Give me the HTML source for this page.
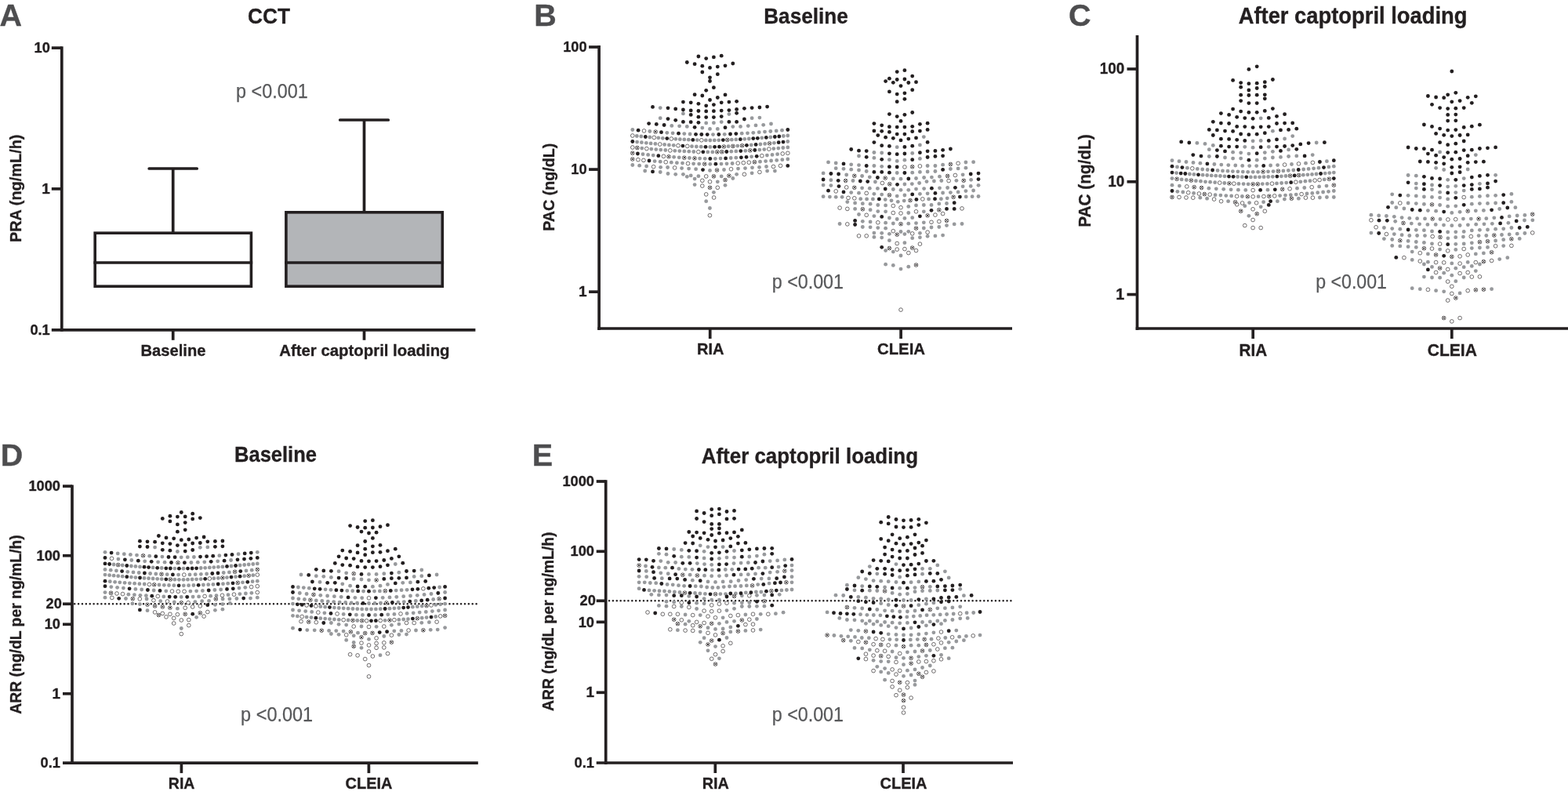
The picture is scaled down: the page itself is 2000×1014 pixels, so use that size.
<!DOCTYPE html>
<html lang="en"><head><meta charset="utf-8"><title>Figure</title>
<style>
html,body{margin:0;padding:0;background:#fff;}
body{width:2000px;height:1014px;overflow:hidden;}
svg{display:block;font-family:"Liberation Sans",sans-serif;}
.b{fill:#231f20} .g{fill:#97999c} .o{fill:#fff;stroke:#231f20;stroke-width:.65} .x{fill:#fff;stroke:#231f20;stroke-width:.65}
</style></head>
<body>
<svg width="2000" height="1014" viewBox="0 0 2000 1014">
<rect width="2000" height="1014" fill="#fff"/>
<text x="-0.5" y="32.8" font-size="39.5" font-weight="bold" text-anchor="start" fill="#4d4d4f" stroke="#4d4d4f" stroke-width="0.35">A</text>
<text x="343.0" y="29.7" font-size="28.3" font-weight="bold" text-anchor="middle" fill="#231f20" stroke="#231f20" stroke-width="0.35" textLength="54.0" lengthAdjust="spacingAndGlyphs">CCT</text>
<line x1="78.8" y1="59.2" x2="78.8" y2="422.7" stroke="#231f20" stroke-width="3.7" stroke-linecap="butt" />
<line x1="65.8" y1="420.8" x2="606.4" y2="420.8" stroke="#231f20" stroke-width="3.7" stroke-linecap="butt" />
<line x1="65.8" y1="61.1" x2="78.8" y2="61.1" stroke="#231f20" stroke-width="3.7" stroke-linecap="butt" />
<text x="63.8" y="67.2" font-size="19" font-weight="bold" text-anchor="end" fill="#231f20" stroke="#231f20" stroke-width="0.35" textLength="20.3" lengthAdjust="spacingAndGlyphs">10</text>
<line x1="65.8" y1="240.9" x2="78.8" y2="240.9" stroke="#231f20" stroke-width="3.7" stroke-linecap="butt" />
<text x="63.8" y="247.0" font-size="19" font-weight="bold" text-anchor="end" fill="#231f20" stroke="#231f20" stroke-width="0.35">1</text>
<text x="63.8" y="426.9" font-size="19" font-weight="bold" text-anchor="end" fill="#231f20" stroke="#231f20" stroke-width="0.35" textLength="25.4" lengthAdjust="spacingAndGlyphs">0.1</text>
<text x="26.8" y="240.3" font-size="21" font-weight="bold" text-anchor="middle" fill="#231f20" stroke="#231f20" stroke-width="0.35" textLength="137.5" lengthAdjust="spacingAndGlyphs" transform="rotate(-90 26.8 240.3)">PRA (ng/mL/h)</text>
<line x1="220.7" y1="420.8" x2="220.7" y2="433.8" stroke="#231f20" stroke-width="3.7" stroke-linecap="butt" />
<text x="221.0" y="454.3" font-size="20.5" font-weight="bold" text-anchor="middle" fill="#231f20" stroke="#231f20" stroke-width="0.35" textLength="83.0" lengthAdjust="spacingAndGlyphs">Baseline</text>
<line x1="464.5" y1="420.8" x2="464.5" y2="433.8" stroke="#231f20" stroke-width="3.7" stroke-linecap="butt" />
<text x="464.9" y="454.3" font-size="20.5" font-weight="bold" text-anchor="middle" fill="#231f20" stroke="#231f20" stroke-width="0.35" textLength="217.3" lengthAdjust="spacingAndGlyphs">After captopril loading</text>
<text x="301.0" y="125.0" font-size="26.3" font-weight="normal" text-anchor="start" fill="#58595b" stroke="#58595b" stroke-width="0.25" textLength="91.7" lengthAdjust="spacingAndGlyphs">p &lt;0.001</text>
<rect x="121.2" y="297.2" width="199.2" height="68.0" fill="#fff" stroke="#231f20" stroke-width="3.6"/>
<line x1="119.4" y1="335.0" x2="322.2" y2="335.0" stroke="#231f20" stroke-width="3.7" stroke-linecap="butt" />
<line x1="220.7" y1="215.0" x2="220.7" y2="296.4" stroke="#231f20" stroke-width="3.7" stroke-linecap="butt" />
<line x1="190.2" y1="215.0" x2="251.2" y2="215.0" stroke="#231f20" stroke-width="3.7" stroke-linecap="round" />
<rect x="364.9" y="270.8" width="199.4" height="94.4" fill="#b3b5b8" stroke="#231f20" stroke-width="3.6"/>
<line x1="363.1" y1="335.0" x2="566.1" y2="335.0" stroke="#231f20" stroke-width="3.7" stroke-linecap="butt" />
<line x1="464.5" y1="153.0" x2="464.5" y2="270.0" stroke="#231f20" stroke-width="3.7" stroke-linecap="butt" />
<line x1="433.7" y1="153.0" x2="495.3" y2="153.0" stroke="#231f20" stroke-width="3.7" stroke-linecap="round" />
<text x="681.3" y="32.6" font-size="39.5" font-weight="bold" text-anchor="start" fill="#4d4d4f" stroke="#4d4d4f" stroke-width="0.35">B</text>
<text x="1028.0" y="29.6" font-size="28.3" font-weight="bold" text-anchor="middle" fill="#231f20" stroke="#231f20" stroke-width="0.35" textLength="107.5" lengthAdjust="spacingAndGlyphs">Baseline</text>
<line x1="764.1" y1="58.0" x2="764.1" y2="420.9" stroke="#231f20" stroke-width="3.7" stroke-linecap="butt" />
<line x1="762.2" y1="419.0" x2="1291.0" y2="419.0" stroke="#231f20" stroke-width="3.7" stroke-linecap="butt" />
<line x1="751.1" y1="60.0" x2="764.1" y2="60.0" stroke="#231f20" stroke-width="3.7" stroke-linecap="butt" />
<text x="748.6" y="66.1" font-size="19" font-weight="bold" text-anchor="end" fill="#231f20" stroke="#231f20" stroke-width="0.35" textLength="30.4" lengthAdjust="spacingAndGlyphs">100</text>
<line x1="751.1" y1="216.1" x2="764.1" y2="216.1" stroke="#231f20" stroke-width="3.7" stroke-linecap="butt" />
<text x="748.6" y="222.2" font-size="19" font-weight="bold" text-anchor="end" fill="#231f20" stroke="#231f20" stroke-width="0.35" textLength="20.3" lengthAdjust="spacingAndGlyphs">10</text>
<line x1="751.1" y1="372.2" x2="764.1" y2="372.2" stroke="#231f20" stroke-width="3.7" stroke-linecap="butt" />
<text x="748.6" y="378.3" font-size="19" font-weight="bold" text-anchor="end" fill="#231f20" stroke="#231f20" stroke-width="0.35">1</text>
<text x="706.9" y="238.8" font-size="20.6" font-weight="bold" text-anchor="middle" fill="#231f20" stroke="#231f20" stroke-width="0.35" textLength="112.0" lengthAdjust="spacingAndGlyphs" transform="rotate(-90 706.9 238.8)">PAC (ng/dL)</text>
<line x1="905.7" y1="419.0" x2="905.7" y2="432.0" stroke="#231f20" stroke-width="3.7" stroke-linecap="butt" />
<text x="906.2" y="452.4" font-size="20.5" font-weight="bold" text-anchor="middle" fill="#231f20" stroke="#231f20" stroke-width="0.35" textLength="34.5" lengthAdjust="spacingAndGlyphs">RIA</text>
<line x1="1149.1" y1="419.0" x2="1149.1" y2="432.0" stroke="#231f20" stroke-width="3.7" stroke-linecap="butt" />
<text x="1149.5" y="452.4" font-size="20.5" font-weight="bold" text-anchor="middle" fill="#231f20" stroke="#231f20" stroke-width="0.35" textLength="61.0" lengthAdjust="spacingAndGlyphs">CLEIA</text>
<text x="984.8" y="367.8" font-size="26.3" font-weight="normal" text-anchor="start" fill="#58595b" stroke="#58595b" stroke-width="0.25" textLength="91.2" lengthAdjust="spacingAndGlyphs">p &lt;0.001</text>
<text x="1363.0" y="33.0" font-size="39.5" font-weight="bold" text-anchor="start" fill="#4d4d4f" stroke="#4d4d4f" stroke-width="0.35">C</text>
<text x="1725.6" y="30.0" font-size="29.5" font-weight="bold" text-anchor="middle" fill="#231f20" stroke="#231f20" stroke-width="0.35" textLength="291.8" lengthAdjust="spacingAndGlyphs">After captopril loading</text>
<line x1="1450.5" y1="44.9" x2="1450.5" y2="420.9" stroke="#231f20" stroke-width="3.7" stroke-linecap="butt" />
<line x1="1448.7" y1="419.0" x2="2000.0" y2="419.0" stroke="#231f20" stroke-width="3.7" stroke-linecap="butt" />
<line x1="1437.5" y1="88.0" x2="1450.5" y2="88.0" stroke="#231f20" stroke-width="3.7" stroke-linecap="butt" />
<text x="1434.3" y="94.1" font-size="19.7" font-weight="bold" text-anchor="end" fill="#231f20" stroke="#231f20" stroke-width="0.35" textLength="31.5" lengthAdjust="spacingAndGlyphs">100</text>
<line x1="1437.5" y1="231.8" x2="1450.5" y2="231.8" stroke="#231f20" stroke-width="3.7" stroke-linecap="butt" />
<text x="1434.3" y="237.9" font-size="19.7" font-weight="bold" text-anchor="end" fill="#231f20" stroke="#231f20" stroke-width="0.35" textLength="21.0" lengthAdjust="spacingAndGlyphs">10</text>
<line x1="1437.5" y1="375.6" x2="1450.5" y2="375.6" stroke="#231f20" stroke-width="3.7" stroke-linecap="butt" />
<text x="1434.3" y="381.7" font-size="19.7" font-weight="bold" text-anchor="end" fill="#231f20" stroke="#231f20" stroke-width="0.35">1</text>
<text x="1391.5" y="230.6" font-size="21.8" font-weight="bold" text-anchor="middle" fill="#231f20" stroke="#231f20" stroke-width="0.35" textLength="118.3" lengthAdjust="spacingAndGlyphs" transform="rotate(-90 1391.5 230.6)">PAC (ng/dL)</text>
<line x1="1598.2" y1="419.0" x2="1598.2" y2="432.0" stroke="#231f20" stroke-width="3.7" stroke-linecap="butt" />
<text x="1598.3" y="453.8" font-size="21.3" font-weight="bold" text-anchor="middle" fill="#231f20" stroke="#231f20" stroke-width="0.35" textLength="35.7" lengthAdjust="spacingAndGlyphs">RIA</text>
<line x1="1851.8" y1="419.0" x2="1851.8" y2="432.0" stroke="#231f20" stroke-width="3.7" stroke-linecap="butt" />
<text x="1852.3" y="453.8" font-size="21.3" font-weight="bold" text-anchor="middle" fill="#231f20" stroke="#231f20" stroke-width="0.35" textLength="63.2" lengthAdjust="spacingAndGlyphs">CLEIA</text>
<text x="1678.2" y="367.6" font-size="26.3" font-weight="normal" text-anchor="start" fill="#58595b" stroke="#58595b" stroke-width="0.25" textLength="90.8" lengthAdjust="spacingAndGlyphs">p &lt;0.001</text>
<text x="0.8" y="594.2" font-size="39.5" font-weight="bold" text-anchor="start" fill="#4d4d4f" stroke="#4d4d4f" stroke-width="0.35">D</text>
<text x="351.5" y="588.6" font-size="28.3" font-weight="bold" text-anchor="middle" fill="#231f20" stroke="#231f20" stroke-width="0.35" textLength="105.0" lengthAdjust="spacingAndGlyphs">Baseline</text>
<line x1="92.0" y1="618.4" x2="92.0" y2="975.0" stroke="#231f20" stroke-width="3.7" stroke-linecap="butt" />
<line x1="80.0" y1="973.1" x2="609.8" y2="973.1" stroke="#231f20" stroke-width="3.7" stroke-linecap="butt" />
<line x1="80.0" y1="620.1" x2="92.0" y2="620.1" stroke="#231f20" stroke-width="3.7" stroke-linecap="butt" />
<text x="77.0" y="626.2" font-size="19" font-weight="bold" text-anchor="end" fill="#231f20" stroke="#231f20" stroke-width="0.35" textLength="40.6" lengthAdjust="spacingAndGlyphs">1000</text>
<line x1="80.0" y1="708.7" x2="92.0" y2="708.7" stroke="#231f20" stroke-width="3.7" stroke-linecap="butt" />
<text x="77.0" y="714.8" font-size="19" font-weight="bold" text-anchor="end" fill="#231f20" stroke="#231f20" stroke-width="0.35" textLength="30.4" lengthAdjust="spacingAndGlyphs">100</text>
<line x1="80.0" y1="770.3" x2="92.0" y2="770.3" stroke="#231f20" stroke-width="3.7" stroke-linecap="butt" />
<text x="78.8" y="776.4" font-size="19" font-weight="bold" text-anchor="end" fill="#231f20" stroke="#231f20" stroke-width="0.35" textLength="20.3" lengthAdjust="spacingAndGlyphs">20</text>
<line x1="80.0" y1="796.3" x2="92.0" y2="796.3" stroke="#231f20" stroke-width="3.7" stroke-linecap="butt" />
<text x="77.0" y="802.4" font-size="19" font-weight="bold" text-anchor="end" fill="#231f20" stroke="#231f20" stroke-width="0.35" textLength="20.3" lengthAdjust="spacingAndGlyphs">10</text>
<line x1="80.0" y1="884.8" x2="92.0" y2="884.8" stroke="#231f20" stroke-width="3.7" stroke-linecap="butt" />
<text x="77.0" y="890.9" font-size="19" font-weight="bold" text-anchor="end" fill="#231f20" stroke="#231f20" stroke-width="0.35">1</text>
<text x="77.0" y="979.2" font-size="19" font-weight="bold" text-anchor="end" fill="#231f20" stroke="#231f20" stroke-width="0.35" textLength="25.4" lengthAdjust="spacingAndGlyphs">0.1</text>
<text x="26.5" y="796.5" font-size="20.6" font-weight="bold" text-anchor="middle" fill="#231f20" stroke="#231f20" stroke-width="0.35" textLength="228.5" lengthAdjust="spacingAndGlyphs" transform="rotate(-90 26.5 796.5)">ARR (ng/dL per ng/mL/h)</text>
<line x1="231.4" y1="973.1" x2="231.4" y2="986.1" stroke="#231f20" stroke-width="3.7" stroke-linecap="butt" />
<text x="231.6" y="1006.0" font-size="20.5" font-weight="bold" text-anchor="middle" fill="#231f20" stroke="#231f20" stroke-width="0.35" textLength="33.6" lengthAdjust="spacingAndGlyphs">RIA</text>
<line x1="470.4" y1="973.1" x2="470.4" y2="986.1" stroke="#231f20" stroke-width="3.7" stroke-linecap="butt" />
<text x="470.5" y="1006.0" font-size="20.5" font-weight="bold" text-anchor="middle" fill="#231f20" stroke="#231f20" stroke-width="0.35" textLength="60.0" lengthAdjust="spacingAndGlyphs">CLEIA</text>
<text x="307.1" y="919.7" font-size="26.3" font-weight="normal" text-anchor="start" fill="#58595b" stroke="#58595b" stroke-width="0.25" textLength="92.1" lengthAdjust="spacingAndGlyphs">p &lt;0.001</text>
<text x="678.8" y="593.8" font-size="39.5" font-weight="bold" text-anchor="start" fill="#4d4d4f" stroke="#4d4d4f" stroke-width="0.35">E</text>
<text x="1032.9" y="591.3" font-size="28.3" font-weight="bold" text-anchor="middle" fill="#231f20" stroke="#231f20" stroke-width="0.35" textLength="276.2" lengthAdjust="spacingAndGlyphs">After captopril loading</text>
<line x1="772.7" y1="612.2" x2="772.7" y2="974.9" stroke="#231f20" stroke-width="3.7" stroke-linecap="butt" />
<line x1="760.7" y1="973.0" x2="1292.0" y2="973.0" stroke="#231f20" stroke-width="3.7" stroke-linecap="butt" />
<line x1="760.7" y1="614.0" x2="772.7" y2="614.0" stroke="#231f20" stroke-width="3.7" stroke-linecap="butt" />
<text x="758.0" y="620.1" font-size="19" font-weight="bold" text-anchor="end" fill="#231f20" stroke="#231f20" stroke-width="0.35" textLength="40.6" lengthAdjust="spacingAndGlyphs">1000</text>
<line x1="760.7" y1="703.3" x2="772.7" y2="703.3" stroke="#231f20" stroke-width="3.7" stroke-linecap="butt" />
<text x="758.0" y="709.4" font-size="19" font-weight="bold" text-anchor="end" fill="#231f20" stroke="#231f20" stroke-width="0.35" textLength="30.4" lengthAdjust="spacingAndGlyphs">100</text>
<line x1="760.7" y1="766.3" x2="772.7" y2="766.3" stroke="#231f20" stroke-width="3.7" stroke-linecap="butt" />
<text x="759.8" y="772.4" font-size="19" font-weight="bold" text-anchor="end" fill="#231f20" stroke="#231f20" stroke-width="0.35" textLength="20.3" lengthAdjust="spacingAndGlyphs">20</text>
<line x1="760.7" y1="793.4" x2="772.7" y2="793.4" stroke="#231f20" stroke-width="3.7" stroke-linecap="butt" />
<text x="758.0" y="799.5" font-size="19" font-weight="bold" text-anchor="end" fill="#231f20" stroke="#231f20" stroke-width="0.35" textLength="20.3" lengthAdjust="spacingAndGlyphs">10</text>
<line x1="760.7" y1="883.3" x2="772.7" y2="883.3" stroke="#231f20" stroke-width="3.7" stroke-linecap="butt" />
<text x="758.0" y="889.4" font-size="19" font-weight="bold" text-anchor="end" fill="#231f20" stroke="#231f20" stroke-width="0.35">1</text>
<text x="758.0" y="979.1" font-size="19" font-weight="bold" text-anchor="end" fill="#231f20" stroke="#231f20" stroke-width="0.35" textLength="25.4" lengthAdjust="spacingAndGlyphs">0.1</text>
<text x="706.5" y="792.8" font-size="20.6" font-weight="bold" text-anchor="middle" fill="#231f20" stroke="#231f20" stroke-width="0.35" textLength="228.5" lengthAdjust="spacingAndGlyphs" transform="rotate(-90 706.5 792.8)">ARR (ng/dL per ng/mL/h)</text>
<line x1="912.3" y1="973.0" x2="912.3" y2="986.0" stroke="#231f20" stroke-width="3.7" stroke-linecap="butt" />
<text x="912.8" y="1006.0" font-size="20.5" font-weight="bold" text-anchor="middle" fill="#231f20" stroke="#231f20" stroke-width="0.35" textLength="34.1" lengthAdjust="spacingAndGlyphs">RIA</text>
<line x1="1152.0" y1="973.0" x2="1152.0" y2="986.0" stroke="#231f20" stroke-width="3.7" stroke-linecap="butt" />
<text x="1152.5" y="1006.0" font-size="20.5" font-weight="bold" text-anchor="middle" fill="#231f20" stroke="#231f20" stroke-width="0.35" textLength="60.0" lengthAdjust="spacingAndGlyphs">CLEIA</text>
<text x="984.8" y="919.6" font-size="26.3" font-weight="normal" text-anchor="start" fill="#58595b" stroke="#58595b" stroke-width="0.25" textLength="91.2" lengthAdjust="spacingAndGlyphs">p &lt;0.001</text>
<line x1="95.2" y1="770.3" x2="608" y2="770.3" stroke="#231f20" stroke-width="2.5" stroke-linecap="round" stroke-dasharray="0.01 4.87"/>
<line x1="777" y1="766.3" x2="1292" y2="766.3" stroke="#231f20" stroke-width="2.5" stroke-linecap="round" stroke-dasharray="0.01 4.87"/>
<g class="g">
<circle cx="842.2" cy="137.6" r="2.42"/>
<circle cx="871.4" cy="144.9" r="2.42"/>
<circle cx="929.9" cy="145.6" r="2.42"/>
<circle cx="842.2" cy="150.7" r="2.42"/>
<circle cx="900.7" cy="156.9" r="2.42"/>
<circle cx="910.4" cy="156.7" r="2.42"/>
<circle cx="920.2" cy="155.6" r="2.42"/>
<circle cx="959.1" cy="150.7" r="2.42"/>
<circle cx="968.9" cy="150.1" r="2.42"/>
<circle cx="856.8" cy="160.4" r="2.42"/>
<circle cx="866.6" cy="160.8" r="2.42"/>
<circle cx="876.3" cy="161.4" r="2.42"/>
<circle cx="895.8" cy="163.1" r="2.42"/>
<circle cx="905.5" cy="164.4" r="2.42"/>
<circle cx="915.3" cy="164.4" r="2.42"/>
<circle cx="934.8" cy="161.6" r="2.42"/>
<circle cx="944.5" cy="161.4" r="2.42"/>
<circle cx="954.3" cy="160.6" r="2.42"/>
<circle cx="964.0" cy="159.9" r="2.42"/>
<circle cx="973.7" cy="159.3" r="2.42"/>
<circle cx="983.5" cy="158.0" r="2.42"/>
<circle cx="806.8" cy="165.5" r="2.42"/>
<circle cx="828.8" cy="167.5" r="2.42"/>
<circle cx="850.8" cy="169.3" r="2.42"/>
<circle cx="858.1" cy="169.8" r="2.42"/>
<circle cx="872.8" cy="170.6" r="2.42"/>
<circle cx="880.1" cy="171.0" r="2.42"/>
<circle cx="909.5" cy="171.6" r="2.42"/>
<circle cx="924.2" cy="171.3" r="2.42"/>
<circle cx="946.2" cy="170.2" r="2.42"/>
<circle cx="953.5" cy="169.8" r="2.42"/>
<circle cx="960.8" cy="169.3" r="2.42"/>
<circle cx="968.2" cy="168.7" r="2.42"/>
<circle cx="975.5" cy="168.1" r="2.42"/>
<circle cx="982.8" cy="167.5" r="2.42"/>
<circle cx="990.2" cy="166.9" r="2.42"/>
<circle cx="997.5" cy="166.2" r="2.42"/>
<circle cx="812.3" cy="173.5" r="2.42"/>
<circle cx="817.8" cy="174.0" r="2.42"/>
<circle cx="828.8" cy="175.0" r="2.42"/>
<circle cx="839.8" cy="175.8" r="2.42"/>
<circle cx="845.3" cy="176.3" r="2.42"/>
<circle cx="861.8" cy="177.3" r="2.42"/>
<circle cx="867.3" cy="177.7" r="2.42"/>
<circle cx="872.8" cy="177.9" r="2.42"/>
<circle cx="878.3" cy="178.2" r="2.42"/>
<circle cx="889.3" cy="178.6" r="2.42"/>
<circle cx="900.3" cy="178.9" r="2.42"/>
<circle cx="905.8" cy="179.0" r="2.42"/>
<circle cx="911.3" cy="178.9" r="2.42"/>
<circle cx="916.8" cy="178.8" r="2.42"/>
<circle cx="933.3" cy="178.2" r="2.42"/>
<circle cx="938.8" cy="177.9" r="2.42"/>
<circle cx="949.8" cy="177.3" r="2.42"/>
<circle cx="955.3" cy="177.0" r="2.42"/>
<circle cx="971.8" cy="175.8" r="2.42"/>
<circle cx="982.8" cy="175.0" r="2.42"/>
<circle cx="999.3" cy="173.5" r="2.42"/>
<circle cx="1004.8" cy="173.0" r="2.42"/>
<circle cx="812.6" cy="181.1" r="2.42"/>
<circle cx="818.4" cy="181.7" r="2.42"/>
<circle cx="824.3" cy="182.3" r="2.42"/>
<circle cx="830.1" cy="182.9" r="2.42"/>
<circle cx="835.9" cy="183.4" r="2.42"/>
<circle cx="847.6" cy="184.4" r="2.42"/>
<circle cx="853.4" cy="184.9" r="2.42"/>
<circle cx="859.2" cy="185.3" r="2.42"/>
<circle cx="882.5" cy="186.7" r="2.42"/>
<circle cx="888.3" cy="187.0" r="2.42"/>
<circle cx="894.2" cy="187.2" r="2.42"/>
<circle cx="905.8" cy="187.4" r="2.42"/>
<circle cx="929.1" cy="186.7" r="2.42"/>
<circle cx="940.8" cy="186.1" r="2.42"/>
<circle cx="958.2" cy="184.9" r="2.42"/>
<circle cx="969.9" cy="184.0" r="2.42"/>
<circle cx="975.7" cy="183.4" r="2.42"/>
<circle cx="987.4" cy="182.3" r="2.42"/>
<circle cx="1004.8" cy="180.5" r="2.42"/>
<circle cx="818.8" cy="189.1" r="2.42"/>
<circle cx="830.8" cy="190.1" r="2.42"/>
<circle cx="836.8" cy="190.6" r="2.42"/>
<circle cx="842.8" cy="191.1" r="2.42"/>
<circle cx="848.8" cy="191.5" r="2.42"/>
<circle cx="860.8" cy="192.3" r="2.42"/>
<circle cx="866.8" cy="192.6" r="2.42"/>
<circle cx="872.8" cy="192.9" r="2.42"/>
<circle cx="878.8" cy="193.2" r="2.42"/>
<circle cx="884.8" cy="193.5" r="2.42"/>
<circle cx="902.8" cy="193.9" r="2.42"/>
<circle cx="908.8" cy="193.9" r="2.42"/>
<circle cx="932.8" cy="193.2" r="2.42"/>
<circle cx="938.8" cy="192.9" r="2.42"/>
<circle cx="950.8" cy="192.3" r="2.42"/>
<circle cx="968.8" cy="191.1" r="2.42"/>
<circle cx="974.8" cy="190.6" r="2.42"/>
<circle cx="986.8" cy="189.6" r="2.42"/>
<circle cx="992.8" cy="189.1" r="2.42"/>
<circle cx="998.8" cy="188.5" r="2.42"/>
<circle cx="1004.8" cy="188.0" r="2.42"/>
<circle cx="820.0" cy="196.7" r="2.42"/>
<circle cx="826.6" cy="197.4" r="2.42"/>
<circle cx="833.2" cy="198.1" r="2.42"/>
<circle cx="859.6" cy="200.3" r="2.42"/>
<circle cx="866.2" cy="200.8" r="2.42"/>
<circle cx="879.4" cy="201.5" r="2.42"/>
<circle cx="892.6" cy="202.1" r="2.42"/>
<circle cx="899.2" cy="202.3" r="2.42"/>
<circle cx="912.4" cy="202.3" r="2.42"/>
<circle cx="919.0" cy="202.1" r="2.42"/>
<circle cx="932.2" cy="201.5" r="2.42"/>
<circle cx="938.8" cy="201.2" r="2.42"/>
<circle cx="958.6" cy="199.8" r="2.42"/>
<circle cx="978.4" cy="198.1" r="2.42"/>
<circle cx="985.0" cy="197.4" r="2.42"/>
<circle cx="991.6" cy="196.7" r="2.42"/>
<circle cx="835.1" cy="205.6" r="2.42"/>
<circle cx="842.2" cy="206.2" r="2.42"/>
<circle cx="856.3" cy="207.2" r="2.42"/>
<circle cx="863.4" cy="207.7" r="2.42"/>
<circle cx="870.5" cy="208.1" r="2.42"/>
<circle cx="884.6" cy="208.8" r="2.42"/>
<circle cx="891.7" cy="209.1" r="2.42"/>
<circle cx="905.8" cy="209.3" r="2.42"/>
<circle cx="920.0" cy="209.1" r="2.42"/>
<circle cx="927.0" cy="208.8" r="2.42"/>
<circle cx="934.1" cy="208.5" r="2.42"/>
<circle cx="969.5" cy="206.2" r="2.42"/>
<circle cx="976.6" cy="205.6" r="2.42"/>
<circle cx="983.6" cy="205.0" r="2.42"/>
<circle cx="990.7" cy="204.4" r="2.42"/>
<circle cx="997.8" cy="203.7" r="2.42"/>
<circle cx="1004.8" cy="203.0" r="2.42"/>
<circle cx="806.8" cy="210.5" r="2.42"/>
<circle cx="815.6" cy="211.2" r="2.42"/>
<circle cx="824.6" cy="212.0" r="2.42"/>
<circle cx="842.6" cy="213.3" r="2.42"/>
<circle cx="851.6" cy="213.5" r="2.42"/>
<circle cx="869.6" cy="214.6" r="2.42"/>
<circle cx="878.6" cy="215.1" r="2.42"/>
<circle cx="887.6" cy="215.7" r="2.42"/>
<circle cx="905.5" cy="217.4" r="2.42"/>
<circle cx="923.5" cy="216.5" r="2.42"/>
<circle cx="941.5" cy="215.1" r="2.42"/>
<circle cx="950.5" cy="214.6" r="2.42"/>
<circle cx="959.5" cy="213.8" r="2.42"/>
<circle cx="968.5" cy="213.3" r="2.42"/>
<circle cx="977.5" cy="212.5" r="2.42"/>
<circle cx="822.7" cy="218.0" r="2.42"/>
<circle cx="842.2" cy="219.5" r="2.42"/>
<circle cx="852.0" cy="221.5" r="2.42"/>
<circle cx="861.7" cy="222.3" r="2.42"/>
<circle cx="871.4" cy="222.3" r="2.42"/>
<circle cx="876.3" cy="225.3" r="2.42"/>
<circle cx="881.2" cy="223.9" r="2.42"/>
<circle cx="886.1" cy="228.1" r="2.42"/>
<circle cx="890.9" cy="224.7" r="2.42"/>
<circle cx="920.2" cy="224.9" r="2.42"/>
<circle cx="934.8" cy="227.5" r="2.42"/>
<circle cx="939.6" cy="222.3" r="2.42"/>
<circle cx="959.1" cy="220.8" r="2.42"/>
<circle cx="978.6" cy="218.1" r="2.42"/>
<circle cx="988.4" cy="218.1" r="2.42"/>
<circle cx="915.3" cy="231.8" r="2.42"/>
<circle cx="886.1" cy="235.6" r="2.42"/>
<circle cx="925.0" cy="236.3" r="2.42"/>
<circle cx="910.4" cy="245.3" r="2.42"/>
<circle cx="900.7" cy="256.7" r="2.42"/>
<circle cx="905.4" cy="265.5" r="2.42"/>
<circle cx="1178.3" cy="174.6" r="2.42"/>
<circle cx="1144.2" cy="187.7" r="2.42"/>
<circle cx="1173.4" cy="184.9" r="2.42"/>
<circle cx="1114.9" cy="194.5" r="2.42"/>
<circle cx="1124.7" cy="195.0" r="2.42"/>
<circle cx="1163.7" cy="195.4" r="2.42"/>
<circle cx="1095.5" cy="199.0" r="2.42"/>
<circle cx="1114.9" cy="201.4" r="2.42"/>
<circle cx="1134.4" cy="203.7" r="2.42"/>
<circle cx="1144.2" cy="205.4" r="2.42"/>
<circle cx="1153.9" cy="204.2" r="2.42"/>
<circle cx="1173.4" cy="202.4" r="2.42"/>
<circle cx="1056.5" cy="206.9" r="2.42"/>
<circle cx="1066.2" cy="208.0" r="2.42"/>
<circle cx="1085.7" cy="209.8" r="2.42"/>
<circle cx="1095.5" cy="210.6" r="2.42"/>
<circle cx="1114.9" cy="211.5" r="2.42"/>
<circle cx="1124.7" cy="212.3" r="2.42"/>
<circle cx="1183.1" cy="211.5" r="2.42"/>
<circle cx="1192.9" cy="211.5" r="2.42"/>
<circle cx="1202.6" cy="210.2" r="2.42"/>
<circle cx="1231.9" cy="207.0" r="2.42"/>
<circle cx="1241.6" cy="206.7" r="2.42"/>
<circle cx="1066.2" cy="214.7" r="2.42"/>
<circle cx="1076.0" cy="215.3" r="2.42"/>
<circle cx="1085.7" cy="216.2" r="2.42"/>
<circle cx="1095.5" cy="217.0" r="2.42"/>
<circle cx="1105.2" cy="218.5" r="2.42"/>
<circle cx="1144.2" cy="220.5" r="2.42"/>
<circle cx="1163.7" cy="220.2" r="2.42"/>
<circle cx="1173.4" cy="219.4" r="2.42"/>
<circle cx="1183.1" cy="219.0" r="2.42"/>
<circle cx="1192.9" cy="218.5" r="2.42"/>
<circle cx="1212.4" cy="215.5" r="2.42"/>
<circle cx="1222.1" cy="214.9" r="2.42"/>
<circle cx="1231.9" cy="214.2" r="2.42"/>
<circle cx="1050.1" cy="220.9" r="2.42"/>
<circle cx="1079.7" cy="223.0" r="2.42"/>
<circle cx="1099.6" cy="224.5" r="2.42"/>
<circle cx="1109.3" cy="225.8" r="2.42"/>
<circle cx="1139.3" cy="228.0" r="2.42"/>
<circle cx="1149.0" cy="228.2" r="2.42"/>
<circle cx="1168.5" cy="227.5" r="2.42"/>
<circle cx="1178.6" cy="226.5" r="2.42"/>
<circle cx="1188.4" cy="226.1" r="2.42"/>
<circle cx="1198.5" cy="225.2" r="2.42"/>
<circle cx="1228.1" cy="222.8" r="2.42"/>
<circle cx="1059.9" cy="229.7" r="2.42"/>
<circle cx="1088.0" cy="230.5" r="2.42"/>
<circle cx="1116.4" cy="232.0" r="2.42"/>
<circle cx="1153.9" cy="235.0" r="2.42"/>
<circle cx="1163.3" cy="234.6" r="2.42"/>
<circle cx="1172.6" cy="233.5" r="2.42"/>
<circle cx="1182.0" cy="231.6" r="2.42"/>
<circle cx="1191.4" cy="231.0" r="2.42"/>
<circle cx="1200.8" cy="230.5" r="2.42"/>
<circle cx="1219.9" cy="230.3" r="2.42"/>
<circle cx="1238.6" cy="229.3" r="2.42"/>
<circle cx="1050.1" cy="236.1" r="2.42"/>
<circle cx="1059.9" cy="236.6" r="2.42"/>
<circle cx="1099.6" cy="239.8" r="2.42"/>
<circle cx="1109.3" cy="240.2" r="2.42"/>
<circle cx="1119.4" cy="240.4" r="2.42"/>
<circle cx="1139.3" cy="241.5" r="2.42"/>
<circle cx="1149.0" cy="242.3" r="2.42"/>
<circle cx="1158.8" cy="242.3" r="2.42"/>
<circle cx="1168.5" cy="241.1" r="2.42"/>
<circle cx="1178.6" cy="240.6" r="2.42"/>
<circle cx="1198.5" cy="239.8" r="2.42"/>
<circle cx="1208.6" cy="239.5" r="2.42"/>
<circle cx="1228.1" cy="237.8" r="2.42"/>
<circle cx="1238.2" cy="237.4" r="2.42"/>
<circle cx="1248.0" cy="236.3" r="2.42"/>
<circle cx="1085.7" cy="245.6" r="2.42"/>
<circle cx="1095.5" cy="246.2" r="2.42"/>
<circle cx="1114.9" cy="247.3" r="2.42"/>
<circle cx="1124.7" cy="248.1" r="2.42"/>
<circle cx="1144.2" cy="250.1" r="2.42"/>
<circle cx="1153.9" cy="249.0" r="2.42"/>
<circle cx="1173.4" cy="247.3" r="2.42"/>
<circle cx="1183.1" cy="246.8" r="2.42"/>
<circle cx="1202.6" cy="246.0" r="2.42"/>
<circle cx="1212.4" cy="245.6" r="2.42"/>
<circle cx="1222.1" cy="244.9" r="2.42"/>
<circle cx="1231.9" cy="243.6" r="2.42"/>
<circle cx="1241.6" cy="243.0" r="2.42"/>
<circle cx="1050.1" cy="250.7" r="2.42"/>
<circle cx="1058.4" cy="251.1" r="2.42"/>
<circle cx="1066.2" cy="251.3" r="2.42"/>
<circle cx="1074.1" cy="251.3" r="2.42"/>
<circle cx="1097.7" cy="253.7" r="2.42"/>
<circle cx="1105.6" cy="253.9" r="2.42"/>
<circle cx="1113.4" cy="253.9" r="2.42"/>
<circle cx="1129.2" cy="254.6" r="2.42"/>
<circle cx="1137.0" cy="255.8" r="2.42"/>
<circle cx="1145.3" cy="257.3" r="2.42"/>
<circle cx="1153.2" cy="256.1" r="2.42"/>
<circle cx="1184.6" cy="253.9" r="2.42"/>
<circle cx="1200.4" cy="253.7" r="2.42"/>
<circle cx="1208.2" cy="252.8" r="2.42"/>
<circle cx="1232.2" cy="250.9" r="2.42"/>
<circle cx="1240.1" cy="250.7" r="2.42"/>
<circle cx="1248.0" cy="250.5" r="2.42"/>
<circle cx="1080.8" cy="257.6" r="2.42"/>
<circle cx="1090.6" cy="258.9" r="2.42"/>
<circle cx="1100.3" cy="259.7" r="2.42"/>
<circle cx="1110.1" cy="260.2" r="2.42"/>
<circle cx="1119.8" cy="261.5" r="2.42"/>
<circle cx="1129.6" cy="261.9" r="2.42"/>
<circle cx="1158.8" cy="263.4" r="2.42"/>
<circle cx="1168.5" cy="261.9" r="2.42"/>
<circle cx="1178.3" cy="261.5" r="2.42"/>
<circle cx="1188.0" cy="261.4" r="2.42"/>
<circle cx="1197.8" cy="259.9" r="2.42"/>
<circle cx="1207.5" cy="259.5" r="2.42"/>
<circle cx="1090.6" cy="266.4" r="2.42"/>
<circle cx="1110.1" cy="267.7" r="2.42"/>
<circle cx="1119.8" cy="269.6" r="2.42"/>
<circle cx="1129.6" cy="269.8" r="2.42"/>
<circle cx="1158.8" cy="271.5" r="2.42"/>
<circle cx="1178.3" cy="269.8" r="2.42"/>
<circle cx="1095.5" cy="273.5" r="2.42"/>
<circle cx="1114.9" cy="275.6" r="2.42"/>
<circle cx="1134.4" cy="278.0" r="2.42"/>
<circle cx="1144.2" cy="279.5" r="2.42"/>
<circle cx="1153.9" cy="278.4" r="2.42"/>
<circle cx="1163.7" cy="277.7" r="2.42"/>
<circle cx="1071.1" cy="285.5" r="2.42"/>
<circle cx="1100.3" cy="282.3" r="2.42"/>
<circle cx="1110.1" cy="282.9" r="2.42"/>
<circle cx="1129.6" cy="284.2" r="2.42"/>
<circle cx="1139.3" cy="285.0" r="2.42"/>
<circle cx="1158.8" cy="285.2" r="2.42"/>
<circle cx="1168.5" cy="284.6" r="2.42"/>
<circle cx="1178.3" cy="283.8" r="2.42"/>
<circle cx="1217.2" cy="285.9" r="2.42"/>
<circle cx="1227.0" cy="285.5" r="2.42"/>
<circle cx="1100.3" cy="289.5" r="2.42"/>
<circle cx="1110.1" cy="289.8" r="2.42"/>
<circle cx="1119.8" cy="290.6" r="2.42"/>
<circle cx="1129.6" cy="291.2" r="2.42"/>
<circle cx="1149.0" cy="295.5" r="2.42"/>
<circle cx="1158.8" cy="295.3" r="2.42"/>
<circle cx="1178.3" cy="291.0" r="2.42"/>
<circle cx="1188.0" cy="290.0" r="2.42"/>
<circle cx="1197.8" cy="289.5" r="2.42"/>
<circle cx="1207.5" cy="287.6" r="2.42"/>
<circle cx="1114.9" cy="297.1" r="2.42"/>
<circle cx="1124.7" cy="297.3" r="2.42"/>
<circle cx="1134.4" cy="298.3" r="2.42"/>
<circle cx="1153.9" cy="298.6" r="2.42"/>
<circle cx="1173.4" cy="297.3" r="2.42"/>
<circle cx="1114.9" cy="302.4" r="2.42"/>
<circle cx="1124.7" cy="303.1" r="2.42"/>
<circle cx="1134.4" cy="306.7" r="2.42"/>
<circle cx="1163.7" cy="303.7" r="2.42"/>
<circle cx="1173.4" cy="302.8" r="2.42"/>
<circle cx="1183.1" cy="301.3" r="2.42"/>
<circle cx="1192.9" cy="300.9" r="2.42"/>
<circle cx="1202.6" cy="300.1" r="2.42"/>
<circle cx="1153.9" cy="309.7" r="2.42"/>
<circle cx="1129.6" cy="319.6" r="2.42"/>
<circle cx="1139.3" cy="321.1" r="2.42"/>
<circle cx="1149.0" cy="326.0" r="2.42"/>
<circle cx="1129.6" cy="337.2" r="2.42"/>
<circle cx="1139.3" cy="338.4" r="2.42"/>
<circle cx="1149.0" cy="343.1" r="2.42"/>
<circle cx="1158.8" cy="340.2" r="2.42"/>
<circle cx="1608.2" cy="150.8" r="2.42"/>
<circle cx="1623.4" cy="167.2" r="2.42"/>
<circle cx="1598.1" cy="179.8" r="2.42"/>
<circle cx="1608.2" cy="179.4" r="2.42"/>
<circle cx="1638.6" cy="177.0" r="2.42"/>
<circle cx="1648.7" cy="173.6" r="2.42"/>
<circle cx="1526.9" cy="182.4" r="2.42"/>
<circle cx="1537.0" cy="183.4" r="2.42"/>
<circle cx="1547.3" cy="185.4" r="2.42"/>
<circle cx="1587.8" cy="187.3" r="2.42"/>
<circle cx="1598.1" cy="188.2" r="2.42"/>
<circle cx="1618.3" cy="187.3" r="2.42"/>
<circle cx="1679.2" cy="182.0" r="2.42"/>
<circle cx="1542.3" cy="190.7" r="2.42"/>
<circle cx="1572.6" cy="194.2" r="2.42"/>
<circle cx="1582.7" cy="194.8" r="2.42"/>
<circle cx="1592.9" cy="196.1" r="2.42"/>
<circle cx="1613.3" cy="194.6" r="2.42"/>
<circle cx="1623.4" cy="193.3" r="2.42"/>
<circle cx="1643.6" cy="190.9" r="2.42"/>
<circle cx="1542.3" cy="199.5" r="2.42"/>
<circle cx="1562.5" cy="201.0" r="2.42"/>
<circle cx="1572.6" cy="202.1" r="2.42"/>
<circle cx="1582.7" cy="202.1" r="2.42"/>
<circle cx="1603.2" cy="204.2" r="2.42"/>
<circle cx="1613.3" cy="202.1" r="2.42"/>
<circle cx="1623.4" cy="201.0" r="2.42"/>
<circle cx="1633.5" cy="200.4" r="2.42"/>
<circle cx="1643.6" cy="199.5" r="2.42"/>
<circle cx="1653.8" cy="198.9" r="2.42"/>
<circle cx="1674.2" cy="197.6" r="2.42"/>
<circle cx="1495.0" cy="204.7" r="2.42"/>
<circle cx="1504.0" cy="205.7" r="2.42"/>
<circle cx="1513.0" cy="206.5" r="2.42"/>
<circle cx="1522.0" cy="207.4" r="2.42"/>
<circle cx="1530.9" cy="208.2" r="2.42"/>
<circle cx="1548.9" cy="209.5" r="2.42"/>
<circle cx="1557.8" cy="210.1" r="2.42"/>
<circle cx="1566.8" cy="210.6" r="2.42"/>
<circle cx="1575.8" cy="211.0" r="2.42"/>
<circle cx="1584.7" cy="211.4" r="2.42"/>
<circle cx="1593.7" cy="211.6" r="2.42"/>
<circle cx="1602.7" cy="211.6" r="2.42"/>
<circle cx="1620.6" cy="211.0" r="2.42"/>
<circle cx="1629.6" cy="210.6" r="2.42"/>
<circle cx="1647.5" cy="209.5" r="2.42"/>
<circle cx="1665.5" cy="208.2" r="2.42"/>
<circle cx="1692.4" cy="205.7" r="2.42"/>
<circle cx="1501.5" cy="212.9" r="2.42"/>
<circle cx="1514.4" cy="214.2" r="2.42"/>
<circle cx="1527.3" cy="215.4" r="2.42"/>
<circle cx="1533.7" cy="216.0" r="2.42"/>
<circle cx="1540.2" cy="216.5" r="2.42"/>
<circle cx="1553.1" cy="217.4" r="2.42"/>
<circle cx="1559.5" cy="217.9" r="2.42"/>
<circle cx="1566.0" cy="218.2" r="2.42"/>
<circle cx="1572.4" cy="218.6" r="2.42"/>
<circle cx="1578.9" cy="218.8" r="2.42"/>
<circle cx="1585.3" cy="219.1" r="2.42"/>
<circle cx="1591.7" cy="219.3" r="2.42"/>
<circle cx="1598.2" cy="219.3" r="2.42"/>
<circle cx="1604.6" cy="219.3" r="2.42"/>
<circle cx="1617.5" cy="218.8" r="2.42"/>
<circle cx="1624.0" cy="218.6" r="2.42"/>
<circle cx="1636.9" cy="217.9" r="2.42"/>
<circle cx="1643.3" cy="217.4" r="2.42"/>
<circle cx="1649.8" cy="217.0" r="2.42"/>
<circle cx="1662.7" cy="216.0" r="2.42"/>
<circle cx="1669.1" cy="215.4" r="2.42"/>
<circle cx="1675.6" cy="214.8" r="2.42"/>
<circle cx="1682.0" cy="214.2" r="2.42"/>
<circle cx="1694.9" cy="212.9" r="2.42"/>
<circle cx="1701.3" cy="212.2" r="2.42"/>
<circle cx="1500.6" cy="220.6" r="2.42"/>
<circle cx="1517.4" cy="222.0" r="2.42"/>
<circle cx="1522.9" cy="222.4" r="2.42"/>
<circle cx="1534.1" cy="223.2" r="2.42"/>
<circle cx="1539.7" cy="223.5" r="2.42"/>
<circle cx="1545.2" cy="223.9" r="2.42"/>
<circle cx="1550.8" cy="224.2" r="2.42"/>
<circle cx="1556.4" cy="224.5" r="2.42"/>
<circle cx="1562.0" cy="224.8" r="2.42"/>
<circle cx="1578.7" cy="225.5" r="2.42"/>
<circle cx="1584.3" cy="225.7" r="2.42"/>
<circle cx="1595.4" cy="225.9" r="2.42"/>
<circle cx="1601.0" cy="225.9" r="2.42"/>
<circle cx="1606.6" cy="225.8" r="2.42"/>
<circle cx="1612.1" cy="225.7" r="2.42"/>
<circle cx="1617.7" cy="225.5" r="2.42"/>
<circle cx="1623.3" cy="225.3" r="2.42"/>
<circle cx="1634.4" cy="224.8" r="2.42"/>
<circle cx="1640.0" cy="224.5" r="2.42"/>
<circle cx="1662.3" cy="223.2" r="2.42"/>
<circle cx="1667.9" cy="222.8" r="2.42"/>
<circle cx="1673.5" cy="222.4" r="2.42"/>
<circle cx="1679.0" cy="222.0" r="2.42"/>
<circle cx="1690.2" cy="221.1" r="2.42"/>
<circle cx="1695.8" cy="220.6" r="2.42"/>
<circle cx="1701.3" cy="220.1" r="2.42"/>
<circle cx="1495.0" cy="227.6" r="2.42"/>
<circle cx="1507.2" cy="228.9" r="2.42"/>
<circle cx="1513.3" cy="229.5" r="2.42"/>
<circle cx="1525.4" cy="230.7" r="2.42"/>
<circle cx="1531.5" cy="231.2" r="2.42"/>
<circle cx="1537.5" cy="231.8" r="2.42"/>
<circle cx="1543.6" cy="232.2" r="2.42"/>
<circle cx="1549.7" cy="232.7" r="2.42"/>
<circle cx="1561.8" cy="233.5" r="2.42"/>
<circle cx="1580.0" cy="234.4" r="2.42"/>
<circle cx="1586.1" cy="234.6" r="2.42"/>
<circle cx="1592.1" cy="234.8" r="2.42"/>
<circle cx="1610.3" cy="234.6" r="2.42"/>
<circle cx="1616.4" cy="234.4" r="2.42"/>
<circle cx="1628.5" cy="233.9" r="2.42"/>
<circle cx="1634.6" cy="233.5" r="2.42"/>
<circle cx="1640.7" cy="233.1" r="2.42"/>
<circle cx="1658.9" cy="231.8" r="2.42"/>
<circle cx="1664.9" cy="231.2" r="2.42"/>
<circle cx="1671.0" cy="230.7" r="2.42"/>
<circle cx="1689.2" cy="228.9" r="2.42"/>
<circle cx="1495.0" cy="236.2" r="2.42"/>
<circle cx="1504.4" cy="237.1" r="2.42"/>
<circle cx="1541.9" cy="240.2" r="2.42"/>
<circle cx="1551.3" cy="240.8" r="2.42"/>
<circle cx="1560.7" cy="241.3" r="2.42"/>
<circle cx="1570.1" cy="241.8" r="2.42"/>
<circle cx="1579.4" cy="242.2" r="2.42"/>
<circle cx="1588.8" cy="242.4" r="2.42"/>
<circle cx="1617.0" cy="242.2" r="2.42"/>
<circle cx="1654.5" cy="240.2" r="2.42"/>
<circle cx="1663.8" cy="239.5" r="2.42"/>
<circle cx="1682.6" cy="237.9" r="2.42"/>
<circle cx="1692.0" cy="237.1" r="2.42"/>
<circle cx="1501.9" cy="244.3" r="2.42"/>
<circle cx="1508.8" cy="245.0" r="2.42"/>
<circle cx="1522.6" cy="246.4" r="2.42"/>
<circle cx="1550.1" cy="248.7" r="2.42"/>
<circle cx="1556.9" cy="249.1" r="2.42"/>
<circle cx="1563.8" cy="249.6" r="2.42"/>
<circle cx="1570.7" cy="249.9" r="2.42"/>
<circle cx="1584.4" cy="250.5" r="2.42"/>
<circle cx="1605.1" cy="250.7" r="2.42"/>
<circle cx="1632.6" cy="249.6" r="2.42"/>
<circle cx="1639.5" cy="249.1" r="2.42"/>
<circle cx="1646.3" cy="248.7" r="2.42"/>
<circle cx="1653.2" cy="248.1" r="2.42"/>
<circle cx="1667.0" cy="247.0" r="2.42"/>
<circle cx="1673.8" cy="246.4" r="2.42"/>
<circle cx="1680.7" cy="245.7" r="2.42"/>
<circle cx="1687.6" cy="245.0" r="2.42"/>
<circle cx="1694.5" cy="244.3" r="2.42"/>
<circle cx="1701.3" cy="243.5" r="2.42"/>
<circle cx="1530.8" cy="252.2" r="2.42"/>
<circle cx="1539.6" cy="253.2" r="2.42"/>
<circle cx="1566.6" cy="256.7" r="2.42"/>
<circle cx="1587.8" cy="262.7" r="2.42"/>
<circle cx="1593.6" cy="258.6" r="2.42"/>
<circle cx="1608.2" cy="263.8" r="2.42"/>
<circle cx="1611.6" cy="257.7" r="2.42"/>
<circle cx="1629.4" cy="256.7" r="2.42"/>
<circle cx="1638.4" cy="254.1" r="2.42"/>
<circle cx="1656.4" cy="253.2" r="2.42"/>
<circle cx="1683.4" cy="252.0" r="2.42"/>
<circle cx="1692.4" cy="251.5" r="2.42"/>
<circle cx="1701.3" cy="251.5" r="2.42"/>
<circle cx="1592.9" cy="275.3" r="2.42"/>
<circle cx="1836.6" cy="193.9" r="2.42"/>
<circle cx="1882.3" cy="197.6" r="2.42"/>
<circle cx="1831.6" cy="214.3" r="2.42"/>
<circle cx="1841.7" cy="216.5" r="2.42"/>
<circle cx="1872.2" cy="216.0" r="2.42"/>
<circle cx="1796.1" cy="223.5" r="2.42"/>
<circle cx="1806.3" cy="224.2" r="2.42"/>
<circle cx="1846.7" cy="229.3" r="2.42"/>
<circle cx="1867.2" cy="227.6" r="2.42"/>
<circle cx="1907.6" cy="223.3" r="2.42"/>
<circle cx="1806.3" cy="234.1" r="2.42"/>
<circle cx="1826.5" cy="236.0" r="2.42"/>
<circle cx="1846.7" cy="238.1" r="2.42"/>
<circle cx="1856.8" cy="237.3" r="2.42"/>
<circle cx="1887.4" cy="234.3" r="2.42"/>
<circle cx="1806.3" cy="240.1" r="2.42"/>
<circle cx="1826.5" cy="241.8" r="2.42"/>
<circle cx="1836.6" cy="245.2" r="2.42"/>
<circle cx="1856.8" cy="245.6" r="2.42"/>
<circle cx="1867.2" cy="243.1" r="2.42"/>
<circle cx="1775.7" cy="247.8" r="2.42"/>
<circle cx="1796.1" cy="249.3" r="2.42"/>
<circle cx="1806.3" cy="249.9" r="2.42"/>
<circle cx="1816.4" cy="251.0" r="2.42"/>
<circle cx="1826.5" cy="251.4" r="2.42"/>
<circle cx="1836.6" cy="252.1" r="2.42"/>
<circle cx="1846.7" cy="253.8" r="2.42"/>
<circle cx="1877.3" cy="251.2" r="2.42"/>
<circle cx="1887.4" cy="250.4" r="2.42"/>
<circle cx="1897.5" cy="249.7" r="2.42"/>
<circle cx="1907.6" cy="249.3" r="2.42"/>
<circle cx="1927.9" cy="247.4" r="2.42"/>
<circle cx="1775.7" cy="258.5" r="2.42"/>
<circle cx="1796.1" cy="259.0" r="2.42"/>
<circle cx="1806.3" cy="259.6" r="2.42"/>
<circle cx="1816.4" cy="260.4" r="2.42"/>
<circle cx="1836.6" cy="261.5" r="2.42"/>
<circle cx="1846.7" cy="263.2" r="2.42"/>
<circle cx="1856.8" cy="262.8" r="2.42"/>
<circle cx="1877.3" cy="260.2" r="2.42"/>
<circle cx="1887.4" cy="259.6" r="2.42"/>
<circle cx="1897.5" cy="259.4" r="2.42"/>
<circle cx="1907.6" cy="259.0" r="2.42"/>
<circle cx="1927.9" cy="257.4" r="2.42"/>
<circle cx="1780.8" cy="264.7" r="2.42"/>
<circle cx="1790.9" cy="266.0" r="2.42"/>
<circle cx="1821.4" cy="268.6" r="2.42"/>
<circle cx="1831.6" cy="269.2" r="2.42"/>
<circle cx="1851.8" cy="271.4" r="2.42"/>
<circle cx="1862.1" cy="270.3" r="2.42"/>
<circle cx="1882.3" cy="268.8" r="2.42"/>
<circle cx="1892.4" cy="268.4" r="2.42"/>
<circle cx="1912.7" cy="266.5" r="2.42"/>
<circle cx="1932.9" cy="264.7" r="2.42"/>
<circle cx="1748.9" cy="274.2" r="2.42"/>
<circle cx="1758.7" cy="275.0" r="2.42"/>
<circle cx="1768.4" cy="275.5" r="2.42"/>
<circle cx="1778.3" cy="276.3" r="2.42"/>
<circle cx="1788.1" cy="277.6" r="2.42"/>
<circle cx="1797.8" cy="278.3" r="2.42"/>
<circle cx="1807.6" cy="278.7" r="2.42"/>
<circle cx="1817.5" cy="278.9" r="2.42"/>
<circle cx="1837.0" cy="279.5" r="2.42"/>
<circle cx="1866.4" cy="279.1" r="2.42"/>
<circle cx="1876.3" cy="279.1" r="2.42"/>
<circle cx="1895.8" cy="278.7" r="2.42"/>
<circle cx="1905.8" cy="277.8" r="2.42"/>
<circle cx="1925.2" cy="275.9" r="2.42"/>
<circle cx="1935.2" cy="275.0" r="2.42"/>
<circle cx="1944.9" cy="274.4" r="2.42"/>
<circle cx="1779.7" cy="282.3" r="2.42"/>
<circle cx="1800.3" cy="285.1" r="2.42"/>
<circle cx="1810.6" cy="285.8" r="2.42"/>
<circle cx="1820.9" cy="286.4" r="2.42"/>
<circle cx="1831.2" cy="286.4" r="2.42"/>
<circle cx="1841.5" cy="287.1" r="2.42"/>
<circle cx="1851.8" cy="287.7" r="2.42"/>
<circle cx="1862.1" cy="287.5" r="2.42"/>
<circle cx="1872.4" cy="286.8" r="2.42"/>
<circle cx="1882.7" cy="286.2" r="2.42"/>
<circle cx="1893.0" cy="285.8" r="2.42"/>
<circle cx="1903.3" cy="285.3" r="2.42"/>
<circle cx="1923.9" cy="284.3" r="2.42"/>
<circle cx="1944.5" cy="281.0" r="2.42"/>
<circle cx="1954.8" cy="280.8" r="2.42"/>
<circle cx="1765.4" cy="290.5" r="2.42"/>
<circle cx="1775.7" cy="291.6" r="2.42"/>
<circle cx="1785.8" cy="292.2" r="2.42"/>
<circle cx="1806.3" cy="293.3" r="2.42"/>
<circle cx="1816.4" cy="293.7" r="2.42"/>
<circle cx="1826.5" cy="295.0" r="2.42"/>
<circle cx="1846.7" cy="296.0" r="2.42"/>
<circle cx="1856.8" cy="295.8" r="2.42"/>
<circle cx="1867.2" cy="295.4" r="2.42"/>
<circle cx="1877.3" cy="293.9" r="2.42"/>
<circle cx="1887.4" cy="293.3" r="2.42"/>
<circle cx="1897.5" cy="293.0" r="2.42"/>
<circle cx="1907.6" cy="292.2" r="2.42"/>
<circle cx="1917.7" cy="291.8" r="2.42"/>
<circle cx="1927.9" cy="290.5" r="2.42"/>
<circle cx="1748.9" cy="297.1" r="2.42"/>
<circle cx="1778.3" cy="298.6" r="2.42"/>
<circle cx="1788.1" cy="299.7" r="2.42"/>
<circle cx="1797.8" cy="300.5" r="2.42"/>
<circle cx="1807.6" cy="300.5" r="2.42"/>
<circle cx="1817.5" cy="300.6" r="2.42"/>
<circle cx="1846.9" cy="303.8" r="2.42"/>
<circle cx="1856.7" cy="302.7" r="2.42"/>
<circle cx="1866.4" cy="302.1" r="2.42"/>
<circle cx="1886.1" cy="300.6" r="2.42"/>
<circle cx="1895.8" cy="300.5" r="2.42"/>
<circle cx="1915.5" cy="299.5" r="2.42"/>
<circle cx="1925.2" cy="299.0" r="2.42"/>
<circle cx="1935.2" cy="298.2" r="2.42"/>
<circle cx="1944.9" cy="297.5" r="2.42"/>
<circle cx="1765.4" cy="304.6" r="2.42"/>
<circle cx="1775.7" cy="305.5" r="2.42"/>
<circle cx="1796.1" cy="307.4" r="2.42"/>
<circle cx="1806.3" cy="308.5" r="2.42"/>
<circle cx="1816.4" cy="309.4" r="2.42"/>
<circle cx="1826.5" cy="310.8" r="2.42"/>
<circle cx="1856.8" cy="311.3" r="2.42"/>
<circle cx="1867.2" cy="310.9" r="2.42"/>
<circle cx="1877.3" cy="309.8" r="2.42"/>
<circle cx="1907.6" cy="307.0" r="2.42"/>
<circle cx="1917.7" cy="305.7" r="2.42"/>
<circle cx="1938.2" cy="304.4" r="2.42"/>
<circle cx="1775.7" cy="313.4" r="2.42"/>
<circle cx="1785.8" cy="313.9" r="2.42"/>
<circle cx="1796.1" cy="314.7" r="2.42"/>
<circle cx="1806.3" cy="315.4" r="2.42"/>
<circle cx="1836.6" cy="318.1" r="2.42"/>
<circle cx="1856.8" cy="318.4" r="2.42"/>
<circle cx="1877.3" cy="316.6" r="2.42"/>
<circle cx="1887.4" cy="316.0" r="2.42"/>
<circle cx="1897.5" cy="315.4" r="2.42"/>
<circle cx="1917.7" cy="313.6" r="2.42"/>
<circle cx="1801.2" cy="321.1" r="2.42"/>
<circle cx="1821.4" cy="323.9" r="2.42"/>
<circle cx="1882.3" cy="323.9" r="2.42"/>
<circle cx="1892.4" cy="322.9" r="2.42"/>
<circle cx="1801.2" cy="331.4" r="2.42"/>
<circle cx="1821.4" cy="334.2" r="2.42"/>
<circle cx="1816.4" cy="337.0" r="2.42"/>
<circle cx="1851.8" cy="335.9" r="2.42"/>
<circle cx="1872.2" cy="334.4" r="2.42"/>
<circle cx="1887.4" cy="337.0" r="2.42"/>
<circle cx="1912.7" cy="330.6" r="2.42"/>
<circle cx="1922.8" cy="328.7" r="2.42"/>
<circle cx="1826.5" cy="340.4" r="2.42"/>
<circle cx="1856.8" cy="342.2" r="2.42"/>
<circle cx="1867.2" cy="340.7" r="2.42"/>
<circle cx="1877.3" cy="339.4" r="2.42"/>
<circle cx="1841.7" cy="348.2" r="2.42"/>
<circle cx="1851.8" cy="351.2" r="2.42"/>
<circle cx="1882.3" cy="345.6" r="2.42"/>
<circle cx="1816.4" cy="353.1" r="2.42"/>
<circle cx="1826.5" cy="354.0" r="2.42"/>
<circle cx="1836.6" cy="354.2" r="2.42"/>
<circle cx="1867.2" cy="354.0" r="2.42"/>
<circle cx="1856.8" cy="358.7" r="2.42"/>
<circle cx="1801.2" cy="367.7" r="2.42"/>
<circle cx="1811.3" cy="368.7" r="2.42"/>
<circle cx="1831.6" cy="370.7" r="2.42"/>
<circle cx="1841.7" cy="371.8" r="2.42"/>
<circle cx="1862.1" cy="373.9" r="2.42"/>
<circle cx="1902.6" cy="368.7" r="2.42"/>
<circle cx="197.6" cy="698.1" r="2.42"/>
<circle cx="226.4" cy="703.5" r="2.42"/>
<circle cx="255.3" cy="698.3" r="2.42"/>
<circle cx="264.8" cy="697.9" r="2.42"/>
<circle cx="134.0" cy="704.3" r="2.42"/>
<circle cx="150.2" cy="705.9" r="2.42"/>
<circle cx="158.3" cy="706.7" r="2.42"/>
<circle cx="166.4" cy="707.4" r="2.42"/>
<circle cx="174.5" cy="708.1" r="2.42"/>
<circle cx="190.7" cy="709.2" r="2.42"/>
<circle cx="206.9" cy="710.1" r="2.42"/>
<circle cx="231.2" cy="710.8" r="2.42"/>
<circle cx="239.3" cy="710.7" r="2.42"/>
<circle cx="247.4" cy="710.5" r="2.42"/>
<circle cx="279.8" cy="708.7" r="2.42"/>
<circle cx="304.1" cy="706.7" r="2.42"/>
<circle cx="328.3" cy="704.3" r="2.42"/>
<circle cx="150.9" cy="713.1" r="2.42"/>
<circle cx="167.8" cy="714.5" r="2.42"/>
<circle cx="184.7" cy="715.8" r="2.42"/>
<circle cx="201.6" cy="716.8" r="2.42"/>
<circle cx="210.1" cy="717.2" r="2.42"/>
<circle cx="243.9" cy="717.5" r="2.42"/>
<circle cx="252.3" cy="717.2" r="2.42"/>
<circle cx="260.8" cy="716.8" r="2.42"/>
<circle cx="277.7" cy="715.8" r="2.42"/>
<circle cx="294.6" cy="714.5" r="2.42"/>
<circle cx="145.1" cy="720.0" r="2.42"/>
<circle cx="156.2" cy="721.0" r="2.42"/>
<circle cx="167.4" cy="722.0" r="2.42"/>
<circle cx="172.9" cy="722.4" r="2.42"/>
<circle cx="178.5" cy="722.9" r="2.42"/>
<circle cx="195.1" cy="723.9" r="2.42"/>
<circle cx="206.2" cy="724.5" r="2.42"/>
<circle cx="222.9" cy="725.1" r="2.42"/>
<circle cx="234.0" cy="725.2" r="2.42"/>
<circle cx="256.2" cy="724.5" r="2.42"/>
<circle cx="261.7" cy="724.3" r="2.42"/>
<circle cx="267.3" cy="723.9" r="2.42"/>
<circle cx="272.8" cy="723.6" r="2.42"/>
<circle cx="278.4" cy="723.2" r="2.42"/>
<circle cx="283.9" cy="722.9" r="2.42"/>
<circle cx="295.0" cy="722.0" r="2.42"/>
<circle cx="306.1" cy="721.0" r="2.42"/>
<circle cx="311.7" cy="720.5" r="2.42"/>
<circle cx="317.2" cy="720.0" r="2.42"/>
<circle cx="322.8" cy="719.5" r="2.42"/>
<circle cx="328.3" cy="718.9" r="2.42"/>
<circle cx="134.0" cy="726.4" r="2.42"/>
<circle cx="141.2" cy="727.2" r="2.42"/>
<circle cx="148.4" cy="727.9" r="2.42"/>
<circle cx="162.8" cy="729.3" r="2.42"/>
<circle cx="170.0" cy="729.9" r="2.42"/>
<circle cx="177.2" cy="730.5" r="2.42"/>
<circle cx="191.6" cy="731.5" r="2.42"/>
<circle cx="198.8" cy="732.0" r="2.42"/>
<circle cx="213.2" cy="732.7" r="2.42"/>
<circle cx="227.6" cy="733.1" r="2.42"/>
<circle cx="242.0" cy="732.9" r="2.42"/>
<circle cx="249.2" cy="732.7" r="2.42"/>
<circle cx="256.4" cy="732.3" r="2.42"/>
<circle cx="263.6" cy="732.0" r="2.42"/>
<circle cx="285.2" cy="730.5" r="2.42"/>
<circle cx="292.4" cy="729.9" r="2.42"/>
<circle cx="314.0" cy="727.9" r="2.42"/>
<circle cx="321.2" cy="727.2" r="2.42"/>
<circle cx="134.0" cy="733.1" r="2.42"/>
<circle cx="139.6" cy="733.7" r="2.42"/>
<circle cx="145.1" cy="734.2" r="2.42"/>
<circle cx="150.7" cy="734.7" r="2.42"/>
<circle cx="156.2" cy="735.2" r="2.42"/>
<circle cx="167.4" cy="736.1" r="2.42"/>
<circle cx="172.9" cy="736.6" r="2.42"/>
<circle cx="184.0" cy="737.4" r="2.42"/>
<circle cx="189.6" cy="737.7" r="2.42"/>
<circle cx="195.1" cy="738.0" r="2.42"/>
<circle cx="200.7" cy="738.3" r="2.42"/>
<circle cx="206.2" cy="738.6" r="2.42"/>
<circle cx="222.9" cy="739.2" r="2.42"/>
<circle cx="228.4" cy="739.3" r="2.42"/>
<circle cx="234.0" cy="739.3" r="2.42"/>
<circle cx="239.5" cy="739.2" r="2.42"/>
<circle cx="245.1" cy="739.0" r="2.42"/>
<circle cx="250.6" cy="738.8" r="2.42"/>
<circle cx="256.2" cy="738.6" r="2.42"/>
<circle cx="272.8" cy="737.7" r="2.42"/>
<circle cx="278.4" cy="737.4" r="2.42"/>
<circle cx="289.5" cy="736.6" r="2.42"/>
<circle cx="300.6" cy="735.7" r="2.42"/>
<circle cx="311.7" cy="734.7" r="2.42"/>
<circle cx="322.8" cy="733.7" r="2.42"/>
<circle cx="140.3" cy="741.7" r="2.42"/>
<circle cx="146.6" cy="742.3" r="2.42"/>
<circle cx="152.8" cy="742.8" r="2.42"/>
<circle cx="159.1" cy="743.3" r="2.42"/>
<circle cx="165.4" cy="743.8" r="2.42"/>
<circle cx="171.6" cy="744.2" r="2.42"/>
<circle cx="177.9" cy="744.7" r="2.42"/>
<circle cx="184.2" cy="745.0" r="2.42"/>
<circle cx="203.0" cy="746.0" r="2.42"/>
<circle cx="209.3" cy="746.3" r="2.42"/>
<circle cx="215.5" cy="746.5" r="2.42"/>
<circle cx="221.8" cy="746.7" r="2.42"/>
<circle cx="234.3" cy="746.8" r="2.42"/>
<circle cx="240.6" cy="746.7" r="2.42"/>
<circle cx="246.9" cy="746.5" r="2.42"/>
<circle cx="259.4" cy="746.0" r="2.42"/>
<circle cx="265.7" cy="745.7" r="2.42"/>
<circle cx="271.9" cy="745.4" r="2.42"/>
<circle cx="284.5" cy="744.7" r="2.42"/>
<circle cx="290.7" cy="744.2" r="2.42"/>
<circle cx="309.5" cy="742.8" r="2.42"/>
<circle cx="322.1" cy="741.7" r="2.42"/>
<circle cx="328.3" cy="741.2" r="2.42"/>
<circle cx="141.8" cy="748.6" r="2.42"/>
<circle cx="149.6" cy="749.3" r="2.42"/>
<circle cx="157.4" cy="750.1" r="2.42"/>
<circle cx="172.9" cy="751.4" r="2.42"/>
<circle cx="180.7" cy="752.0" r="2.42"/>
<circle cx="196.2" cy="753.0" r="2.42"/>
<circle cx="211.8" cy="753.8" r="2.42"/>
<circle cx="242.9" cy="754.1" r="2.42"/>
<circle cx="250.6" cy="753.8" r="2.42"/>
<circle cx="258.4" cy="753.4" r="2.42"/>
<circle cx="273.9" cy="752.5" r="2.42"/>
<circle cx="281.7" cy="752.0" r="2.42"/>
<circle cx="305.0" cy="750.1" r="2.42"/>
<circle cx="312.8" cy="749.3" r="2.42"/>
<circle cx="134.0" cy="755.6" r="2.42"/>
<circle cx="163.9" cy="758.2" r="2.42"/>
<circle cx="171.4" cy="758.7" r="2.42"/>
<circle cx="178.9" cy="759.3" r="2.42"/>
<circle cx="186.4" cy="759.7" r="2.42"/>
<circle cx="208.8" cy="760.9" r="2.42"/>
<circle cx="231.2" cy="761.4" r="2.42"/>
<circle cx="246.1" cy="761.1" r="2.42"/>
<circle cx="253.6" cy="760.9" r="2.42"/>
<circle cx="268.6" cy="760.2" r="2.42"/>
<circle cx="276.0" cy="759.7" r="2.42"/>
<circle cx="291.0" cy="758.7" r="2.42"/>
<circle cx="305.9" cy="757.6" r="2.42"/>
<circle cx="313.4" cy="757.0" r="2.42"/>
<circle cx="320.9" cy="756.3" r="2.42"/>
<circle cx="134.0" cy="762.2" r="2.42"/>
<circle cx="160.5" cy="763.5" r="2.42"/>
<circle cx="187.1" cy="764.0" r="2.42"/>
<circle cx="204.7" cy="766.7" r="2.42"/>
<circle cx="222.3" cy="768.0" r="2.42"/>
<circle cx="248.9" cy="767.6" r="2.42"/>
<circle cx="257.7" cy="766.7" r="2.42"/>
<circle cx="266.5" cy="766.3" r="2.42"/>
<circle cx="284.1" cy="764.0" r="2.42"/>
<circle cx="292.9" cy="763.9" r="2.42"/>
<circle cx="301.9" cy="763.5" r="2.42"/>
<circle cx="319.5" cy="763.1" r="2.42"/>
<circle cx="328.3" cy="762.2" r="2.42"/>
<circle cx="168.9" cy="769.8" r="2.42"/>
<circle cx="178.4" cy="770.6" r="2.42"/>
<circle cx="226.4" cy="776.2" r="2.42"/>
<circle cx="274.4" cy="771.3" r="2.42"/>
<circle cx="283.9" cy="770.6" r="2.42"/>
<circle cx="293.3" cy="769.3" r="2.42"/>
<circle cx="188.0" cy="778.7" r="2.42"/>
<circle cx="250.6" cy="787.3" r="2.42"/>
<circle cx="274.4" cy="778.3" r="2.42"/>
<circle cx="283.9" cy="777.2" r="2.42"/>
<circle cx="231.3" cy="801.5" r="2.42"/>
<circle cx="504.3" cy="719.5" r="2.42"/>
<circle cx="432.1" cy="728.7" r="2.42"/>
<circle cx="441.7" cy="730.8" r="2.42"/>
<circle cx="470.5" cy="732.4" r="2.42"/>
<circle cx="480.1" cy="732.4" r="2.42"/>
<circle cx="489.8" cy="731.7" r="2.42"/>
<circle cx="508.9" cy="730.2" r="2.42"/>
<circle cx="537.8" cy="727.0" r="2.42"/>
<circle cx="384.0" cy="733.0" r="2.42"/>
<circle cx="403.3" cy="734.7" r="2.42"/>
<circle cx="412.8" cy="735.3" r="2.42"/>
<circle cx="422.4" cy="736.4" r="2.42"/>
<circle cx="451.2" cy="738.4" r="2.42"/>
<circle cx="461.0" cy="739.0" r="2.42"/>
<circle cx="470.5" cy="739.8" r="2.42"/>
<circle cx="528.2" cy="735.4" r="2.42"/>
<circle cx="537.8" cy="734.7" r="2.42"/>
<circle cx="557.1" cy="733.0" r="2.42"/>
<circle cx="408.0" cy="742.4" r="2.42"/>
<circle cx="436.8" cy="744.8" r="2.42"/>
<circle cx="446.6" cy="747.2" r="2.42"/>
<circle cx="475.4" cy="748.2" r="2.42"/>
<circle cx="485.0" cy="747.2" r="2.42"/>
<circle cx="494.5" cy="745.4" r="2.42"/>
<circle cx="513.8" cy="743.3" r="2.42"/>
<circle cx="523.4" cy="742.9" r="2.42"/>
<circle cx="380.4" cy="749.0" r="2.42"/>
<circle cx="387.3" cy="749.6" r="2.42"/>
<circle cx="394.3" cy="750.2" r="2.42"/>
<circle cx="415.1" cy="751.8" r="2.42"/>
<circle cx="422.0" cy="752.3" r="2.42"/>
<circle cx="442.8" cy="753.4" r="2.42"/>
<circle cx="449.7" cy="753.7" r="2.42"/>
<circle cx="463.6" cy="754.1" r="2.42"/>
<circle cx="477.5" cy="754.1" r="2.42"/>
<circle cx="484.4" cy="753.9" r="2.42"/>
<circle cx="505.2" cy="753.1" r="2.42"/>
<circle cx="512.1" cy="752.7" r="2.42"/>
<circle cx="519.1" cy="752.3" r="2.42"/>
<circle cx="560.7" cy="749.0" r="2.42"/>
<circle cx="382.3" cy="756.5" r="2.42"/>
<circle cx="391.1" cy="757.5" r="2.42"/>
<circle cx="408.8" cy="759.3" r="2.42"/>
<circle cx="417.6" cy="760.0" r="2.42"/>
<circle cx="426.4" cy="760.7" r="2.42"/>
<circle cx="435.2" cy="761.3" r="2.42"/>
<circle cx="452.9" cy="762.3" r="2.42"/>
<circle cx="461.7" cy="762.6" r="2.42"/>
<circle cx="488.2" cy="762.3" r="2.42"/>
<circle cx="497.0" cy="761.9" r="2.42"/>
<circle cx="505.8" cy="761.3" r="2.42"/>
<circle cx="514.7" cy="760.7" r="2.42"/>
<circle cx="523.5" cy="760.0" r="2.42"/>
<circle cx="532.3" cy="759.3" r="2.42"/>
<circle cx="541.1" cy="758.4" r="2.42"/>
<circle cx="550.0" cy="757.5" r="2.42"/>
<circle cx="567.6" cy="755.5" r="2.42"/>
<circle cx="373.5" cy="763.0" r="2.42"/>
<circle cx="380.9" cy="763.8" r="2.42"/>
<circle cx="388.4" cy="764.5" r="2.42"/>
<circle cx="403.3" cy="765.9" r="2.42"/>
<circle cx="410.8" cy="766.5" r="2.42"/>
<circle cx="418.3" cy="767.1" r="2.42"/>
<circle cx="425.7" cy="767.6" r="2.42"/>
<circle cx="433.2" cy="768.1" r="2.42"/>
<circle cx="440.7" cy="768.5" r="2.42"/>
<circle cx="448.1" cy="768.9" r="2.42"/>
<circle cx="455.6" cy="769.2" r="2.42"/>
<circle cx="470.5" cy="769.5" r="2.42"/>
<circle cx="478.0" cy="769.4" r="2.42"/>
<circle cx="485.5" cy="769.2" r="2.42"/>
<circle cx="507.9" cy="768.1" r="2.42"/>
<circle cx="515.3" cy="767.6" r="2.42"/>
<circle cx="530.3" cy="766.5" r="2.42"/>
<circle cx="552.7" cy="764.5" r="2.42"/>
<circle cx="373.5" cy="770.1" r="2.42"/>
<circle cx="408.8" cy="773.7" r="2.42"/>
<circle cx="414.7" cy="774.2" r="2.42"/>
<circle cx="426.4" cy="775.1" r="2.42"/>
<circle cx="432.3" cy="775.5" r="2.42"/>
<circle cx="438.2" cy="775.8" r="2.42"/>
<circle cx="444.1" cy="776.2" r="2.42"/>
<circle cx="450.0" cy="776.5" r="2.42"/>
<circle cx="455.8" cy="776.7" r="2.42"/>
<circle cx="461.7" cy="776.9" r="2.42"/>
<circle cx="467.6" cy="777.0" r="2.42"/>
<circle cx="473.5" cy="777.0" r="2.42"/>
<circle cx="479.4" cy="776.9" r="2.42"/>
<circle cx="485.2" cy="776.7" r="2.42"/>
<circle cx="497.0" cy="776.2" r="2.42"/>
<circle cx="502.9" cy="775.8" r="2.42"/>
<circle cx="508.8" cy="775.5" r="2.42"/>
<circle cx="526.4" cy="774.2" r="2.42"/>
<circle cx="532.3" cy="773.7" r="2.42"/>
<circle cx="538.2" cy="773.1" r="2.42"/>
<circle cx="555.8" cy="771.4" r="2.42"/>
<circle cx="561.7" cy="770.8" r="2.42"/>
<circle cx="567.6" cy="770.1" r="2.42"/>
<circle cx="373.5" cy="778.0" r="2.42"/>
<circle cx="381.6" cy="778.8" r="2.42"/>
<circle cx="389.7" cy="779.6" r="2.42"/>
<circle cx="397.7" cy="780.4" r="2.42"/>
<circle cx="413.9" cy="781.8" r="2.42"/>
<circle cx="438.2" cy="783.4" r="2.42"/>
<circle cx="454.4" cy="784.2" r="2.42"/>
<circle cx="462.5" cy="784.4" r="2.42"/>
<circle cx="478.6" cy="784.4" r="2.42"/>
<circle cx="494.8" cy="783.8" r="2.42"/>
<circle cx="502.9" cy="783.4" r="2.42"/>
<circle cx="519.1" cy="782.4" r="2.42"/>
<circle cx="527.2" cy="781.8" r="2.42"/>
<circle cx="535.2" cy="781.1" r="2.42"/>
<circle cx="543.3" cy="780.4" r="2.42"/>
<circle cx="551.4" cy="779.6" r="2.42"/>
<circle cx="559.5" cy="778.8" r="2.42"/>
<circle cx="567.6" cy="778.0" r="2.42"/>
<circle cx="373.5" cy="785.3" r="2.42"/>
<circle cx="379.4" cy="785.9" r="2.42"/>
<circle cx="391.1" cy="787.1" r="2.42"/>
<circle cx="397.0" cy="787.6" r="2.42"/>
<circle cx="408.8" cy="788.7" r="2.42"/>
<circle cx="414.7" cy="789.1" r="2.42"/>
<circle cx="420.5" cy="789.6" r="2.42"/>
<circle cx="426.4" cy="790.0" r="2.42"/>
<circle cx="432.3" cy="790.4" r="2.42"/>
<circle cx="444.1" cy="791.0" r="2.42"/>
<circle cx="455.8" cy="791.5" r="2.42"/>
<circle cx="491.1" cy="791.3" r="2.42"/>
<circle cx="508.8" cy="790.4" r="2.42"/>
<circle cx="514.7" cy="790.0" r="2.42"/>
<circle cx="520.5" cy="789.6" r="2.42"/>
<circle cx="538.2" cy="788.2" r="2.42"/>
<circle cx="544.1" cy="787.6" r="2.42"/>
<circle cx="555.8" cy="786.5" r="2.42"/>
<circle cx="422.4" cy="794.5" r="2.42"/>
<circle cx="432.1" cy="796.3" r="2.42"/>
<circle cx="441.7" cy="797.1" r="2.42"/>
<circle cx="461.0" cy="799.0" r="2.42"/>
<circle cx="480.1" cy="799.3" r="2.42"/>
<circle cx="499.4" cy="797.3" r="2.42"/>
<circle cx="508.9" cy="796.1" r="2.42"/>
<circle cx="537.8" cy="794.3" r="2.42"/>
<circle cx="547.4" cy="793.7" r="2.42"/>
<circle cx="373.5" cy="801.2" r="2.42"/>
<circle cx="391.8" cy="803.6" r="2.42"/>
<circle cx="401.2" cy="803.8" r="2.42"/>
<circle cx="419.6" cy="804.4" r="2.42"/>
<circle cx="428.8" cy="804.6" r="2.42"/>
<circle cx="438.1" cy="805.1" r="2.42"/>
<circle cx="456.5" cy="807.2" r="2.42"/>
<circle cx="502.8" cy="804.8" r="2.42"/>
<circle cx="511.9" cy="804.4" r="2.42"/>
<circle cx="530.5" cy="804.0" r="2.42"/>
<circle cx="549.2" cy="803.3" r="2.42"/>
<circle cx="558.2" cy="803.1" r="2.42"/>
<circle cx="567.6" cy="800.6" r="2.42"/>
<circle cx="422.4" cy="808.5" r="2.42"/>
<circle cx="432.1" cy="809.3" r="2.42"/>
<circle cx="451.2" cy="810.8" r="2.42"/>
<circle cx="470.5" cy="815.3" r="2.42"/>
<circle cx="489.8" cy="811.5" r="2.42"/>
<circle cx="508.9" cy="809.5" r="2.42"/>
<circle cx="518.5" cy="809.1" r="2.42"/>
<circle cx="441.7" cy="816.4" r="2.42"/>
<circle cx="451.2" cy="819.4" r="2.42"/>
<circle cx="461.0" cy="826.3" r="2.42"/>
<circle cx="485.0" cy="835.7" r="2.42"/>
<circle cx="893.2" cy="695.8" r="2.42"/>
<circle cx="903.0" cy="697.6" r="2.42"/>
<circle cx="922.1" cy="697.6" r="2.42"/>
<circle cx="859.7" cy="700.5" r="2.42"/>
<circle cx="869.3" cy="701.4" r="2.42"/>
<circle cx="898.1" cy="703.3" r="2.42"/>
<circle cx="936.5" cy="702.5" r="2.42"/>
<circle cx="840.4" cy="706.3" r="2.42"/>
<circle cx="850.0" cy="707.2" r="2.42"/>
<circle cx="869.3" cy="710.2" r="2.42"/>
<circle cx="878.8" cy="710.4" r="2.42"/>
<circle cx="898.1" cy="711.9" r="2.42"/>
<circle cx="917.4" cy="712.3" r="2.42"/>
<circle cx="927.0" cy="711.1" r="2.42"/>
<circle cx="936.5" cy="711.1" r="2.42"/>
<circle cx="955.8" cy="710.0" r="2.42"/>
<circle cx="965.4" cy="709.1" r="2.42"/>
<circle cx="974.9" cy="707.2" r="2.42"/>
<circle cx="842.8" cy="715.6" r="2.42"/>
<circle cx="852.2" cy="717.3" r="2.42"/>
<circle cx="861.6" cy="717.5" r="2.42"/>
<circle cx="889.3" cy="718.6" r="2.42"/>
<circle cx="898.5" cy="719.6" r="2.42"/>
<circle cx="907.7" cy="720.3" r="2.42"/>
<circle cx="936.0" cy="718.6" r="2.42"/>
<circle cx="945.1" cy="718.1" r="2.42"/>
<circle cx="954.3" cy="717.7" r="2.42"/>
<circle cx="982.2" cy="715.6" r="2.42"/>
<circle cx="991.6" cy="714.9" r="2.42"/>
<circle cx="1000.8" cy="713.9" r="2.42"/>
<circle cx="823.5" cy="722.0" r="2.42"/>
<circle cx="840.4" cy="723.9" r="2.42"/>
<circle cx="848.8" cy="724.2" r="2.42"/>
<circle cx="865.9" cy="725.4" r="2.42"/>
<circle cx="874.3" cy="726.1" r="2.42"/>
<circle cx="882.9" cy="726.3" r="2.42"/>
<circle cx="908.4" cy="727.1" r="2.42"/>
<circle cx="925.3" cy="726.5" r="2.42"/>
<circle cx="933.7" cy="726.3" r="2.42"/>
<circle cx="967.6" cy="724.2" r="2.42"/>
<circle cx="976.2" cy="724.2" r="2.42"/>
<circle cx="993.1" cy="723.1" r="2.42"/>
<circle cx="1010.0" cy="721.1" r="2.42"/>
<circle cx="824.3" cy="728.4" r="2.42"/>
<circle cx="842.8" cy="730.8" r="2.42"/>
<circle cx="852.2" cy="731.7" r="2.42"/>
<circle cx="880.1" cy="733.2" r="2.42"/>
<circle cx="898.5" cy="734.2" r="2.42"/>
<circle cx="907.7" cy="734.7" r="2.42"/>
<circle cx="917.4" cy="734.6" r="2.42"/>
<circle cx="926.6" cy="734.0" r="2.42"/>
<circle cx="945.1" cy="732.9" r="2.42"/>
<circle cx="954.3" cy="732.7" r="2.42"/>
<circle cx="963.5" cy="731.9" r="2.42"/>
<circle cx="982.2" cy="730.1" r="2.42"/>
<circle cx="991.6" cy="729.3" r="2.42"/>
<circle cx="1010.0" cy="727.6" r="2.42"/>
<circle cx="815.1" cy="735.3" r="2.42"/>
<circle cx="824.7" cy="735.7" r="2.42"/>
<circle cx="844.3" cy="737.7" r="2.42"/>
<circle cx="883.3" cy="740.2" r="2.42"/>
<circle cx="903.0" cy="741.9" r="2.42"/>
<circle cx="912.5" cy="742.4" r="2.42"/>
<circle cx="922.1" cy="741.9" r="2.42"/>
<circle cx="932.2" cy="741.7" r="2.42"/>
<circle cx="942.0" cy="740.5" r="2.42"/>
<circle cx="951.7" cy="739.6" r="2.42"/>
<circle cx="971.2" cy="738.1" r="2.42"/>
<circle cx="980.9" cy="737.9" r="2.42"/>
<circle cx="1010.0" cy="735.7" r="2.42"/>
<circle cx="815.1" cy="742.8" r="2.42"/>
<circle cx="822.2" cy="742.8" r="2.42"/>
<circle cx="829.3" cy="743.5" r="2.42"/>
<circle cx="836.7" cy="743.7" r="2.42"/>
<circle cx="851.1" cy="745.4" r="2.42"/>
<circle cx="858.2" cy="745.8" r="2.42"/>
<circle cx="865.5" cy="746.7" r="2.42"/>
<circle cx="872.6" cy="747.3" r="2.42"/>
<circle cx="887.2" cy="747.7" r="2.42"/>
<circle cx="894.4" cy="748.0" r="2.42"/>
<circle cx="901.7" cy="749.0" r="2.42"/>
<circle cx="908.8" cy="749.5" r="2.42"/>
<circle cx="915.9" cy="749.4" r="2.42"/>
<circle cx="923.2" cy="748.6" r="2.42"/>
<circle cx="930.5" cy="748.0" r="2.42"/>
<circle cx="937.6" cy="747.7" r="2.42"/>
<circle cx="945.0" cy="747.5" r="2.42"/>
<circle cx="952.3" cy="746.9" r="2.42"/>
<circle cx="966.7" cy="745.6" r="2.42"/>
<circle cx="981.1" cy="744.1" r="2.42"/>
<circle cx="1010.0" cy="742.8" r="2.42"/>
<circle cx="815.1" cy="750.7" r="2.42"/>
<circle cx="828.0" cy="752.9" r="2.42"/>
<circle cx="834.6" cy="753.3" r="2.42"/>
<circle cx="841.0" cy="753.7" r="2.42"/>
<circle cx="847.5" cy="754.0" r="2.42"/>
<circle cx="853.9" cy="754.4" r="2.42"/>
<circle cx="860.4" cy="755.0" r="2.42"/>
<circle cx="867.0" cy="755.5" r="2.42"/>
<circle cx="886.5" cy="756.5" r="2.42"/>
<circle cx="892.9" cy="757.0" r="2.42"/>
<circle cx="899.4" cy="757.4" r="2.42"/>
<circle cx="918.9" cy="757.6" r="2.42"/>
<circle cx="925.5" cy="757.6" r="2.42"/>
<circle cx="938.4" cy="756.9" r="2.42"/>
<circle cx="951.3" cy="755.9" r="2.42"/>
<circle cx="964.4" cy="755.0" r="2.42"/>
<circle cx="970.8" cy="755.0" r="2.42"/>
<circle cx="996.9" cy="752.9" r="2.42"/>
<circle cx="1003.4" cy="752.5" r="2.42"/>
<circle cx="1010.0" cy="752.0" r="2.42"/>
<circle cx="830.8" cy="758.3" r="2.42"/>
<circle cx="840.4" cy="758.9" r="2.42"/>
<circle cx="850.0" cy="759.1" r="2.42"/>
<circle cx="878.8" cy="760.4" r="2.42"/>
<circle cx="898.1" cy="763.6" r="2.42"/>
<circle cx="907.7" cy="765.1" r="2.42"/>
<circle cx="917.4" cy="765.1" r="2.42"/>
<circle cx="946.3" cy="759.8" r="2.42"/>
<circle cx="965.4" cy="759.3" r="2.42"/>
<circle cx="974.9" cy="759.1" r="2.42"/>
<circle cx="994.2" cy="758.3" r="2.42"/>
<circle cx="850.0" cy="767.3" r="2.42"/>
<circle cx="859.7" cy="767.9" r="2.42"/>
<circle cx="888.6" cy="769.2" r="2.42"/>
<circle cx="898.1" cy="769.8" r="2.42"/>
<circle cx="936.5" cy="769.2" r="2.42"/>
<circle cx="946.3" cy="768.7" r="2.42"/>
<circle cx="955.8" cy="768.5" r="2.42"/>
<circle cx="840.4" cy="772.4" r="2.42"/>
<circle cx="850.0" cy="773.2" r="2.42"/>
<circle cx="869.3" cy="773.5" r="2.42"/>
<circle cx="888.6" cy="776.5" r="2.42"/>
<circle cx="927.0" cy="778.6" r="2.42"/>
<circle cx="936.5" cy="776.3" r="2.42"/>
<circle cx="946.3" cy="773.5" r="2.42"/>
<circle cx="955.8" cy="773.5" r="2.42"/>
<circle cx="965.4" cy="773.3" r="2.42"/>
<circle cx="974.9" cy="773.2" r="2.42"/>
<circle cx="874.1" cy="784.0" r="2.42"/>
<circle cx="893.2" cy="784.6" r="2.42"/>
<circle cx="922.1" cy="787.8" r="2.42"/>
<circle cx="950.9" cy="784.0" r="2.42"/>
<circle cx="970.2" cy="783.3" r="2.42"/>
<circle cx="989.4" cy="782.7" r="2.42"/>
<circle cx="999.1" cy="781.2" r="2.42"/>
<circle cx="878.8" cy="792.3" r="2.42"/>
<circle cx="917.4" cy="795.3" r="2.42"/>
<circle cx="927.0" cy="793.4" r="2.42"/>
<circle cx="936.5" cy="792.3" r="2.42"/>
<circle cx="965.4" cy="789.5" r="2.42"/>
<circle cx="874.1" cy="796.2" r="2.42"/>
<circle cx="903.0" cy="800.7" r="2.42"/>
<circle cx="912.5" cy="802.4" r="2.42"/>
<circle cx="922.1" cy="802.0" r="2.42"/>
<circle cx="931.8" cy="799.9" r="2.42"/>
<circle cx="864.4" cy="803.7" r="2.42"/>
<circle cx="893.2" cy="805.8" r="2.42"/>
<circle cx="931.8" cy="805.9" r="2.42"/>
<circle cx="950.9" cy="804.4" r="2.42"/>
<circle cx="970.2" cy="803.1" r="2.42"/>
<circle cx="898.1" cy="813.7" r="2.42"/>
<circle cx="927.0" cy="813.5" r="2.42"/>
<circle cx="893.2" cy="819.3" r="2.42"/>
<circle cx="912.5" cy="824.6" r="2.42"/>
<circle cx="903.0" cy="829.8" r="2.42"/>
<circle cx="917.4" cy="839.8" r="2.42"/>
<circle cx="1143.0" cy="719.6" r="2.42"/>
<circle cx="1109.3" cy="722.6" r="2.42"/>
<circle cx="1176.5" cy="725.3" r="2.42"/>
<circle cx="1186.3" cy="725.3" r="2.42"/>
<circle cx="1195.8" cy="720.9" r="2.42"/>
<circle cx="1118.8" cy="731.8" r="2.42"/>
<circle cx="1147.7" cy="735.9" r="2.42"/>
<circle cx="1176.5" cy="732.2" r="2.42"/>
<circle cx="1205.4" cy="728.8" r="2.42"/>
<circle cx="1094.8" cy="736.7" r="2.42"/>
<circle cx="1104.4" cy="738.6" r="2.42"/>
<circle cx="1114.1" cy="740.6" r="2.42"/>
<circle cx="1123.7" cy="741.2" r="2.42"/>
<circle cx="1133.2" cy="741.7" r="2.42"/>
<circle cx="1143.0" cy="742.5" r="2.42"/>
<circle cx="1162.1" cy="742.7" r="2.42"/>
<circle cx="1171.8" cy="741.9" r="2.42"/>
<circle cx="1210.2" cy="736.9" r="2.42"/>
<circle cx="1080.4" cy="746.2" r="2.42"/>
<circle cx="1099.7" cy="747.6" r="2.42"/>
<circle cx="1128.6" cy="748.9" r="2.42"/>
<circle cx="1147.7" cy="750.2" r="2.42"/>
<circle cx="1167.0" cy="749.6" r="2.42"/>
<circle cx="1186.3" cy="748.3" r="2.42"/>
<circle cx="1090.0" cy="752.8" r="2.42"/>
<circle cx="1109.3" cy="753.2" r="2.42"/>
<circle cx="1118.8" cy="753.5" r="2.42"/>
<circle cx="1138.1" cy="756.4" r="2.42"/>
<circle cx="1147.7" cy="758.2" r="2.42"/>
<circle cx="1157.4" cy="757.5" r="2.42"/>
<circle cx="1167.0" cy="754.7" r="2.42"/>
<circle cx="1176.5" cy="753.7" r="2.42"/>
<circle cx="1186.3" cy="753.4" r="2.42"/>
<circle cx="1195.8" cy="753.0" r="2.42"/>
<circle cx="1224.7" cy="751.3" r="2.42"/>
<circle cx="1066.0" cy="759.2" r="2.42"/>
<circle cx="1075.7" cy="759.5" r="2.42"/>
<circle cx="1094.8" cy="761.4" r="2.42"/>
<circle cx="1104.4" cy="762.2" r="2.42"/>
<circle cx="1114.1" cy="763.3" r="2.42"/>
<circle cx="1123.7" cy="763.7" r="2.42"/>
<circle cx="1133.2" cy="764.6" r="2.42"/>
<circle cx="1152.5" cy="765.5" r="2.42"/>
<circle cx="1162.1" cy="765.4" r="2.42"/>
<circle cx="1181.4" cy="764.0" r="2.42"/>
<circle cx="1229.4" cy="759.7" r="2.42"/>
<circle cx="1123.7" cy="769.7" r="2.42"/>
<circle cx="1133.2" cy="771.5" r="2.42"/>
<circle cx="1171.8" cy="771.7" r="2.42"/>
<circle cx="1181.4" cy="770.2" r="2.42"/>
<circle cx="1190.9" cy="768.9" r="2.42"/>
<circle cx="1090.0" cy="775.3" r="2.42"/>
<circle cx="1099.7" cy="776.0" r="2.42"/>
<circle cx="1118.8" cy="777.5" r="2.42"/>
<circle cx="1128.6" cy="778.8" r="2.42"/>
<circle cx="1138.1" cy="779.2" r="2.42"/>
<circle cx="1147.7" cy="780.0" r="2.42"/>
<circle cx="1157.4" cy="780.0" r="2.42"/>
<circle cx="1167.0" cy="779.0" r="2.42"/>
<circle cx="1195.8" cy="775.8" r="2.42"/>
<circle cx="1205.4" cy="775.7" r="2.42"/>
<circle cx="1214.9" cy="774.9" r="2.42"/>
<circle cx="1224.7" cy="773.8" r="2.42"/>
<circle cx="1055.1" cy="780.9" r="2.42"/>
<circle cx="1097.5" cy="783.7" r="2.42"/>
<circle cx="1105.9" cy="784.3" r="2.42"/>
<circle cx="1114.3" cy="784.5" r="2.42"/>
<circle cx="1122.9" cy="784.8" r="2.42"/>
<circle cx="1156.8" cy="786.9" r="2.42"/>
<circle cx="1165.3" cy="786.1" r="2.42"/>
<circle cx="1173.7" cy="785.4" r="2.42"/>
<circle cx="1182.1" cy="784.7" r="2.42"/>
<circle cx="1190.8" cy="784.3" r="2.42"/>
<circle cx="1199.2" cy="783.9" r="2.42"/>
<circle cx="1207.6" cy="783.5" r="2.42"/>
<circle cx="1216.2" cy="783.0" r="2.42"/>
<circle cx="1233.1" cy="781.7" r="2.42"/>
<circle cx="1241.7" cy="781.5" r="2.42"/>
<circle cx="1070.8" cy="788.4" r="2.42"/>
<circle cx="1080.4" cy="790.5" r="2.42"/>
<circle cx="1090.0" cy="790.8" r="2.42"/>
<circle cx="1099.7" cy="791.8" r="2.42"/>
<circle cx="1109.3" cy="792.0" r="2.42"/>
<circle cx="1118.8" cy="792.7" r="2.42"/>
<circle cx="1128.6" cy="793.5" r="2.42"/>
<circle cx="1138.1" cy="794.2" r="2.42"/>
<circle cx="1147.7" cy="794.8" r="2.42"/>
<circle cx="1157.4" cy="794.4" r="2.42"/>
<circle cx="1176.5" cy="793.5" r="2.42"/>
<circle cx="1186.3" cy="792.9" r="2.42"/>
<circle cx="1195.8" cy="792.0" r="2.42"/>
<circle cx="1205.4" cy="791.4" r="2.42"/>
<circle cx="1214.9" cy="790.5" r="2.42"/>
<circle cx="1224.7" cy="788.8" r="2.42"/>
<circle cx="1234.2" cy="788.4" r="2.42"/>
<circle cx="1104.4" cy="795.3" r="2.42"/>
<circle cx="1114.1" cy="796.1" r="2.42"/>
<circle cx="1123.7" cy="797.4" r="2.42"/>
<circle cx="1133.2" cy="798.7" r="2.42"/>
<circle cx="1143.0" cy="800.6" r="2.42"/>
<circle cx="1162.1" cy="801.0" r="2.42"/>
<circle cx="1181.4" cy="797.8" r="2.42"/>
<circle cx="1200.5" cy="795.7" r="2.42"/>
<circle cx="1085.3" cy="803.6" r="2.42"/>
<circle cx="1094.8" cy="804.3" r="2.42"/>
<circle cx="1133.2" cy="808.8" r="2.42"/>
<circle cx="1143.0" cy="809.4" r="2.42"/>
<circle cx="1152.5" cy="809.9" r="2.42"/>
<circle cx="1162.1" cy="809.8" r="2.42"/>
<circle cx="1171.8" cy="809.0" r="2.42"/>
<circle cx="1181.4" cy="808.1" r="2.42"/>
<circle cx="1190.9" cy="806.8" r="2.42"/>
<circle cx="1219.8" cy="804.1" r="2.42"/>
<circle cx="1063.9" cy="810.5" r="2.42"/>
<circle cx="1072.9" cy="811.3" r="2.42"/>
<circle cx="1081.7" cy="811.8" r="2.42"/>
<circle cx="1090.5" cy="812.4" r="2.42"/>
<circle cx="1099.3" cy="813.5" r="2.42"/>
<circle cx="1108.3" cy="813.7" r="2.42"/>
<circle cx="1134.9" cy="815.6" r="2.42"/>
<circle cx="1143.7" cy="815.8" r="2.42"/>
<circle cx="1161.3" cy="815.9" r="2.42"/>
<circle cx="1170.3" cy="815.6" r="2.42"/>
<circle cx="1188.0" cy="815.2" r="2.42"/>
<circle cx="1205.8" cy="813.5" r="2.42"/>
<circle cx="1223.6" cy="812.2" r="2.42"/>
<circle cx="1232.4" cy="811.4" r="2.42"/>
<circle cx="1250.0" cy="810.1" r="2.42"/>
<circle cx="1085.3" cy="817.3" r="2.42"/>
<circle cx="1143.0" cy="823.2" r="2.42"/>
<circle cx="1162.1" cy="823.2" r="2.42"/>
<circle cx="1171.8" cy="823.2" r="2.42"/>
<circle cx="1210.2" cy="819.3" r="2.42"/>
<circle cx="1219.8" cy="818.0" r="2.42"/>
<circle cx="1229.4" cy="816.7" r="2.42"/>
<circle cx="1090.0" cy="826.4" r="2.42"/>
<circle cx="1099.7" cy="826.9" r="2.42"/>
<circle cx="1109.3" cy="828.8" r="2.42"/>
<circle cx="1138.1" cy="831.0" r="2.42"/>
<circle cx="1157.4" cy="831.8" r="2.42"/>
<circle cx="1167.0" cy="831.0" r="2.42"/>
<circle cx="1186.3" cy="829.5" r="2.42"/>
<circle cx="1205.4" cy="826.7" r="2.42"/>
<circle cx="1214.9" cy="826.2" r="2.42"/>
<circle cx="1143.0" cy="838.7" r="2.42"/>
<circle cx="1152.5" cy="839.3" r="2.42"/>
<circle cx="1171.8" cy="837.6" r="2.42"/>
<circle cx="1181.4" cy="836.3" r="2.42"/>
<circle cx="1200.5" cy="835.3" r="2.42"/>
<circle cx="1114.1" cy="842.3" r="2.42"/>
<circle cx="1123.7" cy="843.6" r="2.42"/>
<circle cx="1133.2" cy="843.8" r="2.42"/>
<circle cx="1152.5" cy="847.7" r="2.42"/>
<circle cx="1210.2" cy="839.7" r="2.42"/>
<circle cx="1118.8" cy="850.3" r="2.42"/>
<circle cx="1128.6" cy="852.6" r="2.42"/>
<circle cx="1157.4" cy="855.2" r="2.42"/>
<circle cx="1167.0" cy="853.9" r="2.42"/>
<circle cx="1176.5" cy="851.5" r="2.42"/>
<circle cx="1186.3" cy="849.0" r="2.42"/>
<circle cx="1123.7" cy="856.9" r="2.42"/>
<circle cx="1133.2" cy="858.4" r="2.42"/>
<circle cx="1152.5" cy="862.3" r="2.42"/>
<circle cx="1162.1" cy="861.0" r="2.42"/>
<circle cx="1128.6" cy="867.2" r="2.42"/>
<circle cx="1167.0" cy="868.1" r="2.42"/>
<circle cx="1167.0" cy="873.4" r="2.42"/>
</g>
<g class="b">
<circle cx="890.9" cy="72.0" r="2.42"/>
<circle cx="900.7" cy="74.6" r="2.42"/>
<circle cx="910.4" cy="72.9" r="2.42"/>
<circle cx="920.2" cy="71.2" r="2.42"/>
<circle cx="876.3" cy="79.5" r="2.42"/>
<circle cx="886.1" cy="81.7" r="2.42"/>
<circle cx="895.8" cy="84.2" r="2.42"/>
<circle cx="905.5" cy="86.4" r="2.42"/>
<circle cx="915.3" cy="85.1" r="2.42"/>
<circle cx="925.0" cy="83.8" r="2.42"/>
<circle cx="934.8" cy="81.0" r="2.42"/>
<circle cx="895.8" cy="92.0" r="2.42"/>
<circle cx="915.3" cy="94.7" r="2.42"/>
<circle cx="905.5" cy="98.8" r="2.42"/>
<circle cx="905.5" cy="103.5" r="2.42"/>
<circle cx="910.4" cy="111.7" r="2.42"/>
<circle cx="900.7" cy="115.3" r="2.42"/>
<circle cx="886.1" cy="120.7" r="2.42"/>
<circle cx="895.8" cy="122.0" r="2.42"/>
<circle cx="905.5" cy="127.5" r="2.42"/>
<circle cx="915.3" cy="124.5" r="2.42"/>
<circle cx="925.0" cy="120.9" r="2.42"/>
<circle cx="871.4" cy="130.1" r="2.42"/>
<circle cx="881.2" cy="130.8" r="2.42"/>
<circle cx="890.9" cy="132.3" r="2.42"/>
<circle cx="900.7" cy="134.8" r="2.42"/>
<circle cx="910.4" cy="133.6" r="2.42"/>
<circle cx="920.2" cy="130.8" r="2.42"/>
<circle cx="929.9" cy="130.1" r="2.42"/>
<circle cx="939.6" cy="129.3" r="2.42"/>
<circle cx="832.5" cy="136.4" r="2.42"/>
<circle cx="852.0" cy="137.8" r="2.42"/>
<circle cx="861.7" cy="138.9" r="2.42"/>
<circle cx="871.4" cy="140.0" r="2.42"/>
<circle cx="881.2" cy="140.9" r="2.42"/>
<circle cx="890.9" cy="141.5" r="2.42"/>
<circle cx="900.7" cy="141.9" r="2.42"/>
<circle cx="910.4" cy="141.7" r="2.42"/>
<circle cx="920.2" cy="141.1" r="2.42"/>
<circle cx="929.9" cy="140.6" r="2.42"/>
<circle cx="939.6" cy="139.4" r="2.42"/>
<circle cx="949.4" cy="138.3" r="2.42"/>
<circle cx="959.1" cy="137.6" r="2.42"/>
<circle cx="968.9" cy="137.0" r="2.42"/>
<circle cx="978.6" cy="136.1" r="2.42"/>
<circle cx="881.2" cy="146.4" r="2.42"/>
<circle cx="890.9" cy="149.2" r="2.42"/>
<circle cx="900.7" cy="149.6" r="2.42"/>
<circle cx="910.4" cy="149.6" r="2.42"/>
<circle cx="920.2" cy="148.6" r="2.42"/>
<circle cx="939.6" cy="144.3" r="2.42"/>
<circle cx="852.0" cy="151.6" r="2.42"/>
<circle cx="861.7" cy="153.3" r="2.42"/>
<circle cx="871.4" cy="155.4" r="2.42"/>
<circle cx="881.2" cy="155.7" r="2.42"/>
<circle cx="890.9" cy="156.3" r="2.42"/>
<circle cx="929.9" cy="155.4" r="2.42"/>
<circle cx="939.6" cy="155.4" r="2.42"/>
<circle cx="949.4" cy="152.0" r="2.42"/>
<circle cx="827.6" cy="157.6" r="2.42"/>
<circle cx="837.3" cy="158.4" r="2.42"/>
<circle cx="847.1" cy="159.5" r="2.42"/>
<circle cx="886.1" cy="162.3" r="2.42"/>
<circle cx="925.0" cy="162.7" r="2.42"/>
<circle cx="814.1" cy="166.2" r="2.42"/>
<circle cx="843.5" cy="168.7" r="2.42"/>
<circle cx="865.5" cy="170.2" r="2.42"/>
<circle cx="887.5" cy="171.3" r="2.42"/>
<circle cx="894.8" cy="171.5" r="2.42"/>
<circle cx="902.2" cy="171.6" r="2.42"/>
<circle cx="916.8" cy="171.5" r="2.42"/>
<circle cx="931.5" cy="171.0" r="2.42"/>
<circle cx="938.8" cy="170.6" r="2.42"/>
<circle cx="1004.8" cy="165.5" r="2.42"/>
<circle cx="823.3" cy="174.5" r="2.42"/>
<circle cx="850.8" cy="176.6" r="2.42"/>
<circle cx="883.8" cy="178.4" r="2.42"/>
<circle cx="922.3" cy="178.6" r="2.42"/>
<circle cx="944.3" cy="177.7" r="2.42"/>
<circle cx="960.8" cy="176.6" r="2.42"/>
<circle cx="966.3" cy="176.3" r="2.42"/>
<circle cx="977.3" cy="175.4" r="2.42"/>
<circle cx="988.3" cy="174.5" r="2.42"/>
<circle cx="993.8" cy="174.0" r="2.42"/>
<circle cx="806.8" cy="180.5" r="2.42"/>
<circle cx="870.9" cy="186.1" r="2.42"/>
<circle cx="900.0" cy="187.3" r="2.42"/>
<circle cx="911.6" cy="187.3" r="2.42"/>
<circle cx="917.5" cy="187.2" r="2.42"/>
<circle cx="952.4" cy="185.3" r="2.42"/>
<circle cx="964.1" cy="184.4" r="2.42"/>
<circle cx="993.2" cy="181.7" r="2.42"/>
<circle cx="999.0" cy="181.1" r="2.42"/>
<circle cx="896.8" cy="193.8" r="2.42"/>
<circle cx="926.8" cy="193.5" r="2.42"/>
<circle cx="944.8" cy="192.6" r="2.42"/>
<circle cx="962.8" cy="191.5" r="2.42"/>
<circle cx="813.4" cy="196.0" r="2.42"/>
<circle cx="839.8" cy="198.7" r="2.42"/>
<circle cx="905.8" cy="202.4" r="2.42"/>
<circle cx="925.6" cy="201.9" r="2.42"/>
<circle cx="945.4" cy="200.8" r="2.42"/>
<circle cx="952.0" cy="200.3" r="2.42"/>
<circle cx="965.2" cy="199.3" r="2.42"/>
<circle cx="828.0" cy="205.0" r="2.42"/>
<circle cx="912.9" cy="209.2" r="2.42"/>
<circle cx="896.5" cy="216.6" r="2.42"/>
<circle cx="1004.8" cy="211.4" r="2.42"/>
<circle cx="832.5" cy="218.9" r="2.42"/>
<circle cx="1144.2" cy="91.6" r="2.42"/>
<circle cx="1153.9" cy="89.7" r="2.42"/>
<circle cx="1163.7" cy="97.1" r="2.42"/>
<circle cx="1134.4" cy="100.2" r="2.42"/>
<circle cx="1129.6" cy="103.6" r="2.42"/>
<circle cx="1139.3" cy="105.3" r="2.42"/>
<circle cx="1144.2" cy="101.5" r="2.42"/>
<circle cx="1153.9" cy="101.0" r="2.42"/>
<circle cx="1158.8" cy="105.5" r="2.42"/>
<circle cx="1168.5" cy="104.7" r="2.42"/>
<circle cx="1149.0" cy="109.6" r="2.42"/>
<circle cx="1134.4" cy="116.9" r="2.42"/>
<circle cx="1144.2" cy="120.1" r="2.42"/>
<circle cx="1153.9" cy="118.8" r="2.42"/>
<circle cx="1163.7" cy="114.7" r="2.42"/>
<circle cx="1144.2" cy="129.7" r="2.42"/>
<circle cx="1153.9" cy="126.3" r="2.42"/>
<circle cx="1134.4" cy="145.6" r="2.42"/>
<circle cx="1144.2" cy="148.6" r="2.42"/>
<circle cx="1153.9" cy="146.3" r="2.42"/>
<circle cx="1163.7" cy="143.5" r="2.42"/>
<circle cx="1149.0" cy="154.4" r="2.42"/>
<circle cx="1114.9" cy="157.6" r="2.42"/>
<circle cx="1124.7" cy="159.8" r="2.42"/>
<circle cx="1134.4" cy="161.7" r="2.42"/>
<circle cx="1144.2" cy="162.1" r="2.42"/>
<circle cx="1153.9" cy="162.1" r="2.42"/>
<circle cx="1163.7" cy="161.3" r="2.42"/>
<circle cx="1173.4" cy="158.3" r="2.42"/>
<circle cx="1183.1" cy="157.2" r="2.42"/>
<circle cx="1114.9" cy="166.9" r="2.42"/>
<circle cx="1124.7" cy="167.3" r="2.42"/>
<circle cx="1134.4" cy="168.4" r="2.42"/>
<circle cx="1144.2" cy="171.1" r="2.42"/>
<circle cx="1153.9" cy="171.1" r="2.42"/>
<circle cx="1163.7" cy="167.7" r="2.42"/>
<circle cx="1173.4" cy="167.1" r="2.42"/>
<circle cx="1183.1" cy="165.4" r="2.42"/>
<circle cx="1119.8" cy="172.6" r="2.42"/>
<circle cx="1129.6" cy="175.2" r="2.42"/>
<circle cx="1139.3" cy="176.3" r="2.42"/>
<circle cx="1149.0" cy="178.9" r="2.42"/>
<circle cx="1158.8" cy="177.1" r="2.42"/>
<circle cx="1168.5" cy="175.9" r="2.42"/>
<circle cx="1114.9" cy="181.6" r="2.42"/>
<circle cx="1124.7" cy="185.7" r="2.42"/>
<circle cx="1134.4" cy="186.4" r="2.42"/>
<circle cx="1153.9" cy="187.4" r="2.42"/>
<circle cx="1163.7" cy="186.2" r="2.42"/>
<circle cx="1183.1" cy="181.4" r="2.42"/>
<circle cx="1085.7" cy="190.5" r="2.42"/>
<circle cx="1095.5" cy="192.2" r="2.42"/>
<circle cx="1105.2" cy="192.6" r="2.42"/>
<circle cx="1134.4" cy="195.8" r="2.42"/>
<circle cx="1144.2" cy="196.7" r="2.42"/>
<circle cx="1153.9" cy="196.0" r="2.42"/>
<circle cx="1173.4" cy="194.7" r="2.42"/>
<circle cx="1183.1" cy="192.8" r="2.42"/>
<circle cx="1192.9" cy="192.4" r="2.42"/>
<circle cx="1202.6" cy="191.3" r="2.42"/>
<circle cx="1212.4" cy="190.0" r="2.42"/>
<circle cx="1105.2" cy="200.3" r="2.42"/>
<circle cx="1124.7" cy="203.3" r="2.42"/>
<circle cx="1163.7" cy="203.7" r="2.42"/>
<circle cx="1183.1" cy="200.5" r="2.42"/>
<circle cx="1192.9" cy="199.4" r="2.42"/>
<circle cx="1202.6" cy="198.8" r="2.42"/>
<circle cx="1076.0" cy="208.9" r="2.42"/>
<circle cx="1105.2" cy="211.5" r="2.42"/>
<circle cx="1134.4" cy="212.7" r="2.42"/>
<circle cx="1144.2" cy="213.0" r="2.42"/>
<circle cx="1114.9" cy="219.4" r="2.42"/>
<circle cx="1124.7" cy="219.4" r="2.42"/>
<circle cx="1134.4" cy="220.2" r="2.42"/>
<circle cx="1153.9" cy="220.5" r="2.42"/>
<circle cx="1202.6" cy="216.4" r="2.42"/>
<circle cx="1059.9" cy="221.5" r="2.42"/>
<circle cx="1069.6" cy="222.0" r="2.42"/>
<circle cx="1119.4" cy="226.5" r="2.42"/>
<circle cx="1158.8" cy="228.0" r="2.42"/>
<circle cx="1238.2" cy="222.0" r="2.42"/>
<circle cx="1248.0" cy="221.1" r="2.42"/>
<circle cx="1050.1" cy="229.0" r="2.42"/>
<circle cx="1069.2" cy="230.3" r="2.42"/>
<circle cx="1097.3" cy="231.0" r="2.42"/>
<circle cx="1106.7" cy="231.6" r="2.42"/>
<circle cx="1144.5" cy="235.3" r="2.42"/>
<circle cx="1248.0" cy="228.6" r="2.42"/>
<circle cx="1070.0" cy="237.6" r="2.42"/>
<circle cx="1129.2" cy="241.0" r="2.42"/>
<circle cx="1188.4" cy="240.2" r="2.42"/>
<circle cx="1218.4" cy="239.3" r="2.42"/>
<circle cx="1056.5" cy="243.2" r="2.42"/>
<circle cx="1076.0" cy="244.9" r="2.42"/>
<circle cx="1163.7" cy="247.9" r="2.42"/>
<circle cx="1192.9" cy="246.4" r="2.42"/>
<circle cx="1121.3" cy="253.9" r="2.42"/>
<circle cx="1168.9" cy="254.4" r="2.42"/>
<circle cx="1192.5" cy="253.7" r="2.42"/>
<circle cx="1224.4" cy="251.1" r="2.42"/>
<circle cx="1217.2" cy="258.7" r="2.42"/>
<circle cx="1188.0" cy="268.3" r="2.42"/>
<circle cx="1207.5" cy="266.4" r="2.42"/>
<circle cx="1217.2" cy="266.4" r="2.42"/>
<circle cx="1124.7" cy="276.4" r="2.42"/>
<circle cx="1173.4" cy="275.8" r="2.42"/>
<circle cx="1090.6" cy="281.4" r="2.42"/>
<circle cx="1090.6" cy="286.5" r="2.42"/>
<circle cx="1124.7" cy="315.3" r="2.42"/>
<circle cx="1592.9" cy="88.4" r="2.42"/>
<circle cx="1603.2" cy="84.8" r="2.42"/>
<circle cx="1572.6" cy="102.4" r="2.42"/>
<circle cx="1582.7" cy="105.6" r="2.42"/>
<circle cx="1592.9" cy="106.7" r="2.42"/>
<circle cx="1603.2" cy="106.2" r="2.42"/>
<circle cx="1613.3" cy="104.7" r="2.42"/>
<circle cx="1623.4" cy="101.5" r="2.42"/>
<circle cx="1582.7" cy="111.2" r="2.42"/>
<circle cx="1592.9" cy="115.0" r="2.42"/>
<circle cx="1603.2" cy="112.5" r="2.42"/>
<circle cx="1613.3" cy="110.5" r="2.42"/>
<circle cx="1582.7" cy="121.2" r="2.42"/>
<circle cx="1592.9" cy="121.5" r="2.42"/>
<circle cx="1603.2" cy="121.2" r="2.42"/>
<circle cx="1613.3" cy="120.8" r="2.42"/>
<circle cx="1613.3" cy="125.8" r="2.42"/>
<circle cx="1582.7" cy="128.6" r="2.42"/>
<circle cx="1592.9" cy="131.6" r="2.42"/>
<circle cx="1603.2" cy="131.6" r="2.42"/>
<circle cx="1572.6" cy="139.1" r="2.42"/>
<circle cx="1582.7" cy="142.1" r="2.42"/>
<circle cx="1592.9" cy="143.4" r="2.42"/>
<circle cx="1603.2" cy="143.3" r="2.42"/>
<circle cx="1613.3" cy="141.4" r="2.42"/>
<circle cx="1623.4" cy="138.6" r="2.42"/>
<circle cx="1557.4" cy="144.6" r="2.42"/>
<circle cx="1567.6" cy="146.4" r="2.42"/>
<circle cx="1577.7" cy="149.3" r="2.42"/>
<circle cx="1587.8" cy="150.6" r="2.42"/>
<circle cx="1598.1" cy="151.3" r="2.42"/>
<circle cx="1618.3" cy="150.4" r="2.42"/>
<circle cx="1628.5" cy="148.3" r="2.42"/>
<circle cx="1638.6" cy="145.7" r="2.42"/>
<circle cx="1547.3" cy="155.3" r="2.42"/>
<circle cx="1557.4" cy="157.1" r="2.42"/>
<circle cx="1567.6" cy="157.5" r="2.42"/>
<circle cx="1577.7" cy="161.4" r="2.42"/>
<circle cx="1587.8" cy="161.6" r="2.42"/>
<circle cx="1598.1" cy="162.6" r="2.42"/>
<circle cx="1608.2" cy="161.8" r="2.42"/>
<circle cx="1618.3" cy="161.6" r="2.42"/>
<circle cx="1628.5" cy="157.5" r="2.42"/>
<circle cx="1638.6" cy="157.1" r="2.42"/>
<circle cx="1648.7" cy="156.9" r="2.42"/>
<circle cx="1542.3" cy="165.4" r="2.42"/>
<circle cx="1552.4" cy="165.9" r="2.42"/>
<circle cx="1562.5" cy="167.1" r="2.42"/>
<circle cx="1572.6" cy="167.4" r="2.42"/>
<circle cx="1582.7" cy="171.0" r="2.42"/>
<circle cx="1592.9" cy="171.7" r="2.42"/>
<circle cx="1603.2" cy="171.2" r="2.42"/>
<circle cx="1613.3" cy="169.7" r="2.42"/>
<circle cx="1633.5" cy="165.9" r="2.42"/>
<circle cx="1643.6" cy="165.4" r="2.42"/>
<circle cx="1653.8" cy="164.2" r="2.42"/>
<circle cx="1547.3" cy="172.5" r="2.42"/>
<circle cx="1557.4" cy="177.2" r="2.42"/>
<circle cx="1567.6" cy="177.4" r="2.42"/>
<circle cx="1577.7" cy="178.3" r="2.42"/>
<circle cx="1587.8" cy="179.4" r="2.42"/>
<circle cx="1618.3" cy="179.4" r="2.42"/>
<circle cx="1628.5" cy="177.9" r="2.42"/>
<circle cx="1506.7" cy="180.9" r="2.42"/>
<circle cx="1516.8" cy="182.0" r="2.42"/>
<circle cx="1557.4" cy="186.2" r="2.42"/>
<circle cx="1567.6" cy="187.1" r="2.42"/>
<circle cx="1577.7" cy="187.1" r="2.42"/>
<circle cx="1608.2" cy="187.7" r="2.42"/>
<circle cx="1628.5" cy="187.1" r="2.42"/>
<circle cx="1638.6" cy="186.5" r="2.42"/>
<circle cx="1648.7" cy="185.6" r="2.42"/>
<circle cx="1658.8" cy="183.9" r="2.42"/>
<circle cx="1669.1" cy="182.6" r="2.42"/>
<circle cx="1689.4" cy="181.7" r="2.42"/>
<circle cx="1552.4" cy="191.6" r="2.42"/>
<circle cx="1562.5" cy="192.9" r="2.42"/>
<circle cx="1603.2" cy="195.7" r="2.42"/>
<circle cx="1633.5" cy="192.4" r="2.42"/>
<circle cx="1653.8" cy="190.3" r="2.42"/>
<circle cx="1521.8" cy="197.6" r="2.42"/>
<circle cx="1532.0" cy="199.1" r="2.42"/>
<circle cx="1552.4" cy="199.5" r="2.42"/>
<circle cx="1592.9" cy="204.2" r="2.42"/>
<circle cx="1664.1" cy="198.9" r="2.42"/>
<circle cx="1539.9" cy="208.9" r="2.42"/>
<circle cx="1611.7" cy="211.4" r="2.42"/>
<circle cx="1683.4" cy="206.5" r="2.42"/>
<circle cx="1701.3" cy="204.7" r="2.42"/>
<circle cx="1495.0" cy="212.2" r="2.42"/>
<circle cx="1507.9" cy="213.6" r="2.42"/>
<circle cx="1546.6" cy="217.0" r="2.42"/>
<circle cx="1656.2" cy="216.5" r="2.42"/>
<circle cx="1688.5" cy="213.6" r="2.42"/>
<circle cx="1495.0" cy="220.1" r="2.42"/>
<circle cx="1506.2" cy="221.1" r="2.42"/>
<circle cx="1511.8" cy="221.5" r="2.42"/>
<circle cx="1528.5" cy="222.8" r="2.42"/>
<circle cx="1567.5" cy="225.1" r="2.42"/>
<circle cx="1573.1" cy="225.3" r="2.42"/>
<circle cx="1589.8" cy="225.8" r="2.42"/>
<circle cx="1628.9" cy="225.1" r="2.42"/>
<circle cx="1651.2" cy="223.9" r="2.42"/>
<circle cx="1684.6" cy="221.5" r="2.42"/>
<circle cx="1646.7" cy="232.7" r="2.42"/>
<circle cx="1701.3" cy="227.6" r="2.42"/>
<circle cx="1607.6" cy="242.4" r="2.42"/>
<circle cx="1626.3" cy="241.8" r="2.42"/>
<circle cx="1495.0" cy="243.5" r="2.42"/>
<circle cx="1620.6" cy="256.7" r="2.42"/>
<circle cx="1618.3" cy="261.4" r="2.42"/>
<circle cx="1851.8" cy="91.0" r="2.42"/>
<circle cx="1821.4" cy="122.5" r="2.42"/>
<circle cx="1831.6" cy="124.0" r="2.42"/>
<circle cx="1841.7" cy="124.7" r="2.42"/>
<circle cx="1846.7" cy="120.8" r="2.42"/>
<circle cx="1856.8" cy="118.3" r="2.42"/>
<circle cx="1872.2" cy="124.3" r="2.42"/>
<circle cx="1882.3" cy="122.8" r="2.42"/>
<circle cx="1851.8" cy="129.8" r="2.42"/>
<circle cx="1862.1" cy="128.6" r="2.42"/>
<circle cx="1877.3" cy="131.3" r="2.42"/>
<circle cx="1826.5" cy="133.3" r="2.42"/>
<circle cx="1836.6" cy="137.6" r="2.42"/>
<circle cx="1846.7" cy="138.6" r="2.42"/>
<circle cx="1856.8" cy="138.2" r="2.42"/>
<circle cx="1867.2" cy="137.6" r="2.42"/>
<circle cx="1846.7" cy="146.4" r="2.42"/>
<circle cx="1856.8" cy="146.1" r="2.42"/>
<circle cx="1846.7" cy="154.1" r="2.42"/>
<circle cx="1856.8" cy="153.8" r="2.42"/>
<circle cx="1816.4" cy="159.0" r="2.42"/>
<circle cx="1826.5" cy="161.4" r="2.42"/>
<circle cx="1836.6" cy="164.1" r="2.42"/>
<circle cx="1846.7" cy="166.1" r="2.42"/>
<circle cx="1856.8" cy="165.6" r="2.42"/>
<circle cx="1867.2" cy="162.4" r="2.42"/>
<circle cx="1877.3" cy="161.2" r="2.42"/>
<circle cx="1887.4" cy="159.2" r="2.42"/>
<circle cx="1831.6" cy="170.4" r="2.42"/>
<circle cx="1841.7" cy="172.3" r="2.42"/>
<circle cx="1851.8" cy="173.6" r="2.42"/>
<circle cx="1862.1" cy="172.5" r="2.42"/>
<circle cx="1872.2" cy="171.9" r="2.42"/>
<circle cx="1836.6" cy="181.7" r="2.42"/>
<circle cx="1846.7" cy="184.7" r="2.42"/>
<circle cx="1856.8" cy="183.2" r="2.42"/>
<circle cx="1867.2" cy="180.0" r="2.42"/>
<circle cx="1796.1" cy="188.0" r="2.42"/>
<circle cx="1806.3" cy="189.5" r="2.42"/>
<circle cx="1816.4" cy="189.7" r="2.42"/>
<circle cx="1826.5" cy="191.2" r="2.42"/>
<circle cx="1846.7" cy="194.6" r="2.42"/>
<circle cx="1856.8" cy="194.2" r="2.42"/>
<circle cx="1867.2" cy="191.6" r="2.42"/>
<circle cx="1877.3" cy="191.2" r="2.42"/>
<circle cx="1887.4" cy="189.5" r="2.42"/>
<circle cx="1897.5" cy="188.8" r="2.42"/>
<circle cx="1907.6" cy="187.9" r="2.42"/>
<circle cx="1821.4" cy="196.1" r="2.42"/>
<circle cx="1831.6" cy="198.2" r="2.42"/>
<circle cx="1841.7" cy="200.6" r="2.42"/>
<circle cx="1851.8" cy="203.2" r="2.42"/>
<circle cx="1862.1" cy="202.5" r="2.42"/>
<circle cx="1872.2" cy="198.7" r="2.42"/>
<circle cx="1811.3" cy="206.0" r="2.42"/>
<circle cx="1821.4" cy="206.4" r="2.42"/>
<circle cx="1831.6" cy="207.3" r="2.42"/>
<circle cx="1841.7" cy="208.8" r="2.42"/>
<circle cx="1872.2" cy="207.3" r="2.42"/>
<circle cx="1882.3" cy="206.6" r="2.42"/>
<circle cx="1892.4" cy="206.2" r="2.42"/>
<circle cx="1851.8" cy="213.3" r="2.42"/>
<circle cx="1862.1" cy="212.8" r="2.42"/>
<circle cx="1851.8" cy="221.0" r="2.42"/>
<circle cx="1862.1" cy="219.7" r="2.42"/>
<circle cx="1816.4" cy="225.3" r="2.42"/>
<circle cx="1826.5" cy="227.4" r="2.42"/>
<circle cx="1836.6" cy="228.0" r="2.42"/>
<circle cx="1856.8" cy="229.3" r="2.42"/>
<circle cx="1877.3" cy="226.1" r="2.42"/>
<circle cx="1887.4" cy="224.4" r="2.42"/>
<circle cx="1897.5" cy="223.3" r="2.42"/>
<circle cx="1796.1" cy="232.8" r="2.42"/>
<circle cx="1816.4" cy="234.7" r="2.42"/>
<circle cx="1836.6" cy="236.6" r="2.42"/>
<circle cx="1867.2" cy="236.6" r="2.42"/>
<circle cx="1877.3" cy="235.6" r="2.42"/>
<circle cx="1897.5" cy="233.9" r="2.42"/>
<circle cx="1907.6" cy="231.1" r="2.42"/>
<circle cx="1816.4" cy="241.4" r="2.42"/>
<circle cx="1846.7" cy="245.9" r="2.42"/>
<circle cx="1877.3" cy="241.4" r="2.42"/>
<circle cx="1887.4" cy="240.9" r="2.42"/>
<circle cx="1897.5" cy="239.2" r="2.42"/>
<circle cx="1785.8" cy="249.1" r="2.42"/>
<circle cx="1856.8" cy="252.3" r="2.42"/>
<circle cx="1917.7" cy="248.6" r="2.42"/>
<circle cx="1867.2" cy="261.3" r="2.42"/>
<circle cx="1917.7" cy="258.7" r="2.42"/>
<circle cx="1770.5" cy="264.3" r="2.42"/>
<circle cx="1801.2" cy="267.5" r="2.42"/>
<circle cx="1811.3" cy="268.2" r="2.42"/>
<circle cx="1841.7" cy="270.1" r="2.42"/>
<circle cx="1902.6" cy="267.8" r="2.42"/>
<circle cx="1922.8" cy="265.0" r="2.42"/>
<circle cx="1915.5" cy="277.4" r="2.42"/>
<circle cx="1759.0" cy="281.2" r="2.42"/>
<circle cx="1769.3" cy="281.3" r="2.42"/>
<circle cx="1913.6" cy="284.9" r="2.42"/>
<circle cx="1934.2" cy="281.9" r="2.42"/>
<circle cx="1796.1" cy="293.0" r="2.42"/>
<circle cx="1836.6" cy="295.4" r="2.42"/>
<circle cx="1938.2" cy="290.5" r="2.42"/>
<circle cx="1948.3" cy="289.4" r="2.42"/>
<circle cx="1758.7" cy="297.5" r="2.42"/>
<circle cx="1846.7" cy="311.7" r="2.42"/>
<circle cx="1841.7" cy="326.3" r="2.42"/>
<circle cx="1780.8" cy="328.4" r="2.42"/>
<circle cx="1821.4" cy="343.9" r="2.42"/>
<circle cx="231.3" cy="653.5" r="2.42"/>
<circle cx="245.7" cy="655.2" r="2.42"/>
<circle cx="216.9" cy="658.2" r="2.42"/>
<circle cx="226.4" cy="659.1" r="2.42"/>
<circle cx="236.2" cy="658.9" r="2.42"/>
<circle cx="245.7" cy="661.9" r="2.42"/>
<circle cx="255.3" cy="660.6" r="2.42"/>
<circle cx="207.3" cy="661.4" r="2.42"/>
<circle cx="216.9" cy="664.9" r="2.42"/>
<circle cx="236.2" cy="666.6" r="2.42"/>
<circle cx="226.4" cy="668.9" r="2.42"/>
<circle cx="236.2" cy="675.8" r="2.42"/>
<circle cx="226.4" cy="678.2" r="2.42"/>
<circle cx="202.4" cy="683.5" r="2.42"/>
<circle cx="212.0" cy="685.9" r="2.42"/>
<circle cx="221.7" cy="686.8" r="2.42"/>
<circle cx="231.3" cy="688.7" r="2.42"/>
<circle cx="240.8" cy="688.0" r="2.42"/>
<circle cx="250.6" cy="686.1" r="2.42"/>
<circle cx="260.1" cy="685.0" r="2.42"/>
<circle cx="178.4" cy="690.2" r="2.42"/>
<circle cx="188.0" cy="690.8" r="2.42"/>
<circle cx="197.6" cy="691.2" r="2.42"/>
<circle cx="207.3" cy="692.8" r="2.42"/>
<circle cx="216.9" cy="693.6" r="2.42"/>
<circle cx="226.4" cy="695.6" r="2.42"/>
<circle cx="236.2" cy="694.9" r="2.42"/>
<circle cx="245.7" cy="693.0" r="2.42"/>
<circle cx="255.3" cy="692.5" r="2.42"/>
<circle cx="264.8" cy="690.8" r="2.42"/>
<circle cx="274.4" cy="690.4" r="2.42"/>
<circle cx="283.9" cy="690.0" r="2.42"/>
<circle cx="178.4" cy="697.1" r="2.42"/>
<circle cx="188.0" cy="697.5" r="2.42"/>
<circle cx="207.3" cy="701.3" r="2.42"/>
<circle cx="216.9" cy="702.2" r="2.42"/>
<circle cx="236.2" cy="703.1" r="2.42"/>
<circle cx="245.7" cy="701.5" r="2.42"/>
<circle cx="274.4" cy="697.3" r="2.42"/>
<circle cx="283.9" cy="696.8" r="2.42"/>
<circle cx="142.1" cy="705.1" r="2.42"/>
<circle cx="198.8" cy="709.7" r="2.42"/>
<circle cx="215.0" cy="710.5" r="2.42"/>
<circle cx="223.1" cy="710.7" r="2.42"/>
<circle cx="255.5" cy="710.1" r="2.42"/>
<circle cx="263.6" cy="709.7" r="2.42"/>
<circle cx="271.7" cy="709.2" r="2.42"/>
<circle cx="287.9" cy="708.1" r="2.42"/>
<circle cx="296.0" cy="707.4" r="2.42"/>
<circle cx="312.2" cy="705.9" r="2.42"/>
<circle cx="320.3" cy="705.1" r="2.42"/>
<circle cx="134.0" cy="711.4" r="2.42"/>
<circle cx="159.4" cy="713.8" r="2.42"/>
<circle cx="176.3" cy="715.2" r="2.42"/>
<circle cx="193.2" cy="716.3" r="2.42"/>
<circle cx="218.5" cy="717.5" r="2.42"/>
<circle cx="235.4" cy="717.7" r="2.42"/>
<circle cx="269.2" cy="716.3" r="2.42"/>
<circle cx="286.1" cy="715.2" r="2.42"/>
<circle cx="303.0" cy="713.8" r="2.42"/>
<circle cx="311.5" cy="713.1" r="2.42"/>
<circle cx="319.9" cy="712.3" r="2.42"/>
<circle cx="328.3" cy="711.4" r="2.42"/>
<circle cx="134.0" cy="718.9" r="2.42"/>
<circle cx="139.6" cy="719.5" r="2.42"/>
<circle cx="161.8" cy="721.5" r="2.42"/>
<circle cx="184.0" cy="723.2" r="2.42"/>
<circle cx="189.6" cy="723.6" r="2.42"/>
<circle cx="200.7" cy="724.3" r="2.42"/>
<circle cx="211.8" cy="724.8" r="2.42"/>
<circle cx="217.3" cy="725.0" r="2.42"/>
<circle cx="228.4" cy="725.2" r="2.42"/>
<circle cx="239.5" cy="725.1" r="2.42"/>
<circle cx="245.1" cy="725.0" r="2.42"/>
<circle cx="250.6" cy="724.8" r="2.42"/>
<circle cx="289.5" cy="722.4" r="2.42"/>
<circle cx="300.6" cy="721.5" r="2.42"/>
<circle cx="155.6" cy="728.6" r="2.42"/>
<circle cx="184.4" cy="731.0" r="2.42"/>
<circle cx="220.4" cy="732.9" r="2.42"/>
<circle cx="270.8" cy="731.5" r="2.42"/>
<circle cx="278.0" cy="731.0" r="2.42"/>
<circle cx="306.8" cy="728.6" r="2.42"/>
<circle cx="161.8" cy="735.7" r="2.42"/>
<circle cx="178.5" cy="737.0" r="2.42"/>
<circle cx="211.8" cy="738.8" r="2.42"/>
<circle cx="261.7" cy="738.3" r="2.42"/>
<circle cx="295.0" cy="736.1" r="2.42"/>
<circle cx="306.1" cy="735.2" r="2.42"/>
<circle cx="134.0" cy="741.2" r="2.42"/>
<circle cx="228.1" cy="746.8" r="2.42"/>
<circle cx="253.1" cy="746.3" r="2.42"/>
<circle cx="278.2" cy="745.0" r="2.42"/>
<circle cx="297.0" cy="743.8" r="2.42"/>
<circle cx="315.8" cy="742.3" r="2.42"/>
<circle cx="134.0" cy="747.7" r="2.42"/>
<circle cx="165.1" cy="750.8" r="2.42"/>
<circle cx="188.4" cy="752.5" r="2.42"/>
<circle cx="204.0" cy="753.4" r="2.42"/>
<circle cx="266.2" cy="753.0" r="2.42"/>
<circle cx="289.5" cy="751.4" r="2.42"/>
<circle cx="297.3" cy="750.8" r="2.42"/>
<circle cx="193.8" cy="760.2" r="2.42"/>
<circle cx="216.2" cy="761.1" r="2.42"/>
<circle cx="223.7" cy="761.3" r="2.42"/>
<circle cx="238.7" cy="761.3" r="2.42"/>
<circle cx="151.7" cy="763.3" r="2.42"/>
<circle cx="310.7" cy="763.1" r="2.42"/>
<circle cx="264.8" cy="771.7" r="2.42"/>
<circle cx="178.4" cy="777.9" r="2.42"/>
<circle cx="245.7" cy="783.2" r="2.42"/>
<circle cx="465.7" cy="664.6" r="2.42"/>
<circle cx="475.4" cy="663.7" r="2.42"/>
<circle cx="446.6" cy="670.6" r="2.42"/>
<circle cx="456.1" cy="672.5" r="2.42"/>
<circle cx="465.7" cy="673.2" r="2.42"/>
<circle cx="475.4" cy="673.0" r="2.42"/>
<circle cx="485.0" cy="671.7" r="2.42"/>
<circle cx="494.5" cy="669.7" r="2.42"/>
<circle cx="461.0" cy="678.1" r="2.42"/>
<circle cx="470.5" cy="680.0" r="2.42"/>
<circle cx="480.1" cy="679.2" r="2.42"/>
<circle cx="475.4" cy="686.4" r="2.42"/>
<circle cx="465.7" cy="690.5" r="2.42"/>
<circle cx="456.1" cy="695.7" r="2.42"/>
<circle cx="475.4" cy="696.8" r="2.42"/>
<circle cx="485.0" cy="695.3" r="2.42"/>
<circle cx="465.7" cy="700.2" r="2.42"/>
<circle cx="436.8" cy="702.1" r="2.42"/>
<circle cx="446.6" cy="703.4" r="2.42"/>
<circle cx="456.1" cy="704.9" r="2.42"/>
<circle cx="465.7" cy="707.7" r="2.42"/>
<circle cx="475.4" cy="704.7" r="2.42"/>
<circle cx="485.0" cy="704.3" r="2.42"/>
<circle cx="494.5" cy="702.7" r="2.42"/>
<circle cx="504.3" cy="700.2" r="2.42"/>
<circle cx="432.1" cy="709.8" r="2.42"/>
<circle cx="441.7" cy="712.0" r="2.42"/>
<circle cx="451.2" cy="712.6" r="2.42"/>
<circle cx="461.0" cy="715.4" r="2.42"/>
<circle cx="470.5" cy="715.8" r="2.42"/>
<circle cx="480.1" cy="715.6" r="2.42"/>
<circle cx="489.8" cy="714.5" r="2.42"/>
<circle cx="499.4" cy="712.4" r="2.42"/>
<circle cx="508.9" cy="709.8" r="2.42"/>
<circle cx="427.3" cy="718.4" r="2.42"/>
<circle cx="436.8" cy="720.6" r="2.42"/>
<circle cx="446.6" cy="721.2" r="2.42"/>
<circle cx="456.1" cy="722.9" r="2.42"/>
<circle cx="465.7" cy="723.6" r="2.42"/>
<circle cx="475.4" cy="723.6" r="2.42"/>
<circle cx="485.0" cy="722.7" r="2.42"/>
<circle cx="494.5" cy="720.8" r="2.42"/>
<circle cx="513.8" cy="718.2" r="2.42"/>
<circle cx="403.3" cy="726.3" r="2.42"/>
<circle cx="412.8" cy="727.9" r="2.42"/>
<circle cx="422.4" cy="728.3" r="2.42"/>
<circle cx="461.0" cy="732.4" r="2.42"/>
<circle cx="499.4" cy="731.1" r="2.42"/>
<circle cx="518.5" cy="728.5" r="2.42"/>
<circle cx="528.2" cy="728.1" r="2.42"/>
<circle cx="393.7" cy="733.4" r="2.42"/>
<circle cx="432.1" cy="737.1" r="2.42"/>
<circle cx="441.7" cy="737.5" r="2.42"/>
<circle cx="489.8" cy="738.4" r="2.42"/>
<circle cx="499.4" cy="737.7" r="2.42"/>
<circle cx="508.9" cy="737.3" r="2.42"/>
<circle cx="518.5" cy="736.9" r="2.42"/>
<circle cx="547.4" cy="733.9" r="2.42"/>
<circle cx="398.4" cy="742.0" r="2.42"/>
<circle cx="417.7" cy="743.3" r="2.42"/>
<circle cx="427.3" cy="743.3" r="2.42"/>
<circle cx="456.1" cy="748.0" r="2.42"/>
<circle cx="465.7" cy="748.2" r="2.42"/>
<circle cx="504.3" cy="743.9" r="2.42"/>
<circle cx="532.9" cy="742.2" r="2.42"/>
<circle cx="542.7" cy="741.4" r="2.42"/>
<circle cx="373.5" cy="748.4" r="2.42"/>
<circle cx="401.2" cy="750.8" r="2.42"/>
<circle cx="408.1" cy="751.3" r="2.42"/>
<circle cx="428.9" cy="752.7" r="2.42"/>
<circle cx="435.9" cy="753.1" r="2.42"/>
<circle cx="456.7" cy="753.9" r="2.42"/>
<circle cx="470.5" cy="754.2" r="2.42"/>
<circle cx="498.3" cy="753.4" r="2.42"/>
<circle cx="526.0" cy="751.8" r="2.42"/>
<circle cx="532.9" cy="751.3" r="2.42"/>
<circle cx="546.8" cy="750.2" r="2.42"/>
<circle cx="553.7" cy="749.6" r="2.42"/>
<circle cx="567.6" cy="748.4" r="2.42"/>
<circle cx="373.5" cy="755.5" r="2.42"/>
<circle cx="444.1" cy="761.9" r="2.42"/>
<circle cx="479.4" cy="762.6" r="2.42"/>
<circle cx="558.8" cy="756.5" r="2.42"/>
<circle cx="463.1" cy="769.4" r="2.42"/>
<circle cx="500.4" cy="768.5" r="2.42"/>
<circle cx="522.8" cy="767.1" r="2.42"/>
<circle cx="537.7" cy="765.9" r="2.42"/>
<circle cx="545.2" cy="765.2" r="2.42"/>
<circle cx="567.6" cy="763.0" r="2.42"/>
<circle cx="379.4" cy="770.8" r="2.42"/>
<circle cx="385.2" cy="771.4" r="2.42"/>
<circle cx="397.0" cy="772.6" r="2.42"/>
<circle cx="420.5" cy="774.6" r="2.42"/>
<circle cx="491.1" cy="776.5" r="2.42"/>
<circle cx="514.7" cy="775.1" r="2.42"/>
<circle cx="520.5" cy="774.6" r="2.42"/>
<circle cx="422.0" cy="782.4" r="2.42"/>
<circle cx="446.3" cy="783.8" r="2.42"/>
<circle cx="470.5" cy="784.5" r="2.42"/>
<circle cx="486.7" cy="784.2" r="2.42"/>
<circle cx="402.9" cy="788.2" r="2.42"/>
<circle cx="473.5" cy="791.8" r="2.42"/>
<circle cx="479.4" cy="791.7" r="2.42"/>
<circle cx="526.4" cy="789.1" r="2.42"/>
<circle cx="550.0" cy="787.1" r="2.42"/>
<circle cx="412.8" cy="794.5" r="2.42"/>
<circle cx="382.7" cy="803.1" r="2.42"/>
<circle cx="484.2" cy="806.6" r="2.42"/>
<circle cx="493.6" cy="805.7" r="2.42"/>
<circle cx="888.6" cy="651.9" r="2.42"/>
<circle cx="898.1" cy="654.5" r="2.42"/>
<circle cx="907.7" cy="649.7" r="2.42"/>
<circle cx="917.4" cy="649.1" r="2.42"/>
<circle cx="927.0" cy="652.5" r="2.42"/>
<circle cx="936.5" cy="651.4" r="2.42"/>
<circle cx="907.7" cy="657.7" r="2.42"/>
<circle cx="917.4" cy="655.9" r="2.42"/>
<circle cx="888.6" cy="661.5" r="2.42"/>
<circle cx="927.0" cy="661.9" r="2.42"/>
<circle cx="936.5" cy="661.3" r="2.42"/>
<circle cx="898.1" cy="665.6" r="2.42"/>
<circle cx="907.7" cy="668.4" r="2.42"/>
<circle cx="917.4" cy="668.4" r="2.42"/>
<circle cx="907.7" cy="674.6" r="2.42"/>
<circle cx="917.4" cy="674.0" r="2.42"/>
<circle cx="878.8" cy="678.5" r="2.42"/>
<circle cx="888.6" cy="679.1" r="2.42"/>
<circle cx="898.1" cy="679.8" r="2.42"/>
<circle cx="907.7" cy="682.5" r="2.42"/>
<circle cx="917.4" cy="680.2" r="2.42"/>
<circle cx="927.0" cy="679.7" r="2.42"/>
<circle cx="936.5" cy="678.9" r="2.42"/>
<circle cx="946.3" cy="675.9" r="2.42"/>
<circle cx="883.7" cy="684.0" r="2.42"/>
<circle cx="893.2" cy="686.4" r="2.42"/>
<circle cx="903.0" cy="688.3" r="2.42"/>
<circle cx="912.5" cy="690.0" r="2.42"/>
<circle cx="922.1" cy="689.0" r="2.42"/>
<circle cx="931.8" cy="686.6" r="2.42"/>
<circle cx="941.4" cy="684.3" r="2.42"/>
<circle cx="874.1" cy="692.6" r="2.42"/>
<circle cx="883.7" cy="693.0" r="2.42"/>
<circle cx="912.5" cy="697.8" r="2.42"/>
<circle cx="931.8" cy="696.9" r="2.42"/>
<circle cx="941.4" cy="693.1" r="2.42"/>
<circle cx="950.9" cy="692.4" r="2.42"/>
<circle cx="840.4" cy="699.5" r="2.42"/>
<circle cx="850.0" cy="699.9" r="2.42"/>
<circle cx="878.8" cy="702.3" r="2.42"/>
<circle cx="888.6" cy="702.7" r="2.42"/>
<circle cx="907.7" cy="705.3" r="2.42"/>
<circle cx="917.4" cy="704.8" r="2.42"/>
<circle cx="927.0" cy="703.3" r="2.42"/>
<circle cx="946.3" cy="701.8" r="2.42"/>
<circle cx="955.8" cy="700.8" r="2.42"/>
<circle cx="965.4" cy="699.9" r="2.42"/>
<circle cx="974.9" cy="699.5" r="2.42"/>
<circle cx="984.7" cy="699.3" r="2.42"/>
<circle cx="859.7" cy="709.3" r="2.42"/>
<circle cx="888.6" cy="711.1" r="2.42"/>
<circle cx="907.7" cy="713.0" r="2.42"/>
<circle cx="946.3" cy="710.2" r="2.42"/>
<circle cx="984.7" cy="706.3" r="2.42"/>
<circle cx="815.1" cy="713.6" r="2.42"/>
<circle cx="824.3" cy="713.8" r="2.42"/>
<circle cx="833.5" cy="715.3" r="2.42"/>
<circle cx="870.8" cy="718.3" r="2.42"/>
<circle cx="880.1" cy="718.3" r="2.42"/>
<circle cx="917.4" cy="719.9" r="2.42"/>
<circle cx="926.6" cy="719.6" r="2.42"/>
<circle cx="963.5" cy="717.5" r="2.42"/>
<circle cx="972.9" cy="716.0" r="2.42"/>
<circle cx="1010.0" cy="713.4" r="2.42"/>
<circle cx="832.0" cy="723.3" r="2.42"/>
<circle cx="857.5" cy="724.2" r="2.42"/>
<circle cx="891.4" cy="726.5" r="2.42"/>
<circle cx="899.8" cy="726.7" r="2.42"/>
<circle cx="916.8" cy="726.9" r="2.42"/>
<circle cx="942.1" cy="726.1" r="2.42"/>
<circle cx="950.8" cy="725.9" r="2.42"/>
<circle cx="959.2" cy="725.2" r="2.42"/>
<circle cx="984.7" cy="723.7" r="2.42"/>
<circle cx="1001.7" cy="721.6" r="2.42"/>
<circle cx="815.1" cy="728.0" r="2.42"/>
<circle cx="833.5" cy="729.7" r="2.42"/>
<circle cx="861.6" cy="732.7" r="2.42"/>
<circle cx="936.0" cy="733.2" r="2.42"/>
<circle cx="972.9" cy="731.6" r="2.42"/>
<circle cx="834.6" cy="737.4" r="2.42"/>
<circle cx="854.1" cy="737.9" r="2.42"/>
<circle cx="863.8" cy="738.1" r="2.42"/>
<circle cx="873.6" cy="739.4" r="2.42"/>
<circle cx="893.2" cy="740.7" r="2.42"/>
<circle cx="961.4" cy="738.3" r="2.42"/>
<circle cx="990.7" cy="737.7" r="2.42"/>
<circle cx="1000.4" cy="735.9" r="2.42"/>
<circle cx="843.8" cy="744.5" r="2.42"/>
<circle cx="880.1" cy="747.5" r="2.42"/>
<circle cx="973.8" cy="745.4" r="2.42"/>
<circle cx="988.4" cy="743.7" r="2.42"/>
<circle cx="995.5" cy="743.0" r="2.42"/>
<circle cx="821.5" cy="752.4" r="2.42"/>
<circle cx="880.1" cy="756.3" r="2.42"/>
<circle cx="906.0" cy="757.8" r="2.42"/>
<circle cx="931.8" cy="757.0" r="2.42"/>
<circle cx="945.0" cy="756.7" r="2.42"/>
<circle cx="957.9" cy="755.7" r="2.42"/>
<circle cx="977.4" cy="754.2" r="2.42"/>
<circle cx="990.3" cy="753.1" r="2.42"/>
<circle cx="859.7" cy="759.7" r="2.42"/>
<circle cx="869.3" cy="759.7" r="2.42"/>
<circle cx="888.6" cy="761.0" r="2.42"/>
<circle cx="927.0" cy="761.0" r="2.42"/>
<circle cx="984.7" cy="758.9" r="2.42"/>
<circle cx="878.8" cy="768.8" r="2.42"/>
<circle cx="965.4" cy="767.3" r="2.42"/>
<circle cx="984.7" cy="772.2" r="2.42"/>
<circle cx="835.7" cy="782.0" r="2.42"/>
<circle cx="941.4" cy="798.3" r="2.42"/>
<circle cx="917.4" cy="816.2" r="2.42"/>
<circle cx="1133.2" cy="659.5" r="2.42"/>
<circle cx="1143.0" cy="662.5" r="2.42"/>
<circle cx="1152.5" cy="663.8" r="2.42"/>
<circle cx="1162.1" cy="663.4" r="2.42"/>
<circle cx="1171.8" cy="662.3" r="2.42"/>
<circle cx="1123.7" cy="666.2" r="2.42"/>
<circle cx="1133.2" cy="667.9" r="2.42"/>
<circle cx="1181.4" cy="666.8" r="2.42"/>
<circle cx="1171.8" cy="669.6" r="2.42"/>
<circle cx="1143.0" cy="672.0" r="2.42"/>
<circle cx="1152.5" cy="672.6" r="2.42"/>
<circle cx="1162.1" cy="672.4" r="2.42"/>
<circle cx="1138.1" cy="681.8" r="2.42"/>
<circle cx="1167.0" cy="681.8" r="2.42"/>
<circle cx="1147.7" cy="686.7" r="2.42"/>
<circle cx="1157.4" cy="685.2" r="2.42"/>
<circle cx="1123.7" cy="687.4" r="2.42"/>
<circle cx="1133.2" cy="689.7" r="2.42"/>
<circle cx="1181.4" cy="689.1" r="2.42"/>
<circle cx="1143.0" cy="693.2" r="2.42"/>
<circle cx="1152.5" cy="694.5" r="2.42"/>
<circle cx="1162.1" cy="693.6" r="2.42"/>
<circle cx="1171.8" cy="692.1" r="2.42"/>
<circle cx="1176.5" cy="696.2" r="2.42"/>
<circle cx="1128.6" cy="698.1" r="2.42"/>
<circle cx="1138.1" cy="701.1" r="2.42"/>
<circle cx="1147.7" cy="703.1" r="2.42"/>
<circle cx="1157.4" cy="702.4" r="2.42"/>
<circle cx="1167.0" cy="699.0" r="2.42"/>
<circle cx="1176.5" cy="705.4" r="2.42"/>
<circle cx="1128.6" cy="707.1" r="2.42"/>
<circle cx="1167.0" cy="707.5" r="2.42"/>
<circle cx="1138.1" cy="710.1" r="2.42"/>
<circle cx="1147.7" cy="712.0" r="2.42"/>
<circle cx="1157.4" cy="712.0" r="2.42"/>
<circle cx="1114.1" cy="714.6" r="2.42"/>
<circle cx="1123.7" cy="715.3" r="2.42"/>
<circle cx="1133.2" cy="715.9" r="2.42"/>
<circle cx="1152.5" cy="720.6" r="2.42"/>
<circle cx="1162.1" cy="720.2" r="2.42"/>
<circle cx="1171.8" cy="719.1" r="2.42"/>
<circle cx="1181.4" cy="715.5" r="2.42"/>
<circle cx="1190.9" cy="715.3" r="2.42"/>
<circle cx="1118.8" cy="725.3" r="2.42"/>
<circle cx="1128.6" cy="725.3" r="2.42"/>
<circle cx="1138.1" cy="726.6" r="2.42"/>
<circle cx="1147.7" cy="727.7" r="2.42"/>
<circle cx="1157.4" cy="727.1" r="2.42"/>
<circle cx="1167.0" cy="725.8" r="2.42"/>
<circle cx="1099.7" cy="729.0" r="2.42"/>
<circle cx="1109.3" cy="731.4" r="2.42"/>
<circle cx="1128.6" cy="732.2" r="2.42"/>
<circle cx="1138.1" cy="733.5" r="2.42"/>
<circle cx="1157.4" cy="734.2" r="2.42"/>
<circle cx="1167.0" cy="732.9" r="2.42"/>
<circle cx="1186.3" cy="731.4" r="2.42"/>
<circle cx="1195.8" cy="731.4" r="2.42"/>
<circle cx="1152.5" cy="743.2" r="2.42"/>
<circle cx="1181.4" cy="741.4" r="2.42"/>
<circle cx="1190.9" cy="741.2" r="2.42"/>
<circle cx="1200.5" cy="739.3" r="2.42"/>
<circle cx="1090.0" cy="747.0" r="2.42"/>
<circle cx="1109.3" cy="747.9" r="2.42"/>
<circle cx="1118.8" cy="748.3" r="2.42"/>
<circle cx="1138.1" cy="750.0" r="2.42"/>
<circle cx="1157.4" cy="750.2" r="2.42"/>
<circle cx="1195.8" cy="747.9" r="2.42"/>
<circle cx="1205.4" cy="747.6" r="2.42"/>
<circle cx="1214.9" cy="747.0" r="2.42"/>
<circle cx="1224.7" cy="746.1" r="2.42"/>
<circle cx="1080.4" cy="751.5" r="2.42"/>
<circle cx="1099.7" cy="753.2" r="2.42"/>
<circle cx="1205.4" cy="752.8" r="2.42"/>
<circle cx="1214.9" cy="752.6" r="2.42"/>
<circle cx="1085.3" cy="761.4" r="2.42"/>
<circle cx="1143.0" cy="765.2" r="2.42"/>
<circle cx="1171.8" cy="764.6" r="2.42"/>
<circle cx="1190.9" cy="764.0" r="2.42"/>
<circle cx="1200.5" cy="762.5" r="2.42"/>
<circle cx="1210.2" cy="762.0" r="2.42"/>
<circle cx="1219.8" cy="761.4" r="2.42"/>
<circle cx="1239.1" cy="759.4" r="2.42"/>
<circle cx="1094.8" cy="766.7" r="2.42"/>
<circle cx="1104.4" cy="767.8" r="2.42"/>
<circle cx="1114.1" cy="768.7" r="2.42"/>
<circle cx="1143.0" cy="772.3" r="2.42"/>
<circle cx="1162.1" cy="772.7" r="2.42"/>
<circle cx="1200.5" cy="767.8" r="2.42"/>
<circle cx="1210.2" cy="767.0" r="2.42"/>
<circle cx="1109.3" cy="777.0" r="2.42"/>
<circle cx="1176.5" cy="777.9" r="2.42"/>
<circle cx="1063.5" cy="781.7" r="2.42"/>
<circle cx="1072.0" cy="782.4" r="2.42"/>
<circle cx="1080.4" cy="782.8" r="2.42"/>
<circle cx="1088.8" cy="783.3" r="2.42"/>
<circle cx="1131.4" cy="785.8" r="2.42"/>
<circle cx="1139.8" cy="786.7" r="2.42"/>
<circle cx="1148.4" cy="787.3" r="2.42"/>
<circle cx="1250.0" cy="780.5" r="2.42"/>
<circle cx="1167.0" cy="793.8" r="2.42"/>
<circle cx="1152.5" cy="801.9" r="2.42"/>
<circle cx="1171.8" cy="799.5" r="2.42"/>
<circle cx="1190.9" cy="796.6" r="2.42"/>
<circle cx="1114.1" cy="806.0" r="2.42"/>
<circle cx="1123.7" cy="807.3" r="2.42"/>
<circle cx="1210.2" cy="804.7" r="2.42"/>
<circle cx="1152.5" cy="816.5" r="2.42"/>
<circle cx="1190.9" cy="836.3" r="2.42"/>
<circle cx="1094.8" cy="839.8" r="2.42"/>
</g>
<g class="o">
<circle cx="821.5" cy="166.9" r="2.35"/>
<circle cx="806.8" cy="173.0" r="2.35"/>
<circle cx="834.3" cy="175.4" r="2.35"/>
<circle cx="856.3" cy="177.0" r="2.35"/>
<circle cx="894.8" cy="178.8" r="2.35"/>
<circle cx="841.7" cy="184.0" r="2.35"/>
<circle cx="865.0" cy="185.7" r="2.35"/>
<circle cx="876.7" cy="186.4" r="2.35"/>
<circle cx="806.8" cy="188.0" r="2.35"/>
<circle cx="824.8" cy="189.6" r="2.35"/>
<circle cx="854.8" cy="191.9" r="2.35"/>
<circle cx="890.8" cy="193.7" r="2.35"/>
<circle cx="980.8" cy="190.1" r="2.35"/>
<circle cx="846.4" cy="199.3" r="2.35"/>
<circle cx="971.8" cy="198.7" r="2.35"/>
<circle cx="998.2" cy="196.0" r="2.35"/>
<circle cx="1004.8" cy="195.3" r="2.35"/>
<circle cx="813.9" cy="203.7" r="2.35"/>
<circle cx="820.9" cy="204.4" r="2.35"/>
<circle cx="849.2" cy="206.7" r="2.35"/>
<circle cx="877.5" cy="208.5" r="2.35"/>
<circle cx="941.2" cy="208.1" r="2.35"/>
<circle cx="948.3" cy="207.7" r="2.35"/>
<circle cx="955.3" cy="207.2" r="2.35"/>
<circle cx="833.6" cy="212.7" r="2.35"/>
<circle cx="860.6" cy="214.0" r="2.35"/>
<circle cx="932.5" cy="215.7" r="2.35"/>
<circle cx="986.5" cy="212.5" r="2.35"/>
<circle cx="995.5" cy="211.4" r="2.35"/>
<circle cx="900.7" cy="224.9" r="2.35"/>
<circle cx="949.4" cy="222.3" r="2.35"/>
<circle cx="968.9" cy="219.5" r="2.35"/>
<circle cx="895.8" cy="230.3" r="2.35"/>
<circle cx="905.5" cy="231.8" r="2.35"/>
<circle cx="895.8" cy="237.1" r="2.35"/>
<circle cx="915.3" cy="239.3" r="2.35"/>
<circle cx="900.7" cy="247.9" r="2.35"/>
<circle cx="910.6" cy="252.0" r="2.35"/>
<circle cx="905.4" cy="274.7" r="2.35"/>
<circle cx="1153.9" cy="213.0" r="2.35"/>
<circle cx="1173.4" cy="211.9" r="2.35"/>
<circle cx="1222.1" cy="208.3" r="2.35"/>
<circle cx="1218.4" cy="223.5" r="2.35"/>
<circle cx="1125.4" cy="233.5" r="2.35"/>
<circle cx="1210.1" cy="230.6" r="2.35"/>
<circle cx="1079.7" cy="238.9" r="2.35"/>
<circle cx="1066.2" cy="243.9" r="2.35"/>
<circle cx="1105.2" cy="246.4" r="2.35"/>
<circle cx="1082.0" cy="252.4" r="2.35"/>
<circle cx="1089.8" cy="252.8" r="2.35"/>
<circle cx="1176.8" cy="253.9" r="2.35"/>
<circle cx="1139.3" cy="262.5" r="2.35"/>
<circle cx="1149.0" cy="264.7" r="2.35"/>
<circle cx="1071.1" cy="265.1" r="2.35"/>
<circle cx="1080.8" cy="266.4" r="2.35"/>
<circle cx="1139.3" cy="271.5" r="2.35"/>
<circle cx="1149.0" cy="272.0" r="2.35"/>
<circle cx="1168.5" cy="269.8" r="2.35"/>
<circle cx="1227.0" cy="265.9" r="2.35"/>
<circle cx="1105.2" cy="274.3" r="2.35"/>
<circle cx="1192.9" cy="274.1" r="2.35"/>
<circle cx="1202.6" cy="272.6" r="2.35"/>
<circle cx="1080.8" cy="285.9" r="2.35"/>
<circle cx="1119.8" cy="283.8" r="2.35"/>
<circle cx="1188.0" cy="283.3" r="2.35"/>
<circle cx="1197.8" cy="282.5" r="2.35"/>
<circle cx="1139.3" cy="294.7" r="2.35"/>
<circle cx="1095.5" cy="300.9" r="2.35"/>
<circle cx="1105.2" cy="300.9" r="2.35"/>
<circle cx="1163.7" cy="297.9" r="2.35"/>
<circle cx="1183.1" cy="296.2" r="2.35"/>
<circle cx="1144.2" cy="310.5" r="2.35"/>
<circle cx="1173.4" cy="311.2" r="2.35"/>
<circle cx="1144.2" cy="318.1" r="2.35"/>
<circle cx="1153.9" cy="317.6" r="2.35"/>
<circle cx="1168.5" cy="319.6" r="2.35"/>
<circle cx="1158.8" cy="322.6" r="2.35"/>
<circle cx="1149.0" cy="395.1" r="2.35"/>
<circle cx="1638.6" cy="210.1" r="2.35"/>
<circle cx="1656.5" cy="208.9" r="2.35"/>
<circle cx="1674.4" cy="207.4" r="2.35"/>
<circle cx="1520.8" cy="214.8" r="2.35"/>
<circle cx="1555.7" cy="233.1" r="2.35"/>
<circle cx="1573.9" cy="234.2" r="2.35"/>
<circle cx="1622.5" cy="234.2" r="2.35"/>
<circle cx="1652.8" cy="232.2" r="2.35"/>
<circle cx="1677.1" cy="230.1" r="2.35"/>
<circle cx="1683.1" cy="229.5" r="2.35"/>
<circle cx="1513.8" cy="237.9" r="2.35"/>
<circle cx="1598.2" cy="242.6" r="2.35"/>
<circle cx="1645.1" cy="240.8" r="2.35"/>
<circle cx="1673.2" cy="238.7" r="2.35"/>
<circle cx="1515.7" cy="245.7" r="2.35"/>
<circle cx="1529.4" cy="247.0" r="2.35"/>
<circle cx="1543.2" cy="248.1" r="2.35"/>
<circle cx="1577.6" cy="250.3" r="2.35"/>
<circle cx="1598.2" cy="250.8" r="2.35"/>
<circle cx="1611.9" cy="250.5" r="2.35"/>
<circle cx="1625.7" cy="249.9" r="2.35"/>
<circle cx="1660.1" cy="247.6" r="2.35"/>
<circle cx="1504.0" cy="251.5" r="2.35"/>
<circle cx="1513.0" cy="252.0" r="2.35"/>
<circle cx="1521.8" cy="252.2" r="2.35"/>
<circle cx="1548.6" cy="254.1" r="2.35"/>
<circle cx="1557.6" cy="256.7" r="2.35"/>
<circle cx="1577.7" cy="260.8" r="2.35"/>
<circle cx="1584.6" cy="259.0" r="2.35"/>
<circle cx="1602.6" cy="258.8" r="2.35"/>
<circle cx="1665.4" cy="252.2" r="2.35"/>
<circle cx="1674.4" cy="252.2" r="2.35"/>
<circle cx="1598.1" cy="266.8" r="2.35"/>
<circle cx="1613.3" cy="269.3" r="2.35"/>
<circle cx="1598.1" cy="280.5" r="2.35"/>
<circle cx="1587.8" cy="287.6" r="2.35"/>
<circle cx="1598.1" cy="290.6" r="2.35"/>
<circle cx="1608.2" cy="290.6" r="2.35"/>
<circle cx="1867.2" cy="251.6" r="2.35"/>
<circle cx="1785.8" cy="259.0" r="2.35"/>
<circle cx="1846.9" cy="280.0" r="2.35"/>
<circle cx="1856.7" cy="279.7" r="2.35"/>
<circle cx="1748.9" cy="280.8" r="2.35"/>
<circle cx="1755.1" cy="289.8" r="2.35"/>
<circle cx="1768.4" cy="298.6" r="2.35"/>
<circle cx="1827.2" cy="301.6" r="2.35"/>
<circle cx="1876.3" cy="301.6" r="2.35"/>
<circle cx="1954.7" cy="296.9" r="2.35"/>
<circle cx="1836.6" cy="311.1" r="2.35"/>
<circle cx="1826.5" cy="317.1" r="2.35"/>
<circle cx="1846.7" cy="319.9" r="2.35"/>
<circle cx="1867.2" cy="317.5" r="2.35"/>
<circle cx="1907.6" cy="313.8" r="2.35"/>
<circle cx="1927.9" cy="313.4" r="2.35"/>
<circle cx="1811.3" cy="322.7" r="2.35"/>
<circle cx="1862.1" cy="326.9" r="2.35"/>
<circle cx="1872.2" cy="325.0" r="2.35"/>
<circle cx="1790.9" cy="328.7" r="2.35"/>
<circle cx="1811.3" cy="333.1" r="2.35"/>
<circle cx="1831.6" cy="334.6" r="2.35"/>
<circle cx="1841.7" cy="334.9" r="2.35"/>
<circle cx="1862.1" cy="336.1" r="2.35"/>
<circle cx="1882.3" cy="334.6" r="2.35"/>
<circle cx="1902.6" cy="332.5" r="2.35"/>
<circle cx="1846.7" cy="343.5" r="2.35"/>
<circle cx="1831.6" cy="347.5" r="2.35"/>
<circle cx="1862.1" cy="348.6" r="2.35"/>
<circle cx="1872.2" cy="347.5" r="2.35"/>
<circle cx="1877.3" cy="353.1" r="2.35"/>
<circle cx="1887.4" cy="352.9" r="2.35"/>
<circle cx="1846.7" cy="359.1" r="2.35"/>
<circle cx="1851.8" cy="365.3" r="2.35"/>
<circle cx="1821.4" cy="369.4" r="2.35"/>
<circle cx="1851.8" cy="374.5" r="2.35"/>
<circle cx="1872.2" cy="370.7" r="2.35"/>
<circle cx="1846.7" cy="383.1" r="2.35"/>
<circle cx="1851.8" cy="409.9" r="2.35"/>
<circle cx="1862.1" cy="405.6" r="2.35"/>
<circle cx="142.5" cy="712.3" r="2.35"/>
<circle cx="234.8" cy="733.1" r="2.35"/>
<circle cx="267.3" cy="738.0" r="2.35"/>
<circle cx="328.3" cy="733.1" r="2.35"/>
<circle cx="190.5" cy="745.4" r="2.35"/>
<circle cx="219.5" cy="754.1" r="2.35"/>
<circle cx="227.3" cy="754.3" r="2.35"/>
<circle cx="235.1" cy="754.3" r="2.35"/>
<circle cx="320.6" cy="748.6" r="2.35"/>
<circle cx="328.3" cy="747.7" r="2.35"/>
<circle cx="149.0" cy="757.0" r="2.35"/>
<circle cx="156.5" cy="757.6" r="2.35"/>
<circle cx="201.3" cy="760.5" r="2.35"/>
<circle cx="261.1" cy="760.5" r="2.35"/>
<circle cx="283.5" cy="759.3" r="2.35"/>
<circle cx="298.5" cy="758.2" r="2.35"/>
<circle cx="328.3" cy="755.6" r="2.35"/>
<circle cx="142.8" cy="762.4" r="2.35"/>
<circle cx="178.3" cy="763.9" r="2.35"/>
<circle cx="195.9" cy="765.7" r="2.35"/>
<circle cx="213.5" cy="767.0" r="2.35"/>
<circle cx="240.1" cy="768.7" r="2.35"/>
<circle cx="236.2" cy="775.3" r="2.35"/>
<circle cx="245.7" cy="774.0" r="2.35"/>
<circle cx="255.3" cy="773.0" r="2.35"/>
<circle cx="197.6" cy="780.9" r="2.35"/>
<circle cx="207.3" cy="782.4" r="2.35"/>
<circle cx="212.0" cy="786.9" r="2.35"/>
<circle cx="216.9" cy="783.3" r="2.35"/>
<circle cx="226.4" cy="783.7" r="2.35"/>
<circle cx="221.7" cy="788.4" r="2.35"/>
<circle cx="260.1" cy="786.1" r="2.35"/>
<circle cx="264.8" cy="780.5" r="2.35"/>
<circle cx="231.3" cy="791.0" r="2.35"/>
<circle cx="240.8" cy="790.6" r="2.35"/>
<circle cx="221.7" cy="795.0" r="2.35"/>
<circle cx="240.8" cy="797.6" r="2.35"/>
<circle cx="231.3" cy="808.6" r="2.35"/>
<circle cx="539.9" cy="750.8" r="2.35"/>
<circle cx="470.5" cy="762.8" r="2.35"/>
<circle cx="391.1" cy="772.0" r="2.35"/>
<circle cx="402.9" cy="773.1" r="2.35"/>
<circle cx="550.0" cy="772.0" r="2.35"/>
<circle cx="405.8" cy="781.1" r="2.35"/>
<circle cx="430.1" cy="782.9" r="2.35"/>
<circle cx="511.0" cy="782.9" r="2.35"/>
<circle cx="385.2" cy="786.5" r="2.35"/>
<circle cx="438.2" cy="790.7" r="2.35"/>
<circle cx="467.6" cy="791.8" r="2.35"/>
<circle cx="485.2" cy="791.5" r="2.35"/>
<circle cx="502.9" cy="790.7" r="2.35"/>
<circle cx="561.7" cy="785.9" r="2.35"/>
<circle cx="384.0" cy="792.6" r="2.35"/>
<circle cx="403.3" cy="793.7" r="2.35"/>
<circle cx="451.2" cy="799.0" r="2.35"/>
<circle cx="470.5" cy="799.5" r="2.35"/>
<circle cx="489.8" cy="799.0" r="2.35"/>
<circle cx="518.5" cy="794.5" r="2.35"/>
<circle cx="528.2" cy="794.5" r="2.35"/>
<circle cx="557.1" cy="793.2" r="2.35"/>
<circle cx="521.1" cy="804.0" r="2.35"/>
<circle cx="441.7" cy="809.8" r="2.35"/>
<circle cx="480.1" cy="813.9" r="2.35"/>
<circle cx="499.4" cy="810.2" r="2.35"/>
<circle cx="461.0" cy="820.1" r="2.35"/>
<circle cx="470.5" cy="822.9" r="2.35"/>
<circle cx="480.1" cy="820.5" r="2.35"/>
<circle cx="489.8" cy="819.8" r="2.35"/>
<circle cx="480.1" cy="826.3" r="2.35"/>
<circle cx="489.8" cy="825.9" r="2.35"/>
<circle cx="470.5" cy="831.0" r="2.35"/>
<circle cx="446.6" cy="834.7" r="2.35"/>
<circle cx="456.1" cy="835.9" r="2.35"/>
<circle cx="465.7" cy="840.6" r="2.35"/>
<circle cx="475.4" cy="837.0" r="2.35"/>
<circle cx="494.5" cy="833.6" r="2.35"/>
<circle cx="470.5" cy="848.6" r="2.35"/>
<circle cx="470.5" cy="862.9" r="2.35"/>
<circle cx="955.8" cy="759.8" r="2.35"/>
<circle cx="869.3" cy="768.7" r="2.35"/>
<circle cx="907.7" cy="771.8" r="2.35"/>
<circle cx="917.4" cy="770.3" r="2.35"/>
<circle cx="927.0" cy="769.2" r="2.35"/>
<circle cx="859.7" cy="773.5" r="2.35"/>
<circle cx="878.8" cy="774.5" r="2.35"/>
<circle cx="898.1" cy="779.1" r="2.35"/>
<circle cx="907.7" cy="779.7" r="2.35"/>
<circle cx="917.4" cy="779.1" r="2.35"/>
<circle cx="826.0" cy="781.0" r="2.35"/>
<circle cx="845.3" cy="783.3" r="2.35"/>
<circle cx="854.8" cy="783.3" r="2.35"/>
<circle cx="864.4" cy="783.3" r="2.35"/>
<circle cx="883.7" cy="784.6" r="2.35"/>
<circle cx="903.0" cy="786.1" r="2.35"/>
<circle cx="912.5" cy="787.8" r="2.35"/>
<circle cx="931.8" cy="785.5" r="2.35"/>
<circle cx="941.4" cy="784.6" r="2.35"/>
<circle cx="960.5" cy="783.3" r="2.35"/>
<circle cx="979.8" cy="783.3" r="2.35"/>
<circle cx="869.3" cy="790.8" r="2.35"/>
<circle cx="888.6" cy="793.4" r="2.35"/>
<circle cx="898.1" cy="794.5" r="2.35"/>
<circle cx="955.8" cy="790.2" r="2.35"/>
<circle cx="883.7" cy="797.7" r="2.35"/>
<circle cx="950.9" cy="796.6" r="2.35"/>
<circle cx="960.5" cy="796.2" r="2.35"/>
<circle cx="854.8" cy="802.8" r="2.35"/>
<circle cx="874.1" cy="804.1" r="2.35"/>
<circle cx="883.7" cy="804.4" r="2.35"/>
<circle cx="903.0" cy="807.3" r="2.35"/>
<circle cx="912.5" cy="809.9" r="2.35"/>
<circle cx="960.5" cy="803.9" r="2.35"/>
<circle cx="922.1" cy="823.8" r="2.35"/>
<circle cx="931.8" cy="820.3" r="2.35"/>
<circle cx="922.1" cy="830.6" r="2.35"/>
<circle cx="912.5" cy="834.7" r="2.35"/>
<circle cx="907.7" cy="840.3" r="2.35"/>
<circle cx="1224.7" cy="782.6" r="2.35"/>
<circle cx="1200.5" cy="806.0" r="2.35"/>
<circle cx="1117.1" cy="814.6" r="2.35"/>
<circle cx="1125.9" cy="815.4" r="2.35"/>
<circle cx="1196.9" cy="814.1" r="2.35"/>
<circle cx="1214.6" cy="812.8" r="2.35"/>
<circle cx="1241.2" cy="810.9" r="2.35"/>
<circle cx="1094.8" cy="818.6" r="2.35"/>
<circle cx="1114.1" cy="821.8" r="2.35"/>
<circle cx="1133.2" cy="822.9" r="2.35"/>
<circle cx="1190.9" cy="821.8" r="2.35"/>
<circle cx="1200.5" cy="819.9" r="2.35"/>
<circle cx="1118.8" cy="829.7" r="2.35"/>
<circle cx="1128.6" cy="830.3" r="2.35"/>
<circle cx="1147.7" cy="833.5" r="2.35"/>
<circle cx="1195.8" cy="828.0" r="2.35"/>
<circle cx="1104.4" cy="834.2" r="2.35"/>
<circle cx="1114.1" cy="836.1" r="2.35"/>
<circle cx="1133.2" cy="837.4" r="2.35"/>
<circle cx="1104.4" cy="840.6" r="2.35"/>
<circle cx="1143.0" cy="844.5" r="2.35"/>
<circle cx="1171.8" cy="844.0" r="2.35"/>
<circle cx="1181.4" cy="843.6" r="2.35"/>
<circle cx="1190.9" cy="842.8" r="2.35"/>
<circle cx="1200.5" cy="840.8" r="2.35"/>
<circle cx="1138.1" cy="853.9" r="2.35"/>
<circle cx="1147.7" cy="855.4" r="2.35"/>
<circle cx="1114.1" cy="855.6" r="2.35"/>
<circle cx="1143.0" cy="860.1" r="2.35"/>
<circle cx="1181.4" cy="857.5" r="2.35"/>
<circle cx="1190.9" cy="856.0" r="2.35"/>
<circle cx="1138.1" cy="868.5" r="2.35"/>
<circle cx="1157.4" cy="870.6" r="2.35"/>
<circle cx="1138.1" cy="876.0" r="2.35"/>
<circle cx="1157.4" cy="876.8" r="2.35"/>
<circle cx="1147.7" cy="880.3" r="2.35"/>
<circle cx="1143.0" cy="886.7" r="2.35"/>
<circle cx="1162.1" cy="890.1" r="2.35"/>
<circle cx="1152.5" cy="902.2" r="2.35"/>
<circle cx="1152.5" cy="909.0" r="2.35"/>
</g>
<g class="x">
<circle cx="836.1" cy="168.1" r="2.35"/>
<circle cx="927.8" cy="178.4" r="2.35"/>
<circle cx="923.3" cy="187.0" r="2.35"/>
<circle cx="934.9" cy="186.4" r="2.35"/>
<circle cx="946.6" cy="185.7" r="2.35"/>
<circle cx="981.5" cy="182.9" r="2.35"/>
<circle cx="812.8" cy="188.5" r="2.35"/>
<circle cx="914.8" cy="193.8" r="2.35"/>
<circle cx="920.8" cy="193.7" r="2.35"/>
<circle cx="956.8" cy="191.9" r="2.35"/>
<circle cx="806.8" cy="195.3" r="2.35"/>
<circle cx="853.0" cy="199.8" r="2.35"/>
<circle cx="872.8" cy="201.2" r="2.35"/>
<circle cx="886.0" cy="201.9" r="2.35"/>
<circle cx="806.8" cy="203.0" r="2.35"/>
<circle cx="898.7" cy="209.2" r="2.35"/>
<circle cx="962.4" cy="206.7" r="2.35"/>
<circle cx="914.5" cy="217.0" r="2.35"/>
<circle cx="910.4" cy="224.9" r="2.35"/>
<circle cx="929.9" cy="224.1" r="2.35"/>
<circle cx="925.0" cy="229.6" r="2.35"/>
<circle cx="905.5" cy="239.3" r="2.35"/>
<circle cx="1163.7" cy="212.7" r="2.35"/>
<circle cx="1212.4" cy="209.5" r="2.35"/>
<circle cx="1089.8" cy="224.3" r="2.35"/>
<circle cx="1129.2" cy="227.1" r="2.35"/>
<circle cx="1208.6" cy="224.5" r="2.35"/>
<circle cx="1078.6" cy="230.5" r="2.35"/>
<circle cx="1134.8" cy="234.8" r="2.35"/>
<circle cx="1229.2" cy="230.3" r="2.35"/>
<circle cx="1089.8" cy="239.3" r="2.35"/>
<circle cx="1134.4" cy="248.8" r="2.35"/>
<circle cx="1161.0" cy="255.6" r="2.35"/>
<circle cx="1216.1" cy="251.3" r="2.35"/>
<circle cx="1100.3" cy="266.8" r="2.35"/>
<circle cx="1197.8" cy="267.7" r="2.35"/>
<circle cx="1183.1" cy="274.9" r="2.35"/>
<circle cx="1149.0" cy="285.7" r="2.35"/>
<circle cx="1207.5" cy="281.4" r="2.35"/>
<circle cx="1168.5" cy="291.2" r="2.35"/>
<circle cx="1144.2" cy="299.2" r="2.35"/>
<circle cx="1134.4" cy="316.6" r="2.35"/>
<circle cx="1163.7" cy="316.1" r="2.35"/>
<circle cx="1168.5" cy="338.0" r="2.35"/>
<circle cx="1611.1" cy="219.1" r="2.35"/>
<circle cx="1630.4" cy="218.2" r="2.35"/>
<circle cx="1645.6" cy="224.2" r="2.35"/>
<circle cx="1656.7" cy="223.5" r="2.35"/>
<circle cx="1501.1" cy="228.3" r="2.35"/>
<circle cx="1519.3" cy="230.1" r="2.35"/>
<circle cx="1567.9" cy="233.9" r="2.35"/>
<circle cx="1598.2" cy="234.9" r="2.35"/>
<circle cx="1604.3" cy="234.8" r="2.35"/>
<circle cx="1695.3" cy="228.3" r="2.35"/>
<circle cx="1523.2" cy="238.7" r="2.35"/>
<circle cx="1532.6" cy="239.5" r="2.35"/>
<circle cx="1635.7" cy="241.3" r="2.35"/>
<circle cx="1701.3" cy="236.2" r="2.35"/>
<circle cx="1536.3" cy="247.6" r="2.35"/>
<circle cx="1591.3" cy="250.7" r="2.35"/>
<circle cx="1618.8" cy="250.3" r="2.35"/>
<circle cx="1495.0" cy="251.5" r="2.35"/>
<circle cx="1575.6" cy="257.8" r="2.35"/>
<circle cx="1647.4" cy="253.2" r="2.35"/>
<circle cx="1582.7" cy="269.3" r="2.35"/>
<circle cx="1603.2" cy="272.7" r="2.35"/>
<circle cx="1826.5" cy="260.9" r="2.35"/>
<circle cx="1872.2" cy="269.2" r="2.35"/>
<circle cx="1827.2" cy="279.1" r="2.35"/>
<circle cx="1886.1" cy="279.1" r="2.35"/>
<circle cx="1954.7" cy="273.3" r="2.35"/>
<circle cx="1790.0" cy="284.5" r="2.35"/>
<circle cx="1837.0" cy="302.5" r="2.35"/>
<circle cx="1905.8" cy="300.1" r="2.35"/>
<circle cx="1785.8" cy="306.8" r="2.35"/>
<circle cx="1887.4" cy="308.7" r="2.35"/>
<circle cx="1897.5" cy="307.8" r="2.35"/>
<circle cx="1927.9" cy="304.8" r="2.35"/>
<circle cx="1816.4" cy="316.8" r="2.35"/>
<circle cx="1831.6" cy="325.0" r="2.35"/>
<circle cx="1851.8" cy="327.4" r="2.35"/>
<circle cx="1902.6" cy="321.8" r="2.35"/>
<circle cx="1892.4" cy="333.6" r="2.35"/>
<circle cx="1836.6" cy="342.0" r="2.35"/>
<circle cx="1882.3" cy="369.8" r="2.35"/>
<circle cx="1892.4" cy="369.2" r="2.35"/>
<circle cx="1856.8" cy="380.1" r="2.35"/>
<circle cx="1841.7" cy="405.6" r="2.35"/>
<circle cx="182.6" cy="708.7" r="2.35"/>
<circle cx="227.0" cy="717.7" r="2.35"/>
<circle cx="150.7" cy="720.5" r="2.35"/>
<circle cx="206.0" cy="732.3" r="2.35"/>
<circle cx="299.6" cy="729.3" r="2.35"/>
<circle cx="328.3" cy="726.4" r="2.35"/>
<circle cx="217.3" cy="739.0" r="2.35"/>
<circle cx="283.9" cy="737.0" r="2.35"/>
<circle cx="317.2" cy="734.2" r="2.35"/>
<circle cx="196.7" cy="745.7" r="2.35"/>
<circle cx="303.3" cy="743.3" r="2.35"/>
<circle cx="141.5" cy="756.3" r="2.35"/>
<circle cx="169.3" cy="763.7" r="2.35"/>
<circle cx="231.3" cy="768.7" r="2.35"/>
<circle cx="275.3" cy="764.0" r="2.35"/>
<circle cx="188.0" cy="771.2" r="2.35"/>
<circle cx="197.6" cy="773.0" r="2.35"/>
<circle cx="207.3" cy="774.0" r="2.35"/>
<circle cx="216.9" cy="775.1" r="2.35"/>
<circle cx="202.4" cy="784.5" r="2.35"/>
<circle cx="236.2" cy="783.3" r="2.35"/>
<circle cx="255.3" cy="781.8" r="2.35"/>
<circle cx="451.2" cy="731.7" r="2.35"/>
<circle cx="480.1" cy="739.9" r="2.35"/>
<circle cx="491.3" cy="753.7" r="2.35"/>
<circle cx="400.0" cy="758.4" r="2.35"/>
<circle cx="395.9" cy="765.2" r="2.35"/>
<circle cx="492.9" cy="768.9" r="2.35"/>
<circle cx="560.1" cy="763.8" r="2.35"/>
<circle cx="544.1" cy="772.6" r="2.35"/>
<circle cx="450.0" cy="791.3" r="2.35"/>
<circle cx="461.7" cy="791.7" r="2.35"/>
<circle cx="497.0" cy="791.0" r="2.35"/>
<circle cx="532.3" cy="788.7" r="2.35"/>
<circle cx="567.6" cy="785.3" r="2.35"/>
<circle cx="393.7" cy="793.2" r="2.35"/>
<circle cx="410.2" cy="804.2" r="2.35"/>
<circle cx="447.3" cy="805.9" r="2.35"/>
<circle cx="465.7" cy="807.6" r="2.35"/>
<circle cx="475.0" cy="807.4" r="2.35"/>
<circle cx="539.9" cy="803.8" r="2.35"/>
<circle cx="461.0" cy="812.8" r="2.35"/>
<circle cx="499.4" cy="819.2" r="2.35"/>
<circle cx="451.2" cy="824.4" r="2.35"/>
<circle cx="815.1" cy="721.1" r="2.35"/>
<circle cx="870.8" cy="733.2" r="2.35"/>
<circle cx="889.3" cy="734.0" r="2.35"/>
<circle cx="1000.8" cy="728.2" r="2.35"/>
<circle cx="959.6" cy="746.9" r="2.35"/>
<circle cx="1002.9" cy="742.8" r="2.35"/>
<circle cx="873.4" cy="756.1" r="2.35"/>
<circle cx="912.5" cy="757.8" r="2.35"/>
<circle cx="983.9" cy="753.7" r="2.35"/>
<circle cx="936.5" cy="760.4" r="2.35"/>
<circle cx="974.9" cy="766.8" r="2.35"/>
<circle cx="859.7" cy="790.2" r="2.35"/>
<circle cx="907.7" cy="795.3" r="2.35"/>
<circle cx="946.3" cy="791.0" r="2.35"/>
<circle cx="864.4" cy="795.6" r="2.35"/>
<circle cx="893.2" cy="798.8" r="2.35"/>
<circle cx="922.1" cy="807.6" r="2.35"/>
<circle cx="941.4" cy="805.2" r="2.35"/>
<circle cx="907.7" cy="817.1" r="2.35"/>
<circle cx="903.0" cy="822.0" r="2.35"/>
<circle cx="912.5" cy="847.1" r="2.35"/>
<circle cx="1176.5" cy="748.7" r="2.35"/>
<circle cx="1128.6" cy="753.9" r="2.35"/>
<circle cx="1152.5" cy="773.0" r="2.35"/>
<circle cx="1080.4" cy="774.5" r="2.35"/>
<circle cx="1186.3" cy="777.5" r="2.35"/>
<circle cx="1104.4" cy="805.1" r="2.35"/>
<circle cx="1055.1" cy="810.1" r="2.35"/>
<circle cx="1179.1" cy="815.4" r="2.35"/>
<circle cx="1075.7" cy="816.7" r="2.35"/>
<circle cx="1104.4" cy="819.3" r="2.35"/>
<circle cx="1123.7" cy="822.5" r="2.35"/>
<circle cx="1152.5" cy="824.6" r="2.35"/>
<circle cx="1181.4" cy="822.5" r="2.35"/>
<circle cx="1176.5" cy="830.1" r="2.35"/>
<circle cx="1123.7" cy="836.7" r="2.35"/>
<circle cx="1162.1" cy="839.3" r="2.35"/>
<circle cx="1162.1" cy="846.2" r="2.35"/>
<circle cx="1171.8" cy="859.3" r="2.35"/>
<circle cx="1176.5" cy="863.3" r="2.35"/>
<circle cx="1147.7" cy="870.4" r="2.35"/>
<circle cx="1152.5" cy="886.1" r="2.35"/>
<circle cx="1152.5" cy="893.6" r="2.35"/>
</g>
<g stroke="#231f20" stroke-width=".95">
<line x1="834.6" y1="166.6" x2="837.7" y2="169.7"/><line x1="834.6" y1="169.7" x2="837.7" y2="166.6"/>
<line x1="926.3" y1="176.9" x2="929.4" y2="180.0"/><line x1="926.3" y1="180.0" x2="929.4" y2="176.9"/>
<line x1="921.7" y1="185.4" x2="924.8" y2="188.5"/><line x1="921.7" y1="188.5" x2="924.8" y2="185.4"/>
<line x1="933.4" y1="184.9" x2="936.5" y2="188.0"/><line x1="933.4" y1="188.0" x2="936.5" y2="184.9"/>
<line x1="945.0" y1="184.2" x2="948.1" y2="187.3"/><line x1="945.0" y1="187.3" x2="948.1" y2="184.2"/>
<line x1="980.0" y1="181.3" x2="983.1" y2="184.4"/><line x1="980.0" y1="184.4" x2="983.1" y2="181.3"/>
<line x1="811.2" y1="187.0" x2="814.3" y2="190.1"/><line x1="811.2" y1="190.1" x2="814.3" y2="187.0"/>
<line x1="913.3" y1="192.3" x2="916.4" y2="195.4"/><line x1="913.3" y1="195.4" x2="916.4" y2="192.3"/>
<line x1="919.3" y1="192.1" x2="922.4" y2="195.2"/><line x1="919.3" y1="195.2" x2="922.4" y2="192.1"/>
<line x1="955.3" y1="190.3" x2="958.4" y2="193.4"/><line x1="955.3" y1="193.4" x2="958.4" y2="190.3"/>
<line x1="805.2" y1="193.7" x2="808.3" y2="196.8"/><line x1="805.2" y1="196.8" x2="808.3" y2="193.7"/>
<line x1="851.5" y1="198.2" x2="854.6" y2="201.3"/><line x1="851.5" y1="201.3" x2="854.6" y2="198.2"/>
<line x1="871.3" y1="199.6" x2="874.4" y2="202.7"/><line x1="871.3" y1="202.7" x2="874.4" y2="199.6"/>
<line x1="884.5" y1="200.3" x2="887.6" y2="203.4"/><line x1="884.5" y1="203.4" x2="887.6" y2="200.3"/>
<line x1="805.2" y1="201.4" x2="808.3" y2="204.5"/><line x1="805.2" y1="204.5" x2="808.3" y2="201.4"/>
<line x1="897.2" y1="207.7" x2="900.3" y2="210.8"/><line x1="897.2" y1="210.8" x2="900.3" y2="207.7"/>
<line x1="960.9" y1="205.2" x2="964.0" y2="208.3"/><line x1="960.9" y1="208.3" x2="964.0" y2="205.2"/>
<line x1="913.0" y1="215.5" x2="916.1" y2="218.6"/><line x1="913.0" y1="218.6" x2="916.1" y2="215.5"/>
<line x1="908.9" y1="223.3" x2="912.0" y2="226.4"/><line x1="908.9" y1="226.4" x2="912.0" y2="223.3"/>
<line x1="928.3" y1="222.6" x2="931.4" y2="225.7"/><line x1="928.3" y1="225.7" x2="931.4" y2="222.6"/>
<line x1="923.5" y1="228.0" x2="926.6" y2="231.1"/><line x1="923.5" y1="231.1" x2="926.6" y2="228.0"/>
<line x1="904.0" y1="237.8" x2="907.1" y2="240.9"/><line x1="904.0" y1="240.9" x2="907.1" y2="237.8"/>
<line x1="1162.1" y1="211.1" x2="1165.2" y2="214.2"/><line x1="1162.1" y1="214.2" x2="1165.2" y2="211.1"/>
<line x1="1210.8" y1="207.9" x2="1213.9" y2="211.0"/><line x1="1210.8" y1="211.0" x2="1213.9" y2="207.9"/>
<line x1="1088.3" y1="222.7" x2="1091.4" y2="225.8"/><line x1="1088.3" y1="225.8" x2="1091.4" y2="222.7"/>
<line x1="1127.6" y1="225.5" x2="1130.7" y2="228.6"/><line x1="1127.6" y1="228.6" x2="1130.7" y2="225.5"/>
<line x1="1207.1" y1="222.9" x2="1210.2" y2="226.0"/><line x1="1207.1" y1="226.0" x2="1210.2" y2="222.9"/>
<line x1="1077.0" y1="228.9" x2="1080.1" y2="232.0"/><line x1="1077.0" y1="232.0" x2="1080.1" y2="228.9"/>
<line x1="1133.2" y1="233.2" x2="1136.3" y2="236.3"/><line x1="1133.2" y1="236.3" x2="1136.3" y2="233.2"/>
<line x1="1227.7" y1="228.7" x2="1230.8" y2="231.8"/><line x1="1227.7" y1="231.8" x2="1230.8" y2="228.7"/>
<line x1="1088.3" y1="237.7" x2="1091.4" y2="240.8"/><line x1="1088.3" y1="240.8" x2="1091.4" y2="237.7"/>
<line x1="1132.9" y1="247.3" x2="1136.0" y2="250.4"/><line x1="1132.9" y1="250.4" x2="1136.0" y2="247.3"/>
<line x1="1159.5" y1="254.0" x2="1162.6" y2="257.1"/><line x1="1159.5" y1="257.1" x2="1162.6" y2="254.0"/>
<line x1="1214.6" y1="249.7" x2="1217.7" y2="252.8"/><line x1="1214.6" y1="252.8" x2="1217.7" y2="249.7"/>
<line x1="1098.8" y1="265.2" x2="1101.9" y2="268.3"/><line x1="1098.8" y1="268.3" x2="1101.9" y2="265.2"/>
<line x1="1196.2" y1="266.2" x2="1199.3" y2="269.3"/><line x1="1196.2" y1="269.3" x2="1199.3" y2="266.2"/>
<line x1="1181.6" y1="273.3" x2="1184.7" y2="276.4"/><line x1="1181.6" y1="276.4" x2="1184.7" y2="273.3"/>
<line x1="1147.5" y1="284.2" x2="1150.6" y2="287.3"/><line x1="1147.5" y1="287.3" x2="1150.6" y2="284.2"/>
<line x1="1205.9" y1="279.9" x2="1209.0" y2="283.0"/><line x1="1205.9" y1="283.0" x2="1209.0" y2="279.9"/>
<line x1="1167.0" y1="289.6" x2="1170.1" y2="292.7"/><line x1="1167.0" y1="292.7" x2="1170.1" y2="289.6"/>
<line x1="1142.6" y1="297.7" x2="1145.7" y2="300.8"/><line x1="1142.6" y1="300.8" x2="1145.7" y2="297.7"/>
<line x1="1132.9" y1="315.1" x2="1136.0" y2="318.2"/><line x1="1132.9" y1="318.2" x2="1136.0" y2="315.1"/>
<line x1="1162.1" y1="314.5" x2="1165.2" y2="317.6"/><line x1="1162.1" y1="317.6" x2="1165.2" y2="314.5"/>
<line x1="1167.0" y1="336.4" x2="1170.1" y2="339.5"/><line x1="1167.0" y1="339.5" x2="1170.1" y2="336.4"/>
<line x1="1609.5" y1="217.5" x2="1612.6" y2="220.6"/><line x1="1609.5" y1="220.6" x2="1612.6" y2="217.5"/>
<line x1="1628.9" y1="216.7" x2="1632.0" y2="219.8"/><line x1="1628.9" y1="219.8" x2="1632.0" y2="216.7"/>
<line x1="1644.0" y1="222.7" x2="1647.1" y2="225.8"/><line x1="1644.0" y1="225.8" x2="1647.1" y2="222.7"/>
<line x1="1655.2" y1="222.0" x2="1658.3" y2="225.1"/><line x1="1655.2" y1="225.1" x2="1658.3" y2="222.0"/>
<line x1="1499.6" y1="226.7" x2="1502.7" y2="229.8"/><line x1="1499.6" y1="229.8" x2="1502.7" y2="226.7"/>
<line x1="1517.8" y1="228.6" x2="1520.9" y2="231.7"/><line x1="1517.8" y1="231.7" x2="1520.9" y2="228.6"/>
<line x1="1566.3" y1="232.3" x2="1569.4" y2="235.4"/><line x1="1566.3" y1="235.4" x2="1569.4" y2="232.3"/>
<line x1="1596.6" y1="233.3" x2="1599.7" y2="236.4"/><line x1="1596.6" y1="236.4" x2="1599.7" y2="233.3"/>
<line x1="1602.7" y1="233.3" x2="1605.8" y2="236.4"/><line x1="1602.7" y1="236.4" x2="1605.8" y2="233.3"/>
<line x1="1693.7" y1="226.7" x2="1696.8" y2="229.8"/><line x1="1693.7" y1="229.8" x2="1696.8" y2="226.7"/>
<line x1="1521.6" y1="237.2" x2="1524.7" y2="240.3"/><line x1="1521.6" y1="240.3" x2="1524.7" y2="237.2"/>
<line x1="1531.0" y1="237.9" x2="1534.1" y2="241.0"/><line x1="1531.0" y1="241.0" x2="1534.1" y2="237.9"/>
<line x1="1634.2" y1="239.8" x2="1637.3" y2="242.9"/><line x1="1634.2" y1="242.9" x2="1637.3" y2="239.8"/>
<line x1="1699.8" y1="234.6" x2="1702.9" y2="237.7"/><line x1="1699.8" y1="237.7" x2="1702.9" y2="234.6"/>
<line x1="1534.8" y1="246.0" x2="1537.9" y2="249.1"/><line x1="1534.8" y1="249.1" x2="1537.9" y2="246.0"/>
<line x1="1589.8" y1="249.2" x2="1592.9" y2="252.3"/><line x1="1589.8" y1="252.3" x2="1592.9" y2="249.2"/>
<line x1="1617.3" y1="248.7" x2="1620.4" y2="251.8"/><line x1="1617.3" y1="251.8" x2="1620.4" y2="248.7"/>
<line x1="1493.5" y1="249.9" x2="1496.6" y2="253.0"/><line x1="1493.5" y1="253.0" x2="1496.6" y2="249.9"/>
<line x1="1574.1" y1="256.3" x2="1577.2" y2="259.4"/><line x1="1574.1" y1="259.4" x2="1577.2" y2="256.3"/>
<line x1="1645.8" y1="251.6" x2="1648.9" y2="254.7"/><line x1="1645.8" y1="254.7" x2="1648.9" y2="251.6"/>
<line x1="1581.2" y1="267.7" x2="1584.3" y2="270.8"/><line x1="1581.2" y1="270.8" x2="1584.3" y2="267.7"/>
<line x1="1601.6" y1="271.1" x2="1604.7" y2="274.2"/><line x1="1601.6" y1="274.2" x2="1604.7" y2="271.1"/>
<line x1="1824.9" y1="259.4" x2="1828.0" y2="262.5"/><line x1="1824.9" y1="262.5" x2="1828.0" y2="259.4"/>
<line x1="1870.7" y1="267.6" x2="1873.8" y2="270.7"/><line x1="1870.7" y1="270.7" x2="1873.8" y2="267.6"/>
<line x1="1825.7" y1="277.5" x2="1828.8" y2="280.6"/><line x1="1825.7" y1="280.6" x2="1828.8" y2="277.5"/>
<line x1="1884.5" y1="277.5" x2="1887.6" y2="280.6"/><line x1="1884.5" y1="280.6" x2="1887.6" y2="277.5"/>
<line x1="1953.1" y1="271.7" x2="1956.2" y2="274.8"/><line x1="1953.1" y1="274.8" x2="1956.2" y2="271.7"/>
<line x1="1788.4" y1="283.0" x2="1791.5" y2="286.1"/><line x1="1788.4" y1="286.1" x2="1791.5" y2="283.0"/>
<line x1="1835.4" y1="301.0" x2="1838.5" y2="304.1"/><line x1="1835.4" y1="304.1" x2="1838.5" y2="301.0"/>
<line x1="1904.2" y1="298.5" x2="1907.3" y2="301.6"/><line x1="1904.2" y1="301.6" x2="1907.3" y2="298.5"/>
<line x1="1784.3" y1="305.3" x2="1787.4" y2="308.4"/><line x1="1784.3" y1="308.4" x2="1787.4" y2="305.3"/>
<line x1="1885.8" y1="307.1" x2="1888.9" y2="310.2"/><line x1="1885.8" y1="310.2" x2="1888.9" y2="307.1"/>
<line x1="1896.0" y1="306.2" x2="1899.1" y2="309.3"/><line x1="1896.0" y1="309.3" x2="1899.1" y2="306.2"/>
<line x1="1926.3" y1="303.2" x2="1929.4" y2="306.3"/><line x1="1926.3" y1="306.3" x2="1929.4" y2="303.2"/>
<line x1="1814.8" y1="315.2" x2="1817.9" y2="318.3"/><line x1="1814.8" y1="318.3" x2="1817.9" y2="315.2"/>
<line x1="1830.0" y1="323.4" x2="1833.1" y2="326.5"/><line x1="1830.0" y1="326.5" x2="1833.1" y2="323.4"/>
<line x1="1850.2" y1="325.9" x2="1853.3" y2="329.0"/><line x1="1850.2" y1="329.0" x2="1853.3" y2="325.9"/>
<line x1="1901.0" y1="320.3" x2="1904.1" y2="323.4"/><line x1="1901.0" y1="323.4" x2="1904.1" y2="320.3"/>
<line x1="1890.9" y1="332.1" x2="1894.0" y2="335.2"/><line x1="1890.9" y1="335.2" x2="1894.0" y2="332.1"/>
<line x1="1835.1" y1="340.5" x2="1838.2" y2="343.6"/><line x1="1835.1" y1="343.6" x2="1838.2" y2="340.5"/>
<line x1="1880.8" y1="368.2" x2="1883.9" y2="371.3"/><line x1="1880.8" y1="371.3" x2="1883.9" y2="368.2"/>
<line x1="1890.9" y1="367.7" x2="1894.0" y2="370.8"/><line x1="1890.9" y1="370.8" x2="1894.0" y2="367.7"/>
<line x1="1855.3" y1="378.5" x2="1858.4" y2="381.6"/><line x1="1855.3" y1="381.6" x2="1858.4" y2="378.5"/>
<line x1="1840.1" y1="404.0" x2="1843.2" y2="407.1"/><line x1="1840.1" y1="407.1" x2="1843.2" y2="404.0"/>
<line x1="181.1" y1="707.1" x2="184.2" y2="710.2"/><line x1="181.1" y1="710.2" x2="184.2" y2="707.1"/>
<line x1="225.4" y1="716.2" x2="228.5" y2="719.3"/><line x1="225.4" y1="719.3" x2="228.5" y2="716.2"/>
<line x1="149.1" y1="719.0" x2="152.2" y2="722.1"/><line x1="149.1" y1="722.1" x2="152.2" y2="719.0"/>
<line x1="204.5" y1="730.8" x2="207.6" y2="733.9"/><line x1="204.5" y1="733.9" x2="207.6" y2="730.8"/>
<line x1="298.0" y1="727.7" x2="301.1" y2="730.8"/><line x1="298.0" y1="730.8" x2="301.1" y2="727.7"/>
<line x1="326.8" y1="724.8" x2="329.9" y2="727.9"/><line x1="326.8" y1="727.9" x2="329.9" y2="724.8"/>
<line x1="215.8" y1="737.5" x2="218.9" y2="740.6"/><line x1="215.8" y1="740.6" x2="218.9" y2="737.5"/>
<line x1="282.4" y1="735.4" x2="285.5" y2="738.5"/><line x1="282.4" y1="738.5" x2="285.5" y2="735.4"/>
<line x1="315.7" y1="732.7" x2="318.8" y2="735.8"/><line x1="315.7" y1="735.8" x2="318.8" y2="732.7"/>
<line x1="195.2" y1="744.2" x2="198.3" y2="747.3"/><line x1="195.2" y1="747.3" x2="198.3" y2="744.2"/>
<line x1="301.7" y1="741.8" x2="304.8" y2="744.9"/><line x1="301.7" y1="744.9" x2="304.8" y2="741.8"/>
<line x1="140.0" y1="754.8" x2="143.1" y2="757.9"/><line x1="140.0" y1="757.9" x2="143.1" y2="754.8"/>
<line x1="167.7" y1="762.1" x2="170.8" y2="765.2"/><line x1="167.7" y1="765.2" x2="170.8" y2="762.1"/>
<line x1="229.7" y1="767.2" x2="232.8" y2="770.3"/><line x1="229.7" y1="770.3" x2="232.8" y2="767.2"/>
<line x1="273.8" y1="762.5" x2="276.9" y2="765.6"/><line x1="273.8" y1="765.6" x2="276.9" y2="762.5"/>
<line x1="186.5" y1="769.6" x2="189.6" y2="772.7"/><line x1="186.5" y1="772.7" x2="189.6" y2="769.6"/>
<line x1="196.0" y1="771.5" x2="199.1" y2="774.6"/><line x1="196.0" y1="774.6" x2="199.1" y2="771.5"/>
<line x1="205.8" y1="772.4" x2="208.9" y2="775.5"/><line x1="205.8" y1="775.5" x2="208.9" y2="772.4"/>
<line x1="215.3" y1="773.5" x2="218.4" y2="776.6"/><line x1="215.3" y1="776.6" x2="218.4" y2="773.5"/>
<line x1="200.9" y1="782.9" x2="204.0" y2="786.0"/><line x1="200.9" y1="786.0" x2="204.0" y2="782.9"/>
<line x1="234.6" y1="781.8" x2="237.7" y2="784.9"/><line x1="234.6" y1="784.9" x2="237.7" y2="781.8"/>
<line x1="253.7" y1="780.3" x2="256.8" y2="783.4"/><line x1="253.7" y1="783.4" x2="256.8" y2="780.3"/>
<line x1="449.7" y1="730.1" x2="452.8" y2="733.2"/><line x1="449.7" y1="733.2" x2="452.8" y2="730.1"/>
<line x1="478.5" y1="738.4" x2="481.6" y2="741.5"/><line x1="478.5" y1="741.5" x2="481.6" y2="738.4"/>
<line x1="489.8" y1="752.1" x2="492.9" y2="755.2"/><line x1="489.8" y1="755.2" x2="492.9" y2="752.1"/>
<line x1="398.4" y1="756.9" x2="401.5" y2="760.0"/><line x1="398.4" y1="760.0" x2="401.5" y2="756.9"/>
<line x1="394.3" y1="763.7" x2="397.4" y2="766.8"/><line x1="394.3" y1="766.8" x2="397.4" y2="763.7"/>
<line x1="491.4" y1="767.4" x2="494.5" y2="770.5"/><line x1="491.4" y1="770.5" x2="494.5" y2="767.4"/>
<line x1="558.6" y1="762.2" x2="561.7" y2="765.3"/><line x1="558.6" y1="765.3" x2="561.7" y2="762.2"/>
<line x1="542.5" y1="771.0" x2="545.6" y2="774.1"/><line x1="542.5" y1="774.1" x2="545.6" y2="771.0"/>
<line x1="448.4" y1="789.7" x2="451.5" y2="792.8"/><line x1="448.4" y1="792.8" x2="451.5" y2="789.7"/>
<line x1="460.2" y1="790.1" x2="463.3" y2="793.2"/><line x1="460.2" y1="793.2" x2="463.3" y2="790.1"/>
<line x1="495.5" y1="789.5" x2="498.6" y2="792.6"/><line x1="495.5" y1="792.6" x2="498.6" y2="789.5"/>
<line x1="530.8" y1="787.1" x2="533.9" y2="790.2"/><line x1="530.8" y1="790.2" x2="533.9" y2="787.1"/>
<line x1="566.0" y1="783.7" x2="569.1" y2="786.8"/><line x1="566.0" y1="786.8" x2="569.1" y2="783.7"/>
<line x1="392.2" y1="791.6" x2="395.3" y2="794.7"/><line x1="392.2" y1="794.7" x2="395.3" y2="791.6"/>
<line x1="408.7" y1="802.7" x2="411.8" y2="805.8"/><line x1="408.7" y1="805.8" x2="411.8" y2="802.7"/>
<line x1="445.8" y1="804.3" x2="448.9" y2="807.4"/><line x1="445.8" y1="807.4" x2="448.9" y2="804.3"/>
<line x1="464.1" y1="806.0" x2="467.2" y2="809.1"/><line x1="464.1" y1="809.1" x2="467.2" y2="806.0"/>
<line x1="473.5" y1="805.8" x2="476.6" y2="808.9"/><line x1="473.5" y1="808.9" x2="476.6" y2="805.8"/>
<line x1="538.3" y1="802.3" x2="541.4" y2="805.4"/><line x1="538.3" y1="805.4" x2="541.4" y2="802.3"/>
<line x1="459.4" y1="811.3" x2="462.5" y2="814.4"/><line x1="459.4" y1="814.4" x2="462.5" y2="811.3"/>
<line x1="497.8" y1="817.6" x2="500.9" y2="820.7"/><line x1="497.8" y1="820.7" x2="500.9" y2="817.6"/>
<line x1="449.7" y1="822.9" x2="452.8" y2="826.0"/><line x1="449.7" y1="826.0" x2="452.8" y2="822.9"/>
<line x1="813.6" y1="719.5" x2="816.7" y2="722.6"/><line x1="813.6" y1="722.6" x2="816.7" y2="719.5"/>
<line x1="869.2" y1="731.7" x2="872.3" y2="734.8"/><line x1="869.2" y1="734.8" x2="872.3" y2="731.7"/>
<line x1="887.8" y1="732.4" x2="890.9" y2="735.5"/><line x1="887.8" y1="735.5" x2="890.9" y2="732.4"/>
<line x1="999.2" y1="726.6" x2="1002.3" y2="729.7"/><line x1="999.2" y1="729.7" x2="1002.3" y2="726.6"/>
<line x1="958.0" y1="745.4" x2="961.1" y2="748.5"/><line x1="958.0" y1="748.5" x2="961.1" y2="745.4"/>
<line x1="1001.3" y1="741.2" x2="1004.4" y2="744.3"/><line x1="1001.3" y1="744.3" x2="1004.4" y2="741.2"/>
<line x1="871.8" y1="754.6" x2="874.9" y2="757.7"/><line x1="871.8" y1="757.7" x2="874.9" y2="754.6"/>
<line x1="911.0" y1="756.2" x2="914.1" y2="759.3"/><line x1="911.0" y1="759.3" x2="914.1" y2="756.2"/>
<line x1="982.4" y1="752.1" x2="985.5" y2="755.2"/><line x1="982.4" y1="755.2" x2="985.5" y2="752.1"/>
<line x1="935.0" y1="758.9" x2="938.1" y2="762.0"/><line x1="935.0" y1="762.0" x2="938.1" y2="758.9"/>
<line x1="973.4" y1="765.2" x2="976.5" y2="768.3"/><line x1="973.4" y1="768.3" x2="976.5" y2="765.2"/>
<line x1="858.2" y1="788.7" x2="861.3" y2="791.8"/><line x1="858.2" y1="791.8" x2="861.3" y2="788.7"/>
<line x1="906.1" y1="793.7" x2="909.2" y2="796.8"/><line x1="906.1" y1="796.8" x2="909.2" y2="793.7"/>
<line x1="944.7" y1="789.4" x2="947.8" y2="792.5"/><line x1="944.7" y1="792.5" x2="947.8" y2="789.4"/>
<line x1="862.8" y1="794.1" x2="865.9" y2="797.2"/><line x1="862.8" y1="797.2" x2="865.9" y2="794.1"/>
<line x1="891.7" y1="797.3" x2="894.8" y2="800.4"/><line x1="891.7" y1="800.4" x2="894.8" y2="797.3"/>
<line x1="920.5" y1="806.1" x2="923.6" y2="809.2"/><line x1="920.5" y1="809.2" x2="923.6" y2="806.1"/>
<line x1="939.8" y1="803.6" x2="942.9" y2="806.7"/><line x1="939.8" y1="806.7" x2="942.9" y2="803.6"/>
<line x1="906.1" y1="815.5" x2="909.2" y2="818.6"/><line x1="906.1" y1="818.6" x2="909.2" y2="815.5"/>
<line x1="901.4" y1="820.4" x2="904.5" y2="823.5"/><line x1="901.4" y1="823.5" x2="904.5" y2="820.4"/>
<line x1="911.0" y1="845.5" x2="914.1" y2="848.6"/><line x1="911.0" y1="848.6" x2="914.1" y2="845.5"/>
<line x1="1175.0" y1="747.1" x2="1178.1" y2="750.2"/><line x1="1175.0" y1="750.2" x2="1178.1" y2="747.1"/>
<line x1="1127.0" y1="752.4" x2="1130.1" y2="755.5"/><line x1="1127.0" y1="755.5" x2="1130.1" y2="752.4"/>
<line x1="1151.0" y1="771.5" x2="1154.1" y2="774.6"/><line x1="1151.0" y1="774.6" x2="1154.1" y2="771.5"/>
<line x1="1078.9" y1="773.0" x2="1082.0" y2="776.1"/><line x1="1078.9" y1="776.1" x2="1082.0" y2="773.0"/>
<line x1="1184.7" y1="776.0" x2="1187.8" y2="779.1"/><line x1="1184.7" y1="779.1" x2="1187.8" y2="776.0"/>
<line x1="1102.8" y1="803.5" x2="1105.9" y2="806.6"/><line x1="1102.8" y1="806.6" x2="1105.9" y2="803.5"/>
<line x1="1053.6" y1="808.6" x2="1056.7" y2="811.7"/><line x1="1053.6" y1="811.7" x2="1056.7" y2="808.6"/>
<line x1="1177.6" y1="813.8" x2="1180.7" y2="816.9"/><line x1="1177.6" y1="816.9" x2="1180.7" y2="813.8"/>
<line x1="1074.2" y1="815.1" x2="1077.3" y2="818.2"/><line x1="1074.2" y1="818.2" x2="1077.3" y2="815.1"/>
<line x1="1102.8" y1="817.8" x2="1105.9" y2="820.9"/><line x1="1102.8" y1="820.9" x2="1105.9" y2="817.8"/>
<line x1="1122.1" y1="820.9" x2="1125.2" y2="824.0"/><line x1="1122.1" y1="824.0" x2="1125.2" y2="820.9"/>
<line x1="1151.0" y1="823.0" x2="1154.1" y2="826.1"/><line x1="1151.0" y1="826.1" x2="1154.1" y2="823.0"/>
<line x1="1179.8" y1="820.9" x2="1182.9" y2="824.0"/><line x1="1179.8" y1="824.0" x2="1182.9" y2="820.9"/>
<line x1="1175.0" y1="828.5" x2="1178.1" y2="831.6"/><line x1="1175.0" y1="831.6" x2="1178.1" y2="828.5"/>
<line x1="1122.1" y1="835.1" x2="1125.2" y2="838.2"/><line x1="1122.1" y1="838.2" x2="1125.2" y2="835.1"/>
<line x1="1160.5" y1="837.7" x2="1163.6" y2="840.8"/><line x1="1160.5" y1="840.8" x2="1163.6" y2="837.7"/>
<line x1="1160.5" y1="844.7" x2="1163.6" y2="847.8"/><line x1="1160.5" y1="847.8" x2="1163.6" y2="844.7"/>
<line x1="1170.3" y1="857.8" x2="1173.4" y2="860.9"/><line x1="1170.3" y1="860.9" x2="1173.4" y2="857.8"/>
<line x1="1175.0" y1="861.7" x2="1178.1" y2="864.8"/><line x1="1175.0" y1="864.8" x2="1178.1" y2="861.7"/>
<line x1="1146.1" y1="868.8" x2="1149.2" y2="871.9"/><line x1="1146.1" y1="871.9" x2="1149.2" y2="868.8"/>
<line x1="1151.0" y1="884.6" x2="1154.1" y2="887.7"/><line x1="1151.0" y1="887.7" x2="1154.1" y2="884.6"/>
<line x1="1151.0" y1="892.1" x2="1154.1" y2="895.2"/><line x1="1151.0" y1="895.2" x2="1154.1" y2="892.1"/>
</g>
</svg>
</body></html>
